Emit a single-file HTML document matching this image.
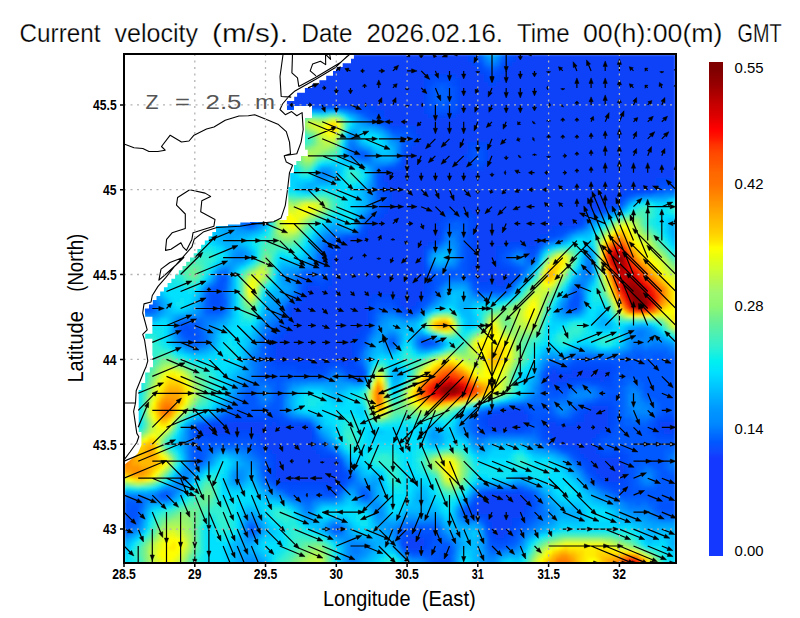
<!DOCTYPE html>
<html><head><meta charset="utf-8"><style>
html,body{margin:0;padding:0;background:#fff;width:800px;height:618px;overflow:hidden}
svg{display:block}
text{font-family:"Liberation Sans",sans-serif}
.ttl{font-size:25px;fill:#000;stroke:#fff;stroke-width:0.25px}
.ax{font-size:21.6px;fill:#000}
.tk{font-size:14px;font-weight:bold;fill:#000}
.cbl{font-size:14.2px;fill:#000}
.zl{font-size:20.5px;fill:#555}
</style></head><body><svg width="800" height="618" viewBox="0 0 800 618"><defs><clipPath id="pc"><rect x="124" y="54" width="552" height="509"/></clipPath><filter id="bl" x="0" y="0" width="1" height="1"><feGaussianBlur stdDeviation="1.6"/></filter></defs><g clip-path="url(#pc)"><g filter="url(#bl)"><path fill="#0842f8" d="M124 54h344v4h-344zM516 54h160v4h-160zM124 58h344v4h-344zM516 58h160v4h-160zM124 62h348v4h-348zM512 62h164v4h-164zM124 66h352v4h-352zM508 66h168v4h-168zM124 70h356v4h-356zM504 70h172v4h-172zM124 74h304v4h-304zM456 74h28v4h-28zM500 74h176v4h-176zM124 78h300v4h-300zM460 78h24v4h-24zM500 78h176v4h-176zM124 82h300v4h-300zM460 82h28v4h-28zM496 82h180v4h-180zM124 86h300v4h-300zM460 86h216v4h-216zM124 90h300v4h-300zM460 90h216v4h-216zM124 94h300v4h-300zM460 94h216v4h-216zM124 98h300v4h-300zM460 98h216v4h-216zM124 102h300v4h-300zM460 102h216v4h-216zM212 106h60v4h-60zM376 106h48v4h-48zM460 106h216v4h-216zM216 110h48v4h-48zM384 110h40v4h-40zM460 110h216v4h-216zM216 114h44v4h-44zM384 114h44v4h-44zM456 114h220v4h-220zM220 118h28v4h-28zM388 118h288v4h-288zM392 122h284v4h-284zM416 126h260v4h-260zM416 130h260v4h-260zM420 134h256v4h-256zM420 138h256v4h-256zM416 142h52v4h-52zM488 142h188v4h-188zM412 146h56v4h-56zM488 146h188v4h-188zM408 150h60v4h-60zM488 150h188v4h-188zM408 154h56v4h-56zM488 154h188v4h-188zM404 158h64v4h-64zM488 158h188v4h-188zM404 162h64v4h-64zM488 162h188v4h-188zM404 166h64v4h-64zM484 166h192v4h-192zM392 170h284v4h-284zM384 174h292v4h-292zM384 178h272v4h-272zM388 182h268v4h-268zM388 186h264v4h-264zM392 190h232v4h-232zM392 194h228v4h-228zM392 198h228v4h-228zM392 202h224v4h-224zM388 206h216v4h-216zM388 210h56v4h-56zM472 210h112v4h-112zM384 214h56v4h-56zM476 214h108v4h-108zM380 218h60v4h-60zM476 218h104v4h-104zM376 222h60v4h-60zM476 222h100v4h-100zM372 226h68v4h-68zM476 226h76v4h-76zM368 230h72v4h-72zM476 230h72v4h-72zM368 234h72v4h-72zM476 234h64v4h-64zM348 238h88v4h-88zM476 238h60v4h-60zM344 242h84v4h-84zM476 242h28v4h-28zM528 242h8v4h-8zM340 246h84v4h-84zM476 246h20v4h-20zM340 250h84v4h-84zM476 250h20v4h-20zM336 254h88v4h-88zM476 254h20v4h-20zM332 258h92v4h-92zM476 258h20v4h-20zM332 262h92v4h-92zM476 262h20v4h-20zM332 266h92v4h-92zM472 266h28v4h-28zM332 270h92v4h-92zM476 270h32v4h-32zM332 274h92v4h-92zM476 274h32v4h-32zM332 278h92v4h-92zM480 278h8v4h-8zM492 278h16v4h-16zM332 282h92v4h-92zM496 282h8v4h-8zM308 286h12v4h-12zM328 286h96v4h-96zM308 290h116v4h-116zM304 294h68v4h-68zM396 294h24v4h-24zM304 298h64v4h-64zM400 298h20v4h-20zM300 302h68v4h-68zM400 302h16v4h-16zM292 306h76v4h-76zM404 306h8v4h-8zM292 310h76v4h-76zM292 314h76v4h-76zM292 318h76v4h-76zM292 322h76v4h-76zM292 326h72v4h-72zM288 330h72v4h-72zM284 334h72v4h-72zM280 338h72v4h-72zM276 342h76v4h-76zM276 346h76v4h-76zM276 350h76v4h-76zM276 354h76v4h-76zM276 358h76v4h-76zM316 362h4v4h-4zM344 362h4v4h-4zM552 370h4v4h-4zM572 370h36v4h-36zM548 374h60v4h-60zM548 378h20v4h-20zM600 378h4v4h-4zM552 382h4v4h-4zM592 406h16v4h-16zM500 410h24v4h-24zM588 410h20v4h-20zM492 414h36v4h-36zM584 414h24v4h-24zM488 418h40v4h-40zM584 418h24v4h-24zM228 422h36v4h-36zM272 422h4v4h-4zM488 422h36v4h-36zM548 422h8v4h-8zM576 422h32v4h-32zM660 422h16v4h-16zM204 426h104v4h-104zM492 426h28v4h-28zM548 426h60v4h-60zM660 426h16v4h-16zM204 430h36v4h-36zM252 430h60v4h-60zM548 430h52v4h-52zM664 430h8v4h-8zM260 434h52v4h-52zM552 434h44v4h-44zM260 438h52v4h-52zM556 438h36v4h-36zM264 442h48v4h-48zM560 442h32v4h-32zM268 446h44v4h-44zM576 446h20v4h-20zM272 450h44v4h-44zM580 450h16v4h-16zM276 454h44v4h-44zM584 454h16v4h-16zM276 458h60v4h-60zM588 458h32v4h-32zM276 462h64v4h-64zM592 462h32v4h-32zM276 466h64v4h-64zM592 466h32v4h-32zM276 470h64v4h-64zM596 470h28v4h-28zM276 474h64v4h-64zM600 474h24v4h-24zM280 478h60v4h-60zM604 478h16v4h-16zM328 482h8v4h-8zM488 494h36v4h-36zM480 498h48v4h-48zM476 502h52v4h-52zM476 506h48v4h-48zM476 510h48v4h-48zM488 514h32v4h-32zM488 518h24v4h-24zM492 522h20v4h-20zM492 526h16v4h-16zM492 530h16v4h-16zM496 534h8v4h-8zM408 538h16v4h-16zM404 542h20v4h-20zM408 546h12v4h-12z"/><path fill="#0648fa" d="M468 54h4v4h-4zM512 54h4v4h-4zM468 58h4v4h-4zM512 58h4v4h-4zM472 62h4v4h-4zM508 62h4v4h-4zM476 66h4v4h-4zM504 66h4v4h-4zM480 70h4v4h-4zM500 70h4v4h-4zM428 74h28v4h-28zM484 74h4v4h-4zM496 74h4v4h-4zM424 78h8v4h-8zM456 78h4v4h-4zM484 78h16v4h-16zM424 82h4v4h-4zM456 82h4v4h-4zM488 82h8v4h-8zM424 86h4v4h-4zM424 90h4v4h-4zM424 94h4v4h-4zM424 98h4v4h-4zM424 102h4v4h-4zM124 106h88v4h-88zM272 106h20v4h-20zM360 106h16v4h-16zM424 106h4v4h-4zM456 106h4v4h-4zM212 110h4v4h-4zM264 110h12v4h-12zM372 110h12v4h-12zM424 110h4v4h-4zM456 110h4v4h-4zM260 114h8v4h-8zM380 114h4v4h-4zM428 114h28v4h-28zM216 118h4v4h-4zM248 118h12v4h-12zM384 118h4v4h-4zM388 122h4v4h-4zM408 126h8v4h-8zM412 130h4v4h-4zM416 134h4v4h-4zM416 138h4v4h-4zM412 142h4v4h-4zM468 142h20v4h-20zM408 146h4v4h-4zM468 146h4v4h-4zM484 146h4v4h-4zM404 150h4v4h-4zM404 154h4v4h-4zM464 154h4v4h-4zM468 162h4v4h-4zM484 162h4v4h-4zM400 166h4v4h-4zM468 166h16v4h-16zM388 170h4v4h-4zM656 178h20v4h-20zM384 182h4v4h-4zM656 182h4v4h-4zM384 186h4v4h-4zM652 186h4v4h-4zM384 190h8v4h-8zM624 190h20v4h-20zM388 194h4v4h-4zM620 194h4v4h-4zM388 198h4v4h-4zM388 202h4v4h-4zM384 206h4v4h-4zM604 206h4v4h-4zM384 210h4v4h-4zM444 210h28v4h-28zM584 210h4v4h-4zM380 214h4v4h-4zM440 214h4v4h-4zM468 214h8v4h-8zM376 218h4v4h-4zM440 218h4v4h-4zM472 218h4v4h-4zM580 218h4v4h-4zM372 222h4v4h-4zM436 222h4v4h-4zM472 222h4v4h-4zM576 222h4v4h-4zM368 226h4v4h-4zM472 226h4v4h-4zM552 226h16v4h-16zM364 230h4v4h-4zM472 230h4v4h-4zM548 230h8v4h-8zM360 234h8v4h-8zM472 234h4v4h-4zM540 234h8v4h-8zM344 238h4v4h-4zM436 238h4v4h-4zM472 238h4v4h-4zM536 238h4v4h-4zM340 242h4v4h-4zM428 242h4v4h-4zM472 242h4v4h-4zM504 242h24v4h-24zM336 246h4v4h-4zM424 246h4v4h-4zM472 246h4v4h-4zM496 246h8v4h-8zM528 246h8v4h-8zM332 250h8v4h-8zM472 250h4v4h-4zM496 250h4v4h-4zM328 254h8v4h-8zM472 254h4v4h-4zM496 254h4v4h-4zM328 258h4v4h-4zM472 258h4v4h-4zM496 258h4v4h-4zM328 262h4v4h-4zM472 262h4v4h-4zM496 262h4v4h-4zM500 266h8v4h-8zM472 270h4v4h-4zM508 270h4v4h-4zM424 274h4v4h-4zM472 274h4v4h-4zM508 274h4v4h-4zM328 278h4v4h-4zM424 278h4v4h-4zM476 278h4v4h-4zM488 278h4v4h-4zM508 278h4v4h-4zM308 282h8v4h-8zM324 282h8v4h-8zM424 282h8v4h-8zM476 282h20v4h-20zM504 282h4v4h-4zM304 286h4v4h-4zM320 286h8v4h-8zM424 286h4v4h-4zM500 286h4v4h-4zM304 290h4v4h-4zM424 290h4v4h-4zM372 294h24v4h-24zM420 294h4v4h-4zM300 298h4v4h-4zM368 298h8v4h-8zM392 298h8v4h-8zM420 298h4v4h-4zM296 302h4v4h-4zM368 302h4v4h-4zM396 302h4v4h-4zM416 302h4v4h-4zM368 306h4v4h-4zM400 306h4v4h-4zM412 306h4v4h-4zM288 310h4v4h-4zM288 314h4v4h-4zM288 318h4v4h-4zM288 322h4v4h-4zM288 326h4v4h-4zM364 326h4v4h-4zM284 330h4v4h-4zM360 330h4v4h-4zM280 334h4v4h-4zM356 334h8v4h-8zM276 338h4v4h-4zM352 338h8v4h-8zM272 342h4v4h-4zM352 342h4v4h-4zM272 346h4v4h-4zM352 346h4v4h-4zM272 350h4v4h-4zM352 350h4v4h-4zM272 354h4v4h-4zM352 354h4v4h-4zM272 358h4v4h-4zM352 358h4v4h-4zM276 362h40v4h-40zM320 362h12v4h-12zM340 362h4v4h-4zM348 362h8v4h-8zM296 366h28v4h-28zM348 366h8v4h-8zM572 366h40v4h-40zM356 370h4v4h-4zM548 370h4v4h-4zM556 370h16v4h-16zM608 370h4v4h-4zM608 374h4v4h-4zM568 378h32v4h-32zM604 378h8v4h-8zM548 382h4v4h-4zM556 382h12v4h-12zM512 406h8v4h-8zM588 406h4v4h-4zM608 406h4v4h-4zM496 410h4v4h-4zM524 410h4v4h-4zM584 410h4v4h-4zM608 410h4v4h-4zM488 414h4v4h-4zM580 414h4v4h-4zM608 414h4v4h-4zM232 418h48v4h-48zM484 418h4v4h-4zM548 418h4v4h-4zM576 418h8v4h-8zM608 418h4v4h-4zM660 418h16v4h-16zM212 422h16v4h-16zM264 422h8v4h-8zM276 422h16v4h-16zM300 422h4v4h-4zM484 422h4v4h-4zM524 422h4v4h-4zM544 422h4v4h-4zM556 422h20v4h-20zM608 422h4v4h-4zM656 422h4v4h-4zM200 426h4v4h-4zM308 426h4v4h-4zM488 426h4v4h-4zM520 426h4v4h-4zM544 426h4v4h-4zM608 426h4v4h-4zM656 426h4v4h-4zM200 430h4v4h-4zM240 430h12v4h-12zM544 430h4v4h-4zM600 430h8v4h-8zM656 430h8v4h-8zM672 430h4v4h-4zM200 434h40v4h-40zM252 434h8v4h-8zM548 434h4v4h-4zM596 434h4v4h-4zM256 438h4v4h-4zM552 438h4v4h-4zM592 438h4v4h-4zM260 442h4v4h-4zM312 442h4v4h-4zM556 442h4v4h-4zM592 442h4v4h-4zM264 446h4v4h-4zM312 446h4v4h-4zM564 446h12v4h-12zM268 450h4v4h-4zM316 450h4v4h-4zM576 450h4v4h-4zM596 450h4v4h-4zM272 454h4v4h-4zM320 454h12v4h-12zM580 454h4v4h-4zM600 454h24v4h-24zM272 458h4v4h-4zM336 458h4v4h-4zM584 458h4v4h-4zM620 458h4v4h-4zM272 462h4v4h-4zM588 462h4v4h-4zM272 466h4v4h-4zM588 466h4v4h-4zM624 466h4v4h-4zM272 470h4v4h-4zM340 470h4v4h-4zM592 470h4v4h-4zM624 470h4v4h-4zM272 474h4v4h-4zM340 474h4v4h-4zM596 474h4v4h-4zM276 478h4v4h-4zM340 478h4v4h-4zM600 478h4v4h-4zM620 478h4v4h-4zM284 482h44v4h-44zM336 482h4v4h-4zM608 482h16v4h-16zM324 486h12v4h-12zM516 490h4v4h-4zM484 494h4v4h-4zM524 494h4v4h-4zM528 498h4v4h-4zM528 502h4v4h-4zM472 506h4v4h-4zM524 506h4v4h-4zM468 510h8v4h-8zM524 510h4v4h-4zM480 514h8v4h-8zM520 514h4v4h-4zM512 518h8v4h-8zM488 522h4v4h-4zM512 522h4v4h-4zM488 526h4v4h-4zM508 526h4v4h-4zM508 530h4v4h-4zM408 534h12v4h-12zM492 534h4v4h-4zM504 534h4v4h-4zM404 538h4v4h-4zM424 538h4v4h-4zM496 538h8v4h-8zM424 542h4v4h-4zM404 546h4v4h-4zM420 546h8v4h-8z"/><path fill="#044dfc" d="M472 54h4v4h-4zM508 54h4v4h-4zM472 58h4v4h-4zM508 58h4v4h-4zM476 62h4v4h-4zM504 62h4v4h-4zM480 66h4v4h-4zM500 66h4v4h-4zM484 70h4v4h-4zM496 70h4v4h-4zM488 74h8v4h-8zM432 78h24v4h-24zM428 82h4v4h-4zM452 82h4v4h-4zM456 86h4v4h-4zM456 90h4v4h-4zM456 94h4v4h-4zM456 98h4v4h-4zM456 102h4v4h-4zM292 106h8v4h-8zM348 106h12v4h-12zM428 106h4v4h-4zM192 110h20v4h-20zM276 110h4v4h-4zM368 110h4v4h-4zM428 110h8v4h-8zM448 110h8v4h-8zM212 114h4v4h-4zM268 114h4v4h-4zM376 114h4v4h-4zM260 118h4v4h-4zM380 118h4v4h-4zM220 122h16v4h-16zM392 126h16v4h-16zM408 130h4v4h-4zM412 134h4v4h-4zM412 138h4v4h-4zM408 142h4v4h-4zM472 146h12v4h-12zM468 150h4v4h-4zM484 150h4v4h-4zM468 154h4v4h-4zM484 154h4v4h-4zM468 158h4v4h-4zM484 158h4v4h-4zM400 162h4v4h-4zM472 162h12v4h-12zM396 166h4v4h-4zM384 170h4v4h-4zM380 174h4v4h-4zM380 178h4v4h-4zM380 182h4v4h-4zM660 182h16v4h-16zM656 186h4v4h-4zM644 190h8v4h-8zM384 194h4v4h-4zM624 194h4v4h-4zM384 198h4v4h-4zM620 198h4v4h-4zM384 202h4v4h-4zM616 202h4v4h-4zM608 206h4v4h-4zM380 210h4v4h-4zM588 210h8v4h-8zM376 214h4v4h-4zM444 214h24v4h-24zM584 214h4v4h-4zM372 218h4v4h-4zM444 218h4v4h-4zM468 218h4v4h-4zM368 222h4v4h-4zM440 222h4v4h-4zM468 222h4v4h-4zM580 222h4v4h-4zM364 226h4v4h-4zM440 226h4v4h-4zM468 226h4v4h-4zM568 226h8v4h-8zM440 230h4v4h-4zM468 230h4v4h-4zM556 230h8v4h-8zM356 234h4v4h-4zM468 234h4v4h-4zM548 234h8v4h-8zM340 238h4v4h-4zM468 238h4v4h-4zM540 238h4v4h-4zM336 242h4v4h-4zM432 242h4v4h-4zM468 242h4v4h-4zM536 242h4v4h-4zM332 246h4v4h-4zM468 246h4v4h-4zM504 246h8v4h-8zM524 246h4v4h-4zM328 250h4v4h-4zM468 250h4v4h-4zM500 250h4v4h-4zM528 250h8v4h-8zM468 254h4v4h-4zM324 258h4v4h-4zM468 258h4v4h-4zM468 262h4v4h-4zM500 262h4v4h-4zM328 266h4v4h-4zM424 266h4v4h-4zM468 266h4v4h-4zM508 266h4v4h-4zM328 270h4v4h-4zM424 270h4v4h-4zM468 270h4v4h-4zM512 270h4v4h-4zM328 274h4v4h-4zM428 274h4v4h-4zM512 274h4v4h-4zM308 278h8v4h-8zM324 278h4v4h-4zM428 278h4v4h-4zM472 278h4v4h-4zM304 282h4v4h-4zM316 282h8v4h-8zM508 282h4v4h-4zM428 286h4v4h-4zM480 286h20v4h-20zM504 286h4v4h-4zM428 290h4v4h-4zM212 294h8v4h-8zM300 294h4v4h-4zM424 294h4v4h-4zM212 298h8v4h-8zM296 298h4v4h-4zM376 298h16v4h-16zM212 302h8v4h-8zM292 302h4v4h-4zM372 302h4v4h-4zM392 302h4v4h-4zM288 306h4v4h-4zM396 306h4v4h-4zM416 306h4v4h-4zM368 310h4v4h-4zM404 310h8v4h-8zM368 314h4v4h-4zM368 318h4v4h-4zM284 322h4v4h-4zM368 322h4v4h-4zM184 326h4v4h-4zM284 326h4v4h-4zM188 330h4v4h-4zM280 330h4v4h-4zM364 330h4v4h-4zM272 334h8v4h-8zM272 338h4v4h-4zM360 338h4v4h-4zM268 342h4v4h-4zM356 342h4v4h-4zM268 346h4v4h-4zM356 346h4v4h-4zM268 350h4v4h-4zM268 354h4v4h-4zM272 362h4v4h-4zM332 362h8v4h-8zM576 362h36v4h-36zM276 366h20v4h-20zM324 366h4v4h-4zM344 366h4v4h-4zM356 366h4v4h-4zM552 366h4v4h-4zM568 366h4v4h-4zM612 366h4v4h-4zM296 370h28v4h-28zM348 370h8v4h-8zM360 370h4v4h-4zM612 370h4v4h-4zM356 374h8v4h-8zM544 374h4v4h-4zM544 378h4v4h-4zM544 382h4v4h-4zM568 382h4v4h-4zM600 382h12v4h-12zM548 386h16v4h-16zM596 402h16v4h-16zM504 406h8v4h-8zM520 406h4v4h-4zM584 406h4v4h-4zM612 406h4v4h-4zM492 410h4v4h-4zM580 410h4v4h-4zM612 410h4v4h-4zM236 414h12v4h-12zM268 414h8v4h-8zM484 414h4v4h-4zM528 414h4v4h-4zM576 414h4v4h-4zM612 414h4v4h-4zM664 414h8v4h-8zM224 418h8v4h-8zM280 418h4v4h-4zM480 418h4v4h-4zM528 418h4v4h-4zM544 418h4v4h-4zM552 418h4v4h-4zM572 418h4v4h-4zM612 418h4v4h-4zM656 418h4v4h-4zM208 422h4v4h-4zM292 422h8v4h-8zM304 422h4v4h-4zM480 422h4v4h-4zM540 422h4v4h-4zM612 422h4v4h-4zM196 426h4v4h-4zM484 426h4v4h-4zM524 426h4v4h-4zM540 426h4v4h-4zM652 426h4v4h-4zM196 430h4v4h-4zM492 430h8v4h-8zM516 430h4v4h-4zM608 430h4v4h-4zM652 430h4v4h-4zM196 434h4v4h-4zM240 434h12v4h-12zM312 434h4v4h-4zM544 434h4v4h-4zM600 434h8v4h-8zM656 434h20v4h-20zM208 438h28v4h-28zM252 438h4v4h-4zM312 438h4v4h-4zM548 438h4v4h-4zM596 438h4v4h-4zM256 442h4v4h-4zM316 442h4v4h-4zM552 442h4v4h-4zM596 442h4v4h-4zM260 446h4v4h-4zM316 446h4v4h-4zM560 446h4v4h-4zM596 446h4v4h-4zM264 450h4v4h-4zM320 450h4v4h-4zM572 450h4v4h-4zM600 450h4v4h-4zM612 450h12v4h-12zM268 454h4v4h-4zM332 454h4v4h-4zM576 454h4v4h-4zM624 454h4v4h-4zM268 458h4v4h-4zM580 458h4v4h-4zM624 458h4v4h-4zM584 462h4v4h-4zM624 462h4v4h-4zM268 466h4v4h-4zM340 466h4v4h-4zM268 470h4v4h-4zM588 470h4v4h-4zM268 474h4v4h-4zM344 474h4v4h-4zM592 474h4v4h-4zM624 474h4v4h-4zM272 478h4v4h-4zM596 478h4v4h-4zM624 478h4v4h-4zM276 482h8v4h-8zM340 482h4v4h-4zM604 482h4v4h-4zM624 482h4v4h-4zM288 486h36v4h-36zM336 486h4v4h-4zM612 486h16v4h-16zM324 490h12v4h-12zM488 490h28v4h-28zM520 490h4v4h-4zM480 494h4v4h-4zM528 494h4v4h-4zM476 498h4v4h-4zM472 502h4v4h-4zM468 506h4v4h-4zM528 506h4v4h-4zM472 514h8v4h-8zM524 514h4v4h-4zM484 518h4v4h-4zM520 518h4v4h-4zM516 522h4v4h-4zM512 526h4v4h-4zM488 530h4v4h-4zM512 530h4v4h-4zM404 534h4v4h-4zM420 534h12v4h-12zM488 534h4v4h-4zM508 534h4v4h-4zM428 538h4v4h-4zM492 538h4v4h-4zM504 538h4v4h-4zM428 542h4v4h-4zM412 550h12v4h-12z"/><path fill="#0058ff" d="M476 54h4v4h-4zM504 54h4v4h-4zM484 66h4v4h-4zM496 66h4v4h-4zM436 82h12v4h-12zM432 86h8v4h-8zM444 86h8v4h-8zM432 90h4v4h-4zM448 90h4v4h-4zM432 94h4v4h-4zM448 94h4v4h-4zM432 98h4v4h-4zM448 98h4v4h-4zM432 102h8v4h-8zM444 102h8v4h-8zM304 106h40v4h-40zM436 106h12v4h-12zM288 110h4v4h-4zM356 110h4v4h-4zM192 114h12v4h-12zM364 114h4v4h-4zM208 118h4v4h-4zM272 118h4v4h-4zM372 118h4v4h-4zM252 122h8v4h-8zM380 122h4v4h-4zM392 130h8v4h-8zM404 134h4v4h-4zM404 138h4v4h-4zM404 142h4v4h-4zM476 150h4v4h-4zM360 154h8v4h-8zM400 154h4v4h-4zM476 154h4v4h-4zM396 162h4v4h-4zM384 166h4v4h-4zM376 174h4v4h-4zM376 178h4v4h-4zM376 182h4v4h-4zM240 186h12v4h-12zM376 186h4v4h-4zM664 186h4v4h-4zM240 190h4v4h-4zM376 190h4v4h-4zM240 194h4v4h-4zM628 194h4v4h-4zM240 198h4v4h-4zM240 202h12v4h-12zM620 202h4v4h-4zM244 206h8v4h-8zM376 206h4v4h-4zM616 206h4v4h-4zM244 210h4v4h-4zM252 210h4v4h-4zM604 210h4v4h-4zM244 214h4v4h-4zM252 214h4v4h-4zM588 214h4v4h-4zM244 218h4v4h-4zM252 218h4v4h-4zM456 218h4v4h-4zM248 222h4v4h-4zM448 222h4v4h-4zM460 222h8v4h-8zM360 226h4v4h-4zM444 226h4v4h-4zM464 226h4v4h-4zM576 226h4v4h-4zM464 230h4v4h-4zM344 234h8v4h-8zM560 234h4v4h-4zM336 238h4v4h-4zM440 238h4v4h-4zM548 238h4v4h-4zM328 242h4v4h-4zM540 242h4v4h-4zM324 246h4v4h-4zM516 246h4v4h-4zM508 250h4v4h-4zM524 250h4v4h-4zM320 254h4v4h-4zM504 254h4v4h-4zM320 258h4v4h-4zM424 258h4v4h-4zM504 258h4v4h-4zM320 262h4v4h-4zM460 262h4v4h-4zM508 262h4v4h-4zM320 266h4v4h-4zM460 266h4v4h-4zM516 266h4v4h-4zM320 270h4v4h-4zM448 270h16v4h-16zM220 274h4v4h-4zM304 274h4v4h-4zM312 274h12v4h-12zM436 274h20v4h-20zM464 274h4v4h-4zM224 278h4v4h-4zM300 278h4v4h-4zM436 278h8v4h-8zM468 278h4v4h-4zM216 282h4v4h-4zM300 282h4v4h-4zM436 282h4v4h-4zM212 286h4v4h-4zM472 286h4v4h-4zM508 286h4v4h-4zM220 290h4v4h-4zM432 290h4v4h-4zM476 290h24v4h-24zM504 290h4v4h-4zM576 290h4v4h-4zM296 294h4v4h-4zM572 294h4v4h-4zM124 298h12v4h-12zM292 298h4v4h-4zM428 298h4v4h-4zM132 302h20v4h-20zM424 302h4v4h-4zM568 302h4v4h-4zM124 306h20v4h-20zM208 306h4v4h-4zM284 306h4v4h-4zM376 306h20v4h-20zM420 306h4v4h-4zM568 306h4v4h-4zM576 306h4v4h-4zM208 310h12v4h-12zM284 310h4v4h-4zM396 310h4v4h-4zM372 314h4v4h-4zM280 318h4v4h-4zM372 318h4v4h-4zM180 322h4v4h-4zM188 322h8v4h-8zM280 322h4v4h-4zM196 326h4v4h-4zM276 326h4v4h-4zM196 330h4v4h-4zM272 330h4v4h-4zM368 330h4v4h-4zM268 334h4v4h-4zM188 338h4v4h-4zM196 338h4v4h-4zM264 338h4v4h-4zM364 338h4v4h-4zM420 338h12v4h-12zM264 342h4v4h-4zM420 342h4v4h-4zM432 342h4v4h-4zM264 346h4v4h-4zM360 346h4v4h-4zM264 350h4v4h-4zM264 354h4v4h-4zM356 354h4v4h-4zM636 354h8v4h-8zM652 354h12v4h-12zM264 358h4v4h-4zM356 358h4v4h-4zM572 358h8v4h-8zM584 358h92v4h-92zM264 362h4v4h-4zM568 362h4v4h-4zM628 362h44v4h-44zM264 366h4v4h-4zM332 366h8v4h-8zM624 366h4v4h-4zM632 366h44v4h-44zM264 370h4v4h-4zM620 370h56v4h-56zM264 374h60v4h-60zM348 374h4v4h-4zM616 374h60v4h-60zM268 378h16v4h-16zM356 378h4v4h-4zM616 378h8v4h-8zM640 378h36v4h-36zM276 382h4v4h-4zM576 382h16v4h-16zM616 382h8v4h-8zM644 382h32v4h-32zM276 386h4v4h-4zM568 386h4v4h-4zM600 386h4v4h-4zM616 386h4v4h-4zM644 386h32v4h-32zM248 390h4v4h-4zM276 390h4v4h-4zM544 390h8v4h-8zM560 390h8v4h-8zM604 390h16v4h-16zM644 390h32v4h-32zM244 394h12v4h-12zM276 394h4v4h-4zM548 394h12v4h-12zM600 394h8v4h-8zM616 394h4v4h-4zM648 394h28v4h-28zM244 398h12v4h-12zM276 398h4v4h-4zM596 398h4v4h-4zM616 398h4v4h-4zM656 398h20v4h-20zM244 402h12v4h-12zM272 402h8v4h-8zM544 402h4v4h-4zM584 402h4v4h-4zM616 402h4v4h-4zM660 402h16v4h-16zM236 406h24v4h-24zM268 406h12v4h-12zM528 406h24v4h-24zM576 406h4v4h-4zM616 406h4v4h-4zM660 406h16v4h-16zM232 410h4v4h-4zM244 410h24v4h-24zM484 410h4v4h-4zM532 410h20v4h-20zM616 410h4v4h-4zM660 410h4v4h-4zM668 410h8v4h-8zM224 414h4v4h-4zM476 414h4v4h-4zM536 414h4v4h-4zM552 414h4v4h-4zM616 414h4v4h-4zM656 414h4v4h-4zM216 418h4v4h-4zM288 418h4v4h-4zM476 418h4v4h-4zM616 418h8v4h-8zM652 418h4v4h-4zM476 422h4v4h-4zM532 422h4v4h-4zM616 422h8v4h-8zM648 422h4v4h-4zM192 426h4v4h-4zM312 426h4v4h-4zM476 426h4v4h-4zM532 426h8v4h-8zM616 426h32v4h-32zM476 430h8v4h-8zM524 430h8v4h-8zM536 430h4v4h-4zM616 430h32v4h-32zM612 434h40v4h-40zM192 438h4v4h-4zM316 438h4v4h-4zM540 438h4v4h-4zM604 438h52v4h-52zM192 442h4v4h-4zM204 442h48v4h-48zM320 442h4v4h-4zM604 442h72v4h-72zM192 446h4v4h-4zM200 446h8v4h-8zM252 446h4v4h-4zM324 446h4v4h-4zM604 446h12v4h-12zM624 446h44v4h-44zM192 450h4v4h-4zM200 450h4v4h-4zM256 450h4v4h-4zM328 450h4v4h-4zM564 450h4v4h-4zM628 450h36v4h-36zM192 454h4v4h-4zM200 454h4v4h-4zM260 454h4v4h-4zM336 454h4v4h-4zM632 454h32v4h-32zM192 458h4v4h-4zM200 458h4v4h-4zM264 458h4v4h-4zM632 458h32v4h-32zM264 462h4v4h-4zM632 462h8v4h-8zM648 462h16v4h-16zM264 466h4v4h-4zM632 466h4v4h-4zM656 466h8v4h-8zM584 470h4v4h-4zM632 470h4v4h-4zM660 470h8v4h-8zM348 474h4v4h-4zM588 474h4v4h-4zM632 474h4v4h-4zM660 474h16v4h-16zM264 478h4v4h-4zM348 478h4v4h-4zM592 478h4v4h-4zM632 478h4v4h-4zM660 478h16v4h-16zM344 482h4v4h-4zM596 482h4v4h-4zM632 482h4v4h-4zM660 482h16v4h-16zM276 486h4v4h-4zM340 486h4v4h-4zM516 486h4v4h-4zM604 486h4v4h-4zM632 486h8v4h-8zM656 486h20v4h-20zM284 490h4v4h-4zM480 490h4v4h-4zM528 490h4v4h-4zM612 490h4v4h-4zM632 490h44v4h-44zM160 494h8v4h-8zM292 494h44v4h-44zM364 494h4v4h-4zM476 494h4v4h-4zM532 494h4v4h-4zM620 494h56v4h-56zM472 498h4v4h-4zM648 498h28v4h-28zM124 502h16v4h-16zM536 502h4v4h-4zM656 502h4v4h-4zM124 506h8v4h-8zM136 506h4v4h-4zM464 506h4v4h-4zM656 506h4v4h-4zM124 510h4v4h-4zM136 510h4v4h-4zM532 510h4v4h-4zM660 510h16v4h-16zM124 514h4v4h-4zM136 514h4v4h-4zM464 514h4v4h-4zM532 514h4v4h-4zM132 518h4v4h-4zM480 518h4v4h-4zM528 518h4v4h-4zM128 522h8v4h-8zM524 522h4v4h-4zM124 526h4v4h-4zM248 526h8v4h-8zM336 526h4v4h-4zM408 526h28v4h-28zM520 526h4v4h-4zM400 530h4v4h-4zM516 530h4v4h-4zM400 534h4v4h-4zM436 534h4v4h-4zM436 538h4v4h-4zM512 538h4v4h-4zM432 542h16v4h-16zM488 542h4v4h-4zM508 542h4v4h-4zM432 546h12v4h-12zM448 546h4v4h-4zM492 546h12v4h-12zM404 550h4v4h-4zM432 550h8v4h-8zM448 550h4v4h-4zM424 554h16v4h-16zM448 554h4v4h-4zM432 558h8v4h-8zM448 558h4v4h-4zM432 562h8v4h-8zM448 562h4v4h-4z"/><path fill="#0070ff" d="M480 54h4v4h-4zM500 54h4v4h-4zM484 62h4v4h-4zM496 62h4v4h-4zM352 110h4v4h-4zM284 114h4v4h-4zM360 114h4v4h-4zM192 118h12v4h-12zM208 122h4v4h-4zM268 122h4v4h-4zM220 126h12v4h-12zM388 130h4v4h-4zM392 134h4v4h-4zM352 146h4v4h-4zM364 150h4v4h-4zM352 154h4v4h-4zM368 154h4v4h-4zM360 158h8v4h-8zM392 162h4v4h-4zM376 166h4v4h-4zM236 178h12v4h-12zM232 186h4v4h-4zM252 186h4v4h-4zM232 190h4v4h-4zM664 190h12v4h-12zM232 194h4v4h-4zM636 194h8v4h-8zM236 202h4v4h-4zM236 206h4v4h-4zM372 206h4v4h-4zM236 210h4v4h-4zM256 210h4v4h-4zM608 210h4v4h-4zM256 214h4v4h-4zM596 214h4v4h-4zM240 218h4v4h-4zM256 218h4v4h-4zM588 218h4v4h-4zM240 222h4v4h-4zM360 222h4v4h-4zM248 226h4v4h-4zM448 230h12v4h-12zM572 230h4v4h-4zM332 234h8v4h-8zM444 234h4v4h-4zM456 234h4v4h-4zM564 234h4v4h-4zM328 238h4v4h-4zM444 238h4v4h-4zM456 238h4v4h-4zM556 238h4v4h-4zM440 242h4v4h-4zM544 242h4v4h-4zM320 246h4v4h-4zM540 246h4v4h-4zM428 250h4v4h-4zM516 250h8v4h-8zM316 254h4v4h-4zM316 258h4v4h-4zM524 258h4v4h-4zM456 262h4v4h-4zM516 262h4v4h-4zM524 262h8v4h-8zM312 266h4v4h-4zM448 266h8v4h-8zM524 266h4v4h-4zM588 266h4v4h-4zM220 270h8v4h-8zM300 270h4v4h-4zM216 274h4v4h-4zM296 274h4v4h-4zM520 274h4v4h-4zM296 278h4v4h-4zM448 278h20v4h-20zM212 282h4v4h-4zM296 282h4v4h-4zM468 282h4v4h-4zM124 286h8v4h-8zM296 286h4v4h-4zM572 286h4v4h-4zM124 290h12v4h-12zM204 290h4v4h-4zM224 290h4v4h-4zM296 290h4v4h-4zM472 290h4v4h-4zM136 294h8v4h-8zM224 294h4v4h-4zM292 294h4v4h-4zM436 294h4v4h-4zM568 294h4v4h-4zM580 294h4v4h-4zM288 298h4v4h-4zM432 298h4v4h-4zM580 298h4v4h-4zM284 302h4v4h-4zM428 302h4v4h-4zM224 306h4v4h-4zM424 306h4v4h-4zM564 306h4v4h-4zM124 310h16v4h-16zM152 310h4v4h-4zM280 310h4v4h-4zM384 310h12v4h-12zM568 310h8v4h-8zM204 314h16v4h-16zM376 314h4v4h-4zM400 314h4v4h-4zM412 314h4v4h-4zM184 318h20v4h-20zM276 318h4v4h-4zM376 318h4v4h-4zM176 322h4v4h-4zM200 322h4v4h-4zM272 322h4v4h-4zM200 326h4v4h-4zM268 326h4v4h-4zM372 326h4v4h-4zM176 330h4v4h-4zM264 330h4v4h-4zM204 334h4v4h-4zM368 334h4v4h-4zM180 338h4v4h-4zM204 338h4v4h-4zM260 338h4v4h-4zM432 338h4v4h-4zM200 342h4v4h-4zM260 342h4v4h-4zM436 342h4v4h-4zM364 346h4v4h-4zM424 346h4v4h-4zM632 346h12v4h-12zM648 346h20v4h-20zM628 350h4v4h-4zM668 350h8v4h-8zM256 354h4v4h-4zM360 354h4v4h-4zM576 354h24v4h-24zM612 354h12v4h-12zM256 358h4v4h-4zM360 358h4v4h-4zM568 358h4v4h-4zM256 362h4v4h-4zM256 366h4v4h-4zM256 370h4v4h-4zM332 370h8v4h-8zM540 370h4v4h-4zM256 374h4v4h-4zM328 374h4v4h-4zM364 374h4v4h-4zM256 378h4v4h-4zM292 378h32v4h-32zM348 378h4v4h-4zM248 382h20v4h-20zM284 382h4v4h-4zM628 382h8v4h-8zM244 386h4v4h-4zM256 386h4v4h-4zM268 386h4v4h-4zM284 386h4v4h-4zM576 386h8v4h-8zM588 386h8v4h-8zM624 386h4v4h-4zM636 386h4v4h-4zM240 390h4v4h-4zM256 390h4v4h-4zM568 390h4v4h-4zM596 390h4v4h-4zM624 390h4v4h-4zM640 390h4v4h-4zM240 394h4v4h-4zM256 394h4v4h-4zM536 394h4v4h-4zM596 394h4v4h-4zM624 394h4v4h-4zM640 394h4v4h-4zM236 398h4v4h-4zM268 398h4v4h-4zM532 398h8v4h-8zM560 398h8v4h-8zM584 398h8v4h-8zM624 398h4v4h-4zM644 398h4v4h-4zM232 402h4v4h-4zM260 402h8v4h-8zM512 402h8v4h-8zM552 402h4v4h-4zM572 402h8v4h-8zM624 402h4v4h-4zM652 402h4v4h-4zM228 406h4v4h-4zM492 406h4v4h-4zM552 406h4v4h-4zM624 406h4v4h-4zM652 406h4v4h-4zM224 410h4v4h-4zM476 410h4v4h-4zM568 410h4v4h-4zM624 410h4v4h-4zM652 410h4v4h-4zM472 414h4v4h-4zM560 414h8v4h-8zM624 414h8v4h-8zM208 418h4v4h-4zM300 418h8v4h-8zM468 418h4v4h-4zM632 418h16v4h-16zM468 422h4v4h-4zM468 426h4v4h-4zM188 430h4v4h-4zM188 434h4v4h-4zM488 434h48v4h-48zM188 438h4v4h-4zM320 438h4v4h-4zM536 438h4v4h-4zM188 442h4v4h-4zM324 442h4v4h-4zM540 442h4v4h-4zM188 446h4v4h-4zM216 446h28v4h-28zM328 446h4v4h-4zM548 446h4v4h-4zM188 450h4v4h-4zM208 450h4v4h-4zM248 450h4v4h-4zM672 450h4v4h-4zM188 454h4v4h-4zM252 454h4v4h-4zM668 454h4v4h-4zM204 458h4v4h-4zM256 458h4v4h-4zM668 458h4v4h-4zM200 462h4v4h-4zM668 462h4v4h-4zM644 466h8v4h-8zM668 466h8v4h-8zM640 470h4v4h-4zM652 470h4v4h-4zM260 474h4v4h-4zM352 474h4v4h-4zM584 474h4v4h-4zM636 474h4v4h-4zM652 474h4v4h-4zM352 478h4v4h-4zM652 478h4v4h-4zM264 482h4v4h-4zM348 482h4v4h-4zM640 482h4v4h-4zM652 482h4v4h-4zM272 486h4v4h-4zM344 486h4v4h-4zM360 486h8v4h-8zM492 486h20v4h-20zM524 486h4v4h-4zM596 486h4v4h-4zM160 490h4v4h-4zM168 490h4v4h-4zM280 490h4v4h-4zM340 490h4v4h-4zM368 490h4v4h-4zM476 490h4v4h-4zM604 490h4v4h-4zM156 494h4v4h-4zM368 494h4v4h-4zM472 494h4v4h-4zM536 494h4v4h-4zM612 494h4v4h-4zM140 498h4v4h-4zM160 498h8v4h-8zM296 498h4v4h-4zM312 498h4v4h-4zM364 498h4v4h-4zM616 498h8v4h-8zM304 502h8v4h-8zM540 502h4v4h-4zM628 502h8v4h-8zM640 502h8v4h-8zM140 506h4v4h-4zM540 506h4v4h-4zM648 506h4v4h-4zM540 510h4v4h-4zM652 510h4v4h-4zM460 514h4v4h-4zM540 514h4v4h-4zM656 514h4v4h-4zM464 518h12v4h-12zM536 518h4v4h-4zM136 522h4v4h-4zM248 522h8v4h-8zM404 522h32v4h-32zM480 522h4v4h-4zM532 522h4v4h-4zM132 526h4v4h-4zM340 526h4v4h-4zM528 526h4v4h-4zM128 530h4v4h-4zM340 530h4v4h-4zM396 530h4v4h-4zM396 534h4v4h-4zM440 534h4v4h-4zM484 534h4v4h-4zM520 534h4v4h-4zM396 538h4v4h-4zM444 538h4v4h-4zM516 542h4v4h-4zM452 546h4v4h-4zM508 546h8v4h-8zM452 550h4v4h-4zM488 550h4v4h-4zM496 550h4v4h-4zM408 554h4v4h-4zM424 558h4v4h-4z"/><path fill="#0092ff" d="M484 54h4v4h-4zM496 54h4v4h-4zM488 58h8v4h-8zM300 110h4v4h-4zM344 110h4v4h-4zM292 114h4v4h-4zM140 122h52v4h-52zM280 122h4v4h-4zM364 122h4v4h-4zM208 126h4v4h-4zM256 126h12v4h-12zM376 126h4v4h-4zM348 134h8v4h-8zM356 142h4v4h-4zM372 154h4v4h-4zM236 158h4v4h-4zM352 158h4v4h-4zM372 158h4v4h-4zM392 158h4v4h-4zM232 162h12v4h-12zM364 162h4v4h-4zM232 166h4v4h-4zM240 166h4v4h-4zM228 170h4v4h-4zM244 170h4v4h-4zM328 170h4v4h-4zM228 174h4v4h-4zM328 174h4v4h-4zM228 178h4v4h-4zM228 182h4v4h-4zM256 186h4v4h-4zM368 186h4v4h-4zM368 190h4v4h-4zM368 194h4v4h-4zM664 194h8v4h-8zM228 198h4v4h-4zM368 198h4v4h-4zM632 198h4v4h-4zM228 202h4v4h-4zM260 202h4v4h-4zM368 202h4v4h-4zM228 206h4v4h-4zM260 206h4v4h-4zM368 206h4v4h-4zM228 210h4v4h-4zM260 210h4v4h-4zM364 210h4v4h-4zM228 214h4v4h-4zM360 214h4v4h-4zM596 218h4v4h-4zM232 222h4v4h-4zM260 222h4v4h-4zM236 226h4v4h-4zM256 226h4v4h-4zM328 230h4v4h-4zM580 230h4v4h-4zM564 238h4v4h-4zM316 242h4v4h-4zM448 242h4v4h-4zM552 242h4v4h-4zM452 246h4v4h-4zM236 250h8v4h-8zM232 254h4v4h-4zM244 254h4v4h-4zM312 254h4v4h-4zM232 258h12v4h-12zM452 258h4v4h-4zM536 258h4v4h-4zM432 262h4v4h-4zM448 262h4v4h-4zM124 266h4v4h-4zM220 266h4v4h-4zM228 266h4v4h-4zM124 270h8v4h-8zM228 270h4v4h-4zM288 270h8v4h-8zM580 270h4v4h-4zM128 274h8v4h-8zM284 274h8v4h-8zM524 274h4v4h-4zM132 278h8v4h-8zM284 278h8v4h-8zM576 278h4v4h-4zM136 282h8v4h-8zM288 282h4v4h-4zM452 282h12v4h-12zM572 282h4v4h-4zM584 282h4v4h-4zM144 286h4v4h-4zM228 286h4v4h-4zM444 286h4v4h-4zM148 290h4v4h-4zM228 290h4v4h-4zM288 290h4v4h-4zM468 290h4v4h-4zM152 294h4v4h-4zM200 294h4v4h-4zM228 294h4v4h-4zM284 294h4v4h-4zM440 294h4v4h-4zM504 294h4v4h-4zM156 298h4v4h-4zM228 298h4v4h-4zM280 298h4v4h-4zM228 302h4v4h-4zM560 302h4v4h-4zM160 306h4v4h-4zM228 306h4v4h-4zM276 306h4v4h-4zM428 306h4v4h-4zM196 310h4v4h-4zM272 310h4v4h-4zM560 310h4v4h-4zM124 314h20v4h-20zM152 314h4v4h-4zM188 314h4v4h-4zM224 314h4v4h-4zM268 314h4v4h-4zM220 318h4v4h-4zM264 318h4v4h-4zM384 318h4v4h-4zM400 318h4v4h-4zM408 318h4v4h-4zM212 322h4v4h-4zM380 322h4v4h-4zM172 326h4v4h-4zM208 326h4v4h-4zM260 326h4v4h-4zM636 326h12v4h-12zM172 330h4v4h-4zM376 330h4v4h-4zM388 330h8v4h-8zM648 330h4v4h-4zM396 334h4v4h-4zM416 334h4v4h-4zM424 334h4v4h-4zM652 334h4v4h-4zM256 338h4v4h-4zM656 338h8v4h-8zM208 342h4v4h-4zM440 342h4v4h-4zM628 342h4v4h-4zM668 342h4v4h-4zM184 346h4v4h-4zM204 346h4v4h-4zM252 346h4v4h-4zM368 346h4v4h-4zM416 346h4v4h-4zM576 350h16v4h-16zM616 350h4v4h-4zM248 354h4v4h-4zM248 358h4v4h-4zM364 358h4v4h-4zM544 358h4v4h-4zM540 362h4v4h-4zM248 366h4v4h-4zM248 370h4v4h-4zM536 374h4v4h-4zM244 378h4v4h-4zM332 378h8v4h-8zM536 378h4v4h-4zM240 382h4v4h-4zM300 382h8v4h-8zM352 382h12v4h-12zM236 386h4v4h-4zM532 386h4v4h-4zM532 390h4v4h-4zM232 394h4v4h-4zM528 394h4v4h-4zM500 402h4v4h-4zM632 402h4v4h-4zM636 406h4v4h-4zM288 410h4v4h-4zM212 414h4v4h-4zM296 414h4v4h-4zM196 418h4v4h-4zM460 422h4v4h-4zM460 426h4v4h-4zM184 430h4v4h-4zM184 434h4v4h-4zM184 438h4v4h-4zM488 438h36v4h-36zM184 442h4v4h-4zM472 442h4v4h-4zM528 442h4v4h-4zM184 446h4v4h-4zM536 446h4v4h-4zM184 450h4v4h-4zM228 450h8v4h-8zM548 450h4v4h-4zM212 454h4v4h-4zM240 454h4v4h-4zM560 454h4v4h-4zM244 458h4v4h-4zM344 458h4v4h-4zM248 462h4v4h-4zM568 462h4v4h-4zM184 466h4v4h-4zM200 466h4v4h-4zM252 466h4v4h-4zM572 466h4v4h-4zM192 470h4v4h-4zM236 470h8v4h-8zM576 470h4v4h-4zM188 474h4v4h-4zM232 474h4v4h-4zM240 474h4v4h-4zM356 474h4v4h-4zM176 478h4v4h-4zM184 478h4v4h-4zM232 478h4v4h-4zM240 478h4v4h-4zM256 478h4v4h-4zM364 482h4v4h-4zM512 482h4v4h-4zM524 482h4v4h-4zM584 482h4v4h-4zM164 486h4v4h-4zM476 486h4v4h-4zM532 486h4v4h-4zM588 486h4v4h-4zM176 490h4v4h-4zM268 490h4v4h-4zM344 490h4v4h-4zM372 490h4v4h-4zM472 490h4v4h-4zM596 490h4v4h-4zM276 494h4v4h-4zM372 494h4v4h-4zM600 494h4v4h-4zM372 498h4v4h-4zM544 498h4v4h-4zM608 498h4v4h-4zM296 502h4v4h-4zM316 502h4v4h-4zM368 502h12v4h-12zM616 502h4v4h-4zM144 506h4v4h-4zM300 506h4v4h-4zM312 506h4v4h-4zM372 506h4v4h-4zM548 506h4v4h-4zM620 506h4v4h-4zM380 510h4v4h-4zM456 510h4v4h-4zM628 510h4v4h-4zM376 514h8v4h-8zM456 514h4v4h-4zM548 514h4v4h-4zM636 514h12v4h-12zM420 518h4v4h-4zM436 518h4v4h-4zM548 518h4v4h-4zM648 518h8v4h-8zM140 522h4v4h-4zM328 522h4v4h-4zM340 522h4v4h-4zM396 522h4v4h-4zM464 522h8v4h-8zM476 522h4v4h-4zM544 522h4v4h-4zM344 526h4v4h-4zM388 526h4v4h-4zM480 526h4v4h-4zM344 530h4v4h-4zM388 530h4v4h-4zM444 530h4v4h-4zM532 530h4v4h-4zM128 534h4v4h-4zM244 534h4v4h-4zM256 534h4v4h-4zM332 534h4v4h-4zM344 534h4v4h-4zM448 534h4v4h-4zM248 538h4v4h-4zM344 538h12v4h-12zM392 538h4v4h-4zM364 542h4v4h-4zM456 542h4v4h-4zM368 546h4v4h-4zM396 546h4v4h-4zM456 546h4v4h-4zM364 550h4v4h-4zM508 550h8v4h-8zM360 554h4v4h-4zM244 558h12v4h-12zM356 558h4v4h-4zM408 558h4v4h-4zM484 558h4v4h-4zM244 562h4v4h-4zM256 562h4v4h-4zM344 562h4v4h-4zM356 562h4v4h-4zM416 562h4v4h-4zM484 562h4v4h-4zM492 562h4v4h-4z"/><path fill="#00a6ff" d="M488 54h8v4h-8zM304 110h4v4h-4zM316 110h8v4h-8zM340 110h4v4h-4zM284 122h4v4h-4zM160 126h36v4h-36zM272 126h8v4h-8zM364 126h8v4h-8zM216 130h4v4h-4zM224 130h4v4h-4zM352 130h4v4h-4zM380 130h4v4h-4zM384 134h4v4h-4zM356 138h4v4h-4zM388 142h4v4h-4zM344 146h4v4h-4zM368 146h4v4h-4zM392 146h4v4h-4zM344 150h4v4h-4zM372 150h4v4h-4zM224 154h20v4h-20zM392 154h4v4h-4zM224 158h4v4h-4zM244 158h4v4h-4zM348 158h4v4h-4zM380 158h12v4h-12zM224 162h4v4h-4zM356 162h4v4h-4zM224 166h4v4h-4zM248 166h4v4h-4zM320 166h12v4h-12zM224 170h4v4h-4zM252 170h4v4h-4zM316 170h4v4h-4zM332 170h4v4h-4zM224 174h4v4h-4zM332 174h4v4h-4zM224 178h4v4h-4zM256 178h4v4h-4zM316 178h4v4h-4zM328 178h4v4h-4zM368 178h4v4h-4zM224 182h4v4h-4zM224 186h4v4h-4zM224 190h4v4h-4zM260 190h4v4h-4zM364 190h4v4h-4zM224 194h4v4h-4zM260 194h4v4h-4zM364 194h4v4h-4zM224 198h4v4h-4zM636 198h4v4h-4zM224 202h4v4h-4zM628 202h4v4h-4zM224 206h4v4h-4zM364 206h4v4h-4zM624 206h4v4h-4zM224 210h4v4h-4zM360 210h4v4h-4zM224 214h4v4h-4zM608 214h4v4h-4zM224 218h4v4h-4zM356 218h4v4h-4zM600 218h4v4h-4zM224 222h4v4h-4zM224 226h4v4h-4zM260 226h4v4h-4zM328 226h4v4h-4zM340 226h4v4h-4zM352 226h4v4h-4zM224 230h12v4h-12zM252 230h4v4h-4zM584 230h4v4h-4zM224 234h16v4h-16zM572 234h4v4h-4zM228 238h4v4h-4zM232 242h4v4h-4zM312 242h4v4h-4zM556 242h4v4h-4zM232 246h4v4h-4zM240 246h4v4h-4zM312 246h4v4h-4zM440 250h4v4h-4zM448 250h4v4h-4zM584 250h4v4h-4zM124 254h4v4h-4zM248 254h4v4h-4zM432 254h4v4h-4zM124 258h8v4h-8zM228 258h4v4h-4zM244 258h4v4h-4zM432 258h4v4h-4zM448 258h4v4h-4zM128 262h4v4h-4zM224 262h4v4h-4zM236 262h4v4h-4zM300 262h4v4h-4zM436 262h8v4h-8zM592 262h4v4h-4zM132 266h4v4h-4zM216 266h4v4h-4zM232 266h4v4h-4zM284 266h8v4h-8zM532 266h4v4h-4zM592 266h4v4h-4zM136 270h4v4h-4zM280 270h4v4h-4zM592 270h4v4h-4zM140 274h4v4h-4zM280 274h4v4h-4zM576 274h4v4h-4zM144 278h4v4h-4zM280 278h4v4h-4zM572 278h4v4h-4zM148 282h4v4h-4zM204 282h4v4h-4zM280 282h4v4h-4zM520 282h4v4h-4zM280 286h8v4h-8zM452 286h12v4h-12zM516 286h4v4h-4zM280 290h4v4h-4zM444 290h4v4h-4zM464 290h4v4h-4zM584 290h4v4h-4zM156 294h4v4h-4zM280 294h4v4h-4zM444 294h4v4h-4zM508 294h4v4h-4zM584 294h4v4h-4zM160 298h4v4h-4zM272 298h8v4h-8zM468 298h8v4h-8zM484 298h8v4h-8zM560 298h4v4h-4zM584 298h4v4h-4zM196 302h4v4h-4zM268 302h4v4h-4zM584 302h4v4h-4zM432 306h4v4h-4zM192 310h4v4h-4zM264 310h4v4h-4zM556 310h4v4h-4zM176 314h4v4h-4zM228 314h4v4h-4zM420 314h4v4h-4zM560 314h4v4h-4zM572 314h8v4h-8zM172 318h4v4h-4zM224 318h4v4h-4zM260 318h4v4h-4zM416 318h4v4h-4zM220 322h4v4h-4zM388 322h4v4h-4zM400 322h8v4h-8zM216 326h4v4h-4zM388 326h4v4h-4zM628 326h4v4h-4zM256 330h4v4h-4zM396 330h4v4h-4zM416 330h4v4h-4zM412 334h4v4h-4zM428 334h4v4h-4zM172 338h4v4h-4zM212 338h4v4h-4zM252 338h4v4h-4zM376 338h4v4h-4zM412 338h4v4h-4zM440 338h4v4h-4zM664 338h4v4h-4zM212 342h4v4h-4zM372 342h4v4h-4zM380 342h4v4h-4zM412 342h4v4h-4zM624 342h4v4h-4zM180 346h4v4h-4zM208 346h4v4h-4zM248 346h4v4h-4zM372 346h4v4h-4zM620 346h4v4h-4zM188 350h4v4h-4zM200 350h4v4h-4zM388 350h8v4h-8zM568 350h4v4h-4zM600 350h12v4h-12zM368 354h4v4h-4zM544 354h4v4h-4zM244 358h4v4h-4zM540 358h4v4h-4zM244 362h4v4h-4zM536 366h4v4h-4zM240 374h4v4h-4zM396 374h4v4h-4zM236 378h4v4h-4zM532 378h4v4h-4zM232 386h4v4h-4zM296 386h4v4h-4zM332 386h12v4h-12zM528 390h4v4h-4zM228 394h4v4h-4zM524 394h4v4h-4zM288 398h4v4h-4zM516 398h4v4h-4zM288 402h4v4h-4zM496 402h4v4h-4zM476 406h4v4h-4zM292 410h4v4h-4zM304 414h4v4h-4zM192 418h4v4h-4zM456 426h4v4h-4zM436 430h4v4h-4zM428 434h4v4h-4zM180 438h4v4h-4zM432 438h8v4h-8zM180 442h4v4h-4zM332 442h4v4h-4zM488 442h4v4h-4zM524 442h4v4h-4zM336 446h4v4h-4zM472 446h4v4h-4zM528 446h4v4h-4zM340 450h4v4h-4zM536 450h8v4h-8zM216 454h4v4h-4zM232 454h4v4h-4zM344 454h4v4h-4zM212 458h4v4h-4zM240 462h4v4h-4zM204 466h4v4h-4zM236 466h4v4h-4zM568 466h4v4h-4zM248 470h4v4h-4zM572 470h4v4h-4zM192 474h4v4h-4zM252 474h4v4h-4zM576 474h4v4h-4zM244 478h4v4h-4zM364 478h4v4h-4zM372 478h8v4h-8zM516 478h8v4h-8zM232 482h4v4h-4zM240 482h4v4h-4zM256 482h4v4h-4zM376 482h4v4h-4zM480 482h28v4h-28zM528 482h4v4h-4zM160 486h4v4h-4zM584 486h4v4h-4zM124 490h4v4h-4zM148 490h4v4h-4zM180 490h4v4h-4zM264 490h4v4h-4zM348 490h4v4h-4zM588 490h4v4h-4zM176 494h4v4h-4zM268 494h4v4h-4zM344 494h4v4h-4zM352 494h4v4h-4zM172 498h4v4h-4zM280 498h4v4h-4zM376 498h4v4h-4zM464 498h4v4h-4zM548 498h4v4h-4zM600 498h4v4h-4zM152 502h16v4h-16zM320 502h16v4h-16zM360 502h4v4h-4zM380 502h4v4h-4zM552 502h4v4h-4zM608 502h4v4h-4zM296 506h4v4h-4zM368 506h4v4h-4zM556 506h4v4h-4zM616 506h4v4h-4zM144 510h4v4h-4zM312 510h4v4h-4zM556 510h4v4h-4zM620 510h4v4h-4zM144 514h4v4h-4zM372 514h4v4h-4zM384 514h4v4h-4zM404 514h4v4h-4zM416 514h8v4h-8zM436 514h4v4h-4zM556 514h4v4h-4zM624 514h4v4h-4zM308 518h4v4h-4zM332 518h8v4h-8zM384 518h4v4h-4zM396 518h4v4h-4zM440 518h4v4h-4zM632 518h12v4h-12zM260 522h4v4h-4zM324 522h4v4h-4zM344 522h4v4h-4zM376 522h4v4h-4zM456 522h4v4h-4zM552 522h4v4h-4zM644 522h8v4h-8zM380 526h4v4h-4zM444 526h4v4h-4zM476 526h4v4h-4zM544 526h4v4h-4zM652 526h4v4h-4zM324 530h4v4h-4zM348 530h4v4h-4zM380 530h4v4h-4zM448 530h4v4h-4zM536 530h4v4h-4zM132 534h4v4h-4zM328 534h4v4h-4zM352 534h4v4h-4zM384 534h4v4h-4zM456 534h4v4h-4zM336 538h4v4h-4zM368 538h4v4h-4zM388 538h4v4h-4zM244 542h8v4h-8zM372 542h4v4h-4zM392 542h4v4h-4zM460 542h4v4h-4zM240 546h4v4h-4zM372 546h4v4h-4zM240 550h12v4h-12zM396 550h4v4h-4zM240 554h4v4h-4zM256 554h4v4h-4zM400 554h4v4h-4zM504 554h4v4h-4zM240 558h4v4h-4zM260 558h4v4h-4zM360 558h4v4h-4zM404 558h4v4h-4zM456 558h4v4h-4zM360 562h4v4h-4zM408 562h4v4h-4zM496 562h4v4h-4z"/><path fill="#0252fd" d="M476 58h4v4h-4zM504 58h4v4h-4zM480 62h4v4h-4zM500 62h4v4h-4zM488 70h8v4h-8zM432 82h4v4h-4zM448 82h4v4h-4zM428 86h4v4h-4zM452 86h4v4h-4zM428 90h4v4h-4zM452 90h4v4h-4zM428 94h4v4h-4zM452 94h4v4h-4zM428 98h4v4h-4zM452 98h4v4h-4zM428 102h4v4h-4zM452 102h4v4h-4zM300 106h4v4h-4zM344 106h4v4h-4zM432 106h4v4h-4zM448 106h8v4h-8zM124 110h68v4h-68zM280 110h8v4h-8zM360 110h8v4h-8zM436 110h12v4h-12zM204 114h8v4h-8zM272 114h8v4h-8zM368 114h8v4h-8zM212 118h4v4h-4zM264 118h8v4h-8zM376 118h4v4h-4zM216 122h4v4h-4zM236 122h16v4h-16zM384 122h4v4h-4zM388 126h4v4h-4zM400 130h8v4h-8zM408 134h4v4h-4zM408 138h4v4h-4zM404 146h4v4h-4zM472 150h4v4h-4zM480 150h4v4h-4zM472 154h4v4h-4zM480 154h4v4h-4zM400 158h4v4h-4zM472 158h12v4h-12zM388 166h8v4h-8zM380 170h4v4h-4zM380 186h4v4h-4zM660 186h4v4h-4zM668 186h8v4h-8zM244 190h8v4h-8zM380 190h4v4h-4zM652 190h4v4h-4zM244 194h8v4h-8zM380 194h4v4h-4zM244 198h8v4h-8zM380 198h4v4h-4zM380 202h4v4h-4zM380 206h4v4h-4zM612 206h4v4h-4zM248 210h4v4h-4zM376 210h4v4h-4zM596 210h8v4h-8zM248 214h4v4h-4zM372 214h4v4h-4zM248 218h4v4h-4zM368 218h4v4h-4zM448 218h8v4h-8zM460 218h8v4h-8zM584 218h4v4h-4zM364 222h4v4h-4zM444 222h4v4h-4zM360 230h4v4h-4zM564 230h4v4h-4zM352 234h4v4h-4zM440 234h4v4h-4zM464 234h4v4h-4zM556 234h4v4h-4zM464 238h4v4h-4zM544 238h4v4h-4zM332 242h4v4h-4zM436 242h4v4h-4zM464 242h4v4h-4zM328 246h4v4h-4zM428 246h4v4h-4zM464 246h4v4h-4zM512 246h4v4h-4zM520 246h4v4h-4zM536 246h4v4h-4zM324 250h4v4h-4zM424 250h4v4h-4zM464 250h4v4h-4zM504 250h4v4h-4zM324 254h4v4h-4zM424 254h4v4h-4zM464 254h4v4h-4zM500 254h4v4h-4zM528 254h8v4h-8zM464 258h4v4h-4zM500 258h4v4h-4zM324 262h4v4h-4zM424 262h4v4h-4zM464 262h4v4h-4zM504 262h4v4h-4zM324 266h4v4h-4zM464 266h4v4h-4zM512 266h4v4h-4zM324 270h4v4h-4zM428 270h4v4h-4zM464 270h4v4h-4zM516 270h4v4h-4zM308 274h4v4h-4zM324 274h4v4h-4zM432 274h4v4h-4zM468 274h4v4h-4zM516 274h4v4h-4zM220 278h4v4h-4zM304 278h4v4h-4zM316 278h8v4h-8zM432 278h4v4h-4zM512 278h4v4h-4zM220 282h4v4h-4zM432 282h4v4h-4zM472 282h4v4h-4zM216 286h8v4h-8zM300 286h4v4h-4zM432 286h4v4h-4zM476 286h4v4h-4zM208 290h12v4h-12zM300 290h4v4h-4zM500 290h4v4h-4zM208 294h4v4h-4zM220 294h4v4h-4zM428 294h4v4h-4zM576 294h4v4h-4zM208 298h4v4h-4zM220 298h4v4h-4zM424 298h4v4h-4zM572 298h8v4h-8zM124 302h8v4h-8zM208 302h4v4h-4zM220 302h4v4h-4zM288 302h4v4h-4zM376 302h16v4h-16zM420 302h4v4h-4zM572 302h8v4h-8zM144 306h8v4h-8zM212 306h12v4h-12zM372 306h4v4h-4zM572 306h4v4h-4zM372 310h4v4h-4zM400 310h4v4h-4zM412 310h4v4h-4zM284 314h4v4h-4zM284 318h4v4h-4zM184 322h4v4h-4zM180 326h4v4h-4zM188 326h8v4h-8zM280 326h4v4h-4zM368 326h4v4h-4zM180 330h8v4h-8zM192 330h4v4h-4zM276 330h4v4h-4zM184 334h16v4h-16zM364 334h4v4h-4zM192 338h4v4h-4zM268 338h4v4h-4zM360 342h4v4h-4zM424 342h8v4h-8zM356 350h4v4h-4zM268 358h4v4h-4zM580 358h4v4h-4zM268 362h4v4h-4zM356 362h4v4h-4zM572 362h4v4h-4zM612 362h16v4h-16zM672 362h4v4h-4zM268 366h8v4h-8zM328 366h4v4h-4zM340 366h4v4h-4zM360 366h4v4h-4zM548 366h4v4h-4zM556 366h12v4h-12zM616 366h8v4h-8zM628 366h4v4h-4zM268 370h28v4h-28zM324 370h4v4h-4zM344 370h4v4h-4zM544 370h4v4h-4zM616 370h4v4h-4zM352 374h4v4h-4zM612 374h4v4h-4zM612 378h4v4h-4zM572 382h4v4h-4zM592 382h8v4h-8zM612 382h4v4h-4zM544 386h4v4h-4zM564 386h4v4h-4zM604 386h12v4h-12zM552 390h8v4h-8zM608 394h8v4h-8zM600 398h16v4h-16zM588 402h8v4h-8zM612 402h4v4h-4zM500 406h4v4h-4zM524 406h4v4h-4zM580 406h4v4h-4zM236 410h8v4h-8zM268 410h12v4h-12zM488 410h4v4h-4zM528 410h4v4h-4zM576 410h4v4h-4zM664 410h4v4h-4zM228 414h8v4h-8zM248 414h20v4h-20zM276 414h8v4h-8zM480 414h4v4h-4zM532 414h4v4h-4zM540 414h12v4h-12zM572 414h4v4h-4zM660 414h4v4h-4zM672 414h4v4h-4zM220 418h4v4h-4zM284 418h4v4h-4zM532 418h12v4h-12zM556 418h16v4h-16zM200 422h8v4h-8zM308 422h4v4h-4zM528 422h4v4h-4zM536 422h4v4h-4zM652 422h4v4h-4zM480 426h4v4h-4zM528 426h4v4h-4zM612 426h4v4h-4zM648 426h4v4h-4zM192 430h4v4h-4zM312 430h4v4h-4zM484 430h8v4h-8zM500 430h16v4h-16zM520 430h4v4h-4zM540 430h4v4h-4zM612 430h4v4h-4zM648 430h4v4h-4zM192 434h4v4h-4zM540 434h4v4h-4zM608 434h4v4h-4zM652 434h4v4h-4zM196 438h12v4h-12zM236 438h16v4h-16zM544 438h4v4h-4zM600 438h4v4h-4zM656 438h20v4h-20zM196 442h8v4h-8zM252 442h4v4h-4zM548 442h4v4h-4zM600 442h4v4h-4zM196 446h4v4h-4zM256 446h4v4h-4zM320 446h4v4h-4zM556 446h4v4h-4zM600 446h4v4h-4zM616 446h8v4h-8zM196 450h4v4h-4zM260 450h4v4h-4zM324 450h4v4h-4zM568 450h4v4h-4zM604 450h8v4h-8zM624 450h4v4h-4zM196 454h4v4h-4zM264 454h4v4h-4zM572 454h4v4h-4zM628 454h4v4h-4zM196 458h4v4h-4zM576 458h4v4h-4zM628 458h4v4h-4zM268 462h4v4h-4zM340 462h4v4h-4zM580 462h4v4h-4zM628 462h4v4h-4zM584 466h4v4h-4zM628 466h4v4h-4zM264 470h4v4h-4zM344 470h4v4h-4zM628 470h4v4h-4zM264 474h4v4h-4zM628 474h4v4h-4zM268 478h4v4h-4zM344 478h4v4h-4zM628 478h4v4h-4zM272 482h4v4h-4zM600 482h4v4h-4zM628 482h4v4h-4zM280 486h8v4h-8zM608 486h4v4h-4zM628 486h4v4h-4zM288 490h36v4h-36zM336 490h4v4h-4zM484 490h4v4h-4zM524 490h4v4h-4zM616 490h16v4h-16zM532 498h4v4h-4zM532 502h4v4h-4zM660 502h16v4h-16zM132 506h4v4h-4zM532 506h4v4h-4zM660 506h16v4h-16zM128 510h8v4h-8zM464 510h4v4h-4zM528 510h4v4h-4zM128 514h8v4h-8zM468 514h4v4h-4zM528 514h4v4h-4zM124 518h8v4h-8zM524 518h4v4h-4zM124 522h4v4h-4zM484 522h4v4h-4zM520 522h4v4h-4zM516 526h4v4h-4zM404 530h32v4h-32zM432 534h4v4h-4zM512 534h4v4h-4zM400 538h4v4h-4zM432 538h4v4h-4zM488 538h4v4h-4zM508 538h4v4h-4zM400 542h4v4h-4zM492 542h16v4h-16zM428 546h4v4h-4zM444 546h4v4h-4zM408 550h4v4h-4zM424 550h8v4h-8zM440 550h8v4h-8zM440 554h8v4h-8zM440 558h8v4h-8zM440 562h8v4h-8z"/><path fill="#0064ff" d="M480 58h4v4h-4zM500 58h4v4h-4zM488 66h8v4h-8zM440 86h4v4h-4zM436 90h12v4h-12zM436 94h12v4h-12zM436 98h12v4h-12zM440 102h4v4h-4zM292 110h4v4h-4zM124 114h68v4h-68zM280 114h4v4h-4zM204 118h4v4h-4zM276 118h4v4h-4zM368 118h4v4h-4zM212 122h4v4h-4zM260 122h8v4h-8zM376 122h4v4h-4zM384 126h4v4h-4zM396 134h8v4h-8zM400 138h4v4h-4zM400 142h4v4h-4zM400 146h4v4h-4zM352 150h12v4h-12zM400 150h4v4h-4zM356 154h4v4h-4zM380 166h4v4h-4zM376 170h4v4h-4zM236 182h16v4h-16zM236 186h4v4h-4zM236 190h4v4h-4zM252 190h4v4h-4zM656 190h8v4h-8zM236 194h4v4h-4zM252 194h4v4h-4zM376 194h4v4h-4zM632 194h4v4h-4zM236 198h4v4h-4zM252 198h4v4h-4zM376 198h4v4h-4zM624 198h4v4h-4zM252 202h4v4h-4zM376 202h4v4h-4zM240 206h4v4h-4zM252 206h4v4h-4zM240 210h4v4h-4zM372 210h4v4h-4zM240 214h4v4h-4zM368 214h4v4h-4zM592 214h4v4h-4zM364 218h4v4h-4zM244 222h4v4h-4zM252 222h4v4h-4zM452 222h8v4h-8zM584 222h4v4h-4zM448 226h16v4h-16zM580 226h4v4h-4zM356 230h4v4h-4zM444 230h4v4h-4zM460 230h4v4h-4zM568 230h4v4h-4zM340 234h4v4h-4zM460 234h4v4h-4zM332 238h4v4h-4zM460 238h4v4h-4zM552 238h4v4h-4zM324 242h4v4h-4zM460 242h4v4h-4zM432 246h4v4h-4zM460 246h4v4h-4zM320 250h4v4h-4zM460 250h4v4h-4zM512 250h4v4h-4zM536 250h4v4h-4zM460 254h4v4h-4zM508 254h4v4h-4zM524 254h4v4h-4zM460 258h4v4h-4zM508 258h4v4h-4zM528 258h8v4h-8zM316 262h4v4h-4zM512 262h4v4h-4zM316 266h4v4h-4zM428 266h4v4h-4zM456 266h4v4h-4zM520 266h4v4h-4zM304 270h16v4h-16zM432 270h16v4h-16zM520 270h4v4h-4zM224 274h4v4h-4zM300 274h4v4h-4zM456 274h8v4h-8zM216 278h4v4h-4zM444 278h4v4h-4zM516 278h4v4h-4zM224 282h4v4h-4zM440 282h4v4h-4zM512 282h4v4h-4zM208 286h4v4h-4zM224 286h4v4h-4zM436 286h4v4h-4zM576 286h4v4h-4zM436 290h4v4h-4zM572 290h4v4h-4zM124 294h12v4h-12zM204 294h4v4h-4zM432 294h4v4h-4zM136 298h16v4h-16zM204 298h4v4h-4zM224 298h4v4h-4zM568 298h4v4h-4zM152 302h4v4h-4zM204 302h4v4h-4zM224 302h4v4h-4zM152 306h4v4h-4zM204 306h4v4h-4zM140 310h12v4h-12zM204 310h4v4h-4zM220 310h4v4h-4zM376 310h8v4h-8zM416 310h4v4h-4zM280 314h4v4h-4zM404 314h8v4h-8zM196 322h4v4h-4zM276 322h4v4h-4zM372 322h4v4h-4zM176 326h4v4h-4zM272 326h4v4h-4zM200 330h4v4h-4zM268 330h4v4h-4zM180 334h4v4h-4zM200 334h4v4h-4zM264 334h4v4h-4zM184 338h4v4h-4zM200 338h4v4h-4zM388 338h8v4h-8zM188 342h12v4h-12zM364 342h4v4h-4zM388 342h8v4h-8zM260 346h4v4h-4zM260 350h4v4h-4zM360 350h4v4h-4zM632 350h36v4h-36zM260 354h4v4h-4zM624 354h12v4h-12zM644 354h8v4h-8zM664 354h12v4h-12zM260 358h4v4h-4zM260 362h4v4h-4zM360 362h4v4h-4zM548 362h20v4h-20zM260 366h4v4h-4zM544 366h4v4h-4zM260 370h4v4h-4zM328 370h4v4h-4zM340 370h4v4h-4zM364 370h4v4h-4zM260 374h4v4h-4zM324 374h4v4h-4zM344 374h4v4h-4zM540 374h4v4h-4zM260 378h8v4h-8zM284 378h8v4h-8zM352 378h4v4h-4zM360 378h4v4h-4zM540 378h4v4h-4zM624 378h16v4h-16zM268 382h8v4h-8zM280 382h4v4h-4zM540 382h4v4h-4zM624 382h4v4h-4zM636 382h8v4h-8zM248 386h8v4h-8zM272 386h4v4h-4zM280 386h4v4h-4zM540 386h4v4h-4zM572 386h4v4h-4zM596 386h4v4h-4zM620 386h4v4h-4zM640 386h4v4h-4zM244 390h4v4h-4zM252 390h4v4h-4zM272 390h4v4h-4zM280 390h4v4h-4zM540 390h4v4h-4zM600 390h4v4h-4zM620 390h4v4h-4zM272 394h4v4h-4zM280 394h4v4h-4zM540 394h8v4h-8zM560 394h8v4h-8zM620 394h4v4h-4zM644 394h4v4h-4zM240 398h4v4h-4zM256 398h4v4h-4zM272 398h4v4h-4zM280 398h4v4h-4zM540 398h20v4h-20zM592 398h4v4h-4zM620 398h4v4h-4zM648 398h8v4h-8zM236 402h8v4h-8zM256 402h4v4h-4zM268 402h4v4h-4zM280 402h4v4h-4zM520 402h24v4h-24zM548 402h4v4h-4zM580 402h4v4h-4zM620 402h4v4h-4zM656 402h4v4h-4zM232 406h4v4h-4zM260 406h8v4h-8zM280 406h4v4h-4zM496 406h4v4h-4zM572 406h4v4h-4zM620 406h4v4h-4zM656 406h4v4h-4zM228 410h4v4h-4zM280 410h4v4h-4zM480 410h4v4h-4zM552 410h4v4h-4zM572 410h4v4h-4zM620 410h4v4h-4zM656 410h4v4h-4zM220 414h4v4h-4zM284 414h4v4h-4zM556 414h4v4h-4zM568 414h4v4h-4zM620 414h4v4h-4zM652 414h4v4h-4zM212 418h4v4h-4zM292 418h8v4h-8zM472 418h4v4h-4zM624 418h8v4h-8zM648 418h4v4h-4zM196 422h4v4h-4zM472 422h4v4h-4zM624 422h24v4h-24zM472 426h4v4h-4zM472 430h4v4h-4zM532 430h4v4h-4zM316 434h4v4h-4zM476 434h12v4h-12zM536 434h4v4h-4zM544 442h4v4h-4zM208 446h8v4h-8zM244 446h8v4h-8zM552 446h4v4h-4zM668 446h8v4h-8zM204 450h4v4h-4zM252 450h4v4h-4zM332 450h4v4h-4zM560 450h4v4h-4zM664 450h8v4h-8zM204 454h4v4h-4zM256 454h4v4h-4zM568 454h4v4h-4zM664 454h4v4h-4zM260 458h4v4h-4zM340 458h4v4h-4zM572 458h4v4h-4zM664 458h4v4h-4zM192 462h8v4h-8zM260 462h4v4h-4zM576 462h4v4h-4zM640 462h8v4h-8zM664 462h4v4h-4zM260 466h4v4h-4zM344 466h4v4h-4zM580 466h4v4h-4zM636 466h8v4h-8zM652 466h4v4h-4zM664 466h4v4h-4zM260 470h4v4h-4zM348 470h4v4h-4zM636 470h4v4h-4zM656 470h4v4h-4zM668 470h8v4h-8zM656 474h4v4h-4zM588 478h4v4h-4zM636 478h4v4h-4zM656 478h4v4h-4zM268 482h4v4h-4zM592 482h4v4h-4zM636 482h4v4h-4zM656 482h4v4h-4zM512 486h4v4h-4zM520 486h4v4h-4zM600 486h4v4h-4zM640 486h16v4h-16zM164 490h4v4h-4zM360 490h8v4h-8zM532 490h4v4h-4zM608 490h4v4h-4zM168 494h4v4h-4zM288 494h4v4h-4zM336 494h4v4h-4zM360 494h4v4h-4zM616 494h4v4h-4zM124 498h16v4h-16zM300 498h12v4h-12zM536 498h4v4h-4zM624 498h24v4h-24zM140 502h4v4h-4zM468 502h4v4h-4zM636 502h4v4h-4zM648 502h8v4h-8zM536 506h4v4h-4zM652 506h4v4h-4zM460 510h4v4h-4zM536 510h4v4h-4zM656 510h4v4h-4zM536 514h4v4h-4zM660 514h16v4h-16zM136 518h4v4h-4zM476 518h4v4h-4zM532 518h4v4h-4zM528 522h4v4h-4zM128 526h4v4h-4zM332 526h4v4h-4zM400 526h8v4h-8zM436 526h4v4h-4zM484 526h4v4h-4zM524 526h4v4h-4zM124 530h4v4h-4zM248 530h8v4h-8zM332 530h8v4h-8zM436 530h4v4h-4zM484 530h4v4h-4zM520 530h4v4h-4zM516 534h4v4h-4zM440 538h4v4h-4zM516 538h4v4h-4zM448 542h4v4h-4zM512 542h4v4h-4zM400 546h4v4h-4zM488 546h4v4h-4zM504 546h4v4h-4zM492 550h4v4h-4zM412 554h12v4h-12zM428 558h4v4h-4zM428 562h4v4h-4z"/><path fill="#007cff" d="M484 58h4v4h-4zM496 58h4v4h-4zM488 62h8v4h-8zM296 110h4v4h-4zM348 110h4v4h-4zM288 114h4v4h-4zM124 118h68v4h-68zM280 118h4v4h-4zM364 118h4v4h-4zM204 122h4v4h-4zM272 122h4v4h-4zM368 122h8v4h-8zM216 126h4v4h-4zM232 126h4v4h-4zM380 126h4v4h-4zM396 138h4v4h-4zM348 142h8v4h-8zM348 146h4v4h-4zM356 146h4v4h-4zM348 150h4v4h-4zM356 158h4v4h-4zM368 158h4v4h-4zM396 158h4v4h-4zM388 162h4v4h-4zM236 174h12v4h-12zM372 174h4v4h-4zM232 178h4v4h-4zM248 178h4v4h-4zM372 178h4v4h-4zM232 182h4v4h-4zM252 182h4v4h-4zM372 182h4v4h-4zM372 186h4v4h-4zM372 190h4v4h-4zM256 194h4v4h-4zM372 194h4v4h-4zM644 194h8v4h-8zM232 198h4v4h-4zM256 198h4v4h-4zM372 198h4v4h-4zM628 198h4v4h-4zM232 202h4v4h-4zM256 202h4v4h-4zM372 202h4v4h-4zM624 202h4v4h-4zM232 206h4v4h-4zM256 206h4v4h-4zM620 206h4v4h-4zM368 210h4v4h-4zM612 210h4v4h-4zM236 214h4v4h-4zM364 214h4v4h-4zM600 214h4v4h-4zM236 218h4v4h-4zM592 218h4v4h-4zM256 222h4v4h-4zM244 226h4v4h-4zM252 226h4v4h-4zM584 226h4v4h-4zM352 230h4v4h-4zM328 234h4v4h-4zM448 234h8v4h-8zM324 238h4v4h-4zM560 238h4v4h-4zM320 242h4v4h-4zM456 242h4v4h-4zM436 246h4v4h-4zM456 246h4v4h-4zM316 250h4v4h-4zM456 250h4v4h-4zM428 254h4v4h-4zM456 254h4v4h-4zM512 254h4v4h-4zM520 254h4v4h-4zM536 254h4v4h-4zM456 258h4v4h-4zM512 258h4v4h-4zM588 258h4v4h-4zM312 262h4v4h-4zM428 262h4v4h-4zM520 262h4v4h-4zM588 262h4v4h-4zM304 266h8v4h-8zM432 266h4v4h-4zM444 266h4v4h-4zM584 266h4v4h-4zM524 270h4v4h-4zM584 270h8v4h-8zM584 274h4v4h-4zM124 278h4v4h-4zM124 282h8v4h-8zM444 282h4v4h-4zM576 282h8v4h-8zM132 286h4v4h-4zM440 286h4v4h-4zM468 286h4v4h-4zM512 286h4v4h-4zM580 286h4v4h-4zM136 290h4v4h-4zM508 290h4v4h-4zM580 290h4v4h-4zM144 294h8v4h-8zM476 294h16v4h-16zM496 294h4v4h-4zM152 298h4v4h-4zM156 302h4v4h-4zM564 302h4v4h-4zM580 302h4v4h-4zM156 306h4v4h-4zM280 306h4v4h-4zM580 306h4v4h-4zM200 310h4v4h-4zM224 310h4v4h-4zM420 310h4v4h-4zM564 310h4v4h-4zM576 310h4v4h-4zM200 314h4v4h-4zM220 314h4v4h-4zM276 314h4v4h-4zM380 314h4v4h-4zM396 314h4v4h-4zM180 318h4v4h-4zM204 318h12v4h-12zM272 318h4v4h-4zM204 322h4v4h-4zM268 322h4v4h-4zM376 322h4v4h-4zM204 326h4v4h-4zM264 326h4v4h-4zM204 330h4v4h-4zM372 330h4v4h-4zM636 330h8v4h-8zM176 334h4v4h-4zM260 334h4v4h-4zM388 334h8v4h-8zM636 334h8v4h-8zM368 338h4v4h-4zM416 338h4v4h-4zM184 342h4v4h-4zM204 342h4v4h-4zM416 342h4v4h-4zM632 342h12v4h-12zM652 342h12v4h-12zM192 346h8v4h-8zM256 346h4v4h-4zM388 346h8v4h-8zM420 346h4v4h-4zM428 346h4v4h-4zM644 346h4v4h-4zM668 346h4v4h-4zM256 350h4v4h-4zM624 350h4v4h-4zM252 354h4v4h-4zM572 354h4v4h-4zM600 354h12v4h-12zM252 358h4v4h-4zM548 358h8v4h-8zM564 358h4v4h-4zM252 362h4v4h-4zM544 362h4v4h-4zM252 366h4v4h-4zM364 366h4v4h-4zM252 370h4v4h-4zM252 374h4v4h-4zM340 374h4v4h-4zM252 378h4v4h-4zM324 378h4v4h-4zM344 378h4v4h-4zM244 382h4v4h-4zM288 382h4v4h-4zM240 386h4v4h-4zM260 386h8v4h-8zM536 386h4v4h-4zM584 386h4v4h-4zM628 386h8v4h-8zM260 390h4v4h-4zM268 390h4v4h-4zM284 390h4v4h-4zM536 390h4v4h-4zM572 390h4v4h-4zM592 390h4v4h-4zM628 390h4v4h-4zM636 390h4v4h-4zM236 394h4v4h-4zM260 394h4v4h-4zM268 394h4v4h-4zM284 394h4v4h-4zM532 394h4v4h-4zM568 394h4v4h-4zM592 394h4v4h-4zM260 398h8v4h-8zM528 398h4v4h-4zM568 398h16v4h-16zM640 398h4v4h-4zM508 402h4v4h-4zM556 402h16v4h-16zM644 402h8v4h-8zM488 406h4v4h-4zM556 406h4v4h-4zM568 406h4v4h-4zM628 406h4v4h-4zM648 406h4v4h-4zM284 410h4v4h-4zM556 410h4v4h-4zM564 410h4v4h-4zM628 410h4v4h-4zM648 410h4v4h-4zM216 414h4v4h-4zM288 414h4v4h-4zM632 414h20v4h-20zM204 418h4v4h-4zM308 418h4v4h-4zM192 422h4v4h-4zM312 422h4v4h-4zM464 422h4v4h-4zM188 426h4v4h-4zM464 426h4v4h-4zM316 430h4v4h-4zM468 430h4v4h-4zM472 434h4v4h-4zM476 438h8v4h-8zM532 438h4v4h-4zM536 442h4v4h-4zM544 446h4v4h-4zM212 450h4v4h-4zM240 450h8v4h-8zM336 450h4v4h-4zM556 450h4v4h-4zM208 454h4v4h-4zM248 454h4v4h-4zM564 454h4v4h-4zM672 454h4v4h-4zM188 458h4v4h-4zM252 458h4v4h-4zM568 458h4v4h-4zM188 462h4v4h-4zM256 462h4v4h-4zM344 462h4v4h-4zM572 462h4v4h-4zM672 462h4v4h-4zM192 466h8v4h-8zM256 466h4v4h-4zM576 466h4v4h-4zM580 470h4v4h-4zM644 470h8v4h-8zM640 474h4v4h-4zM260 478h4v4h-4zM584 478h4v4h-4zM640 478h4v4h-4zM352 482h8v4h-8zM588 482h4v4h-4zM644 482h8v4h-8zM268 486h4v4h-4zM356 486h4v4h-4zM484 486h8v4h-8zM528 486h4v4h-4zM172 490h4v4h-4zM276 490h4v4h-4zM356 490h4v4h-4zM536 490h4v4h-4zM600 490h4v4h-4zM124 494h20v4h-20zM152 494h4v4h-4zM284 494h4v4h-4zM608 494h4v4h-4zM144 498h4v4h-4zM156 498h4v4h-4zM292 498h4v4h-4zM316 498h20v4h-20zM360 498h4v4h-4zM368 498h4v4h-4zM468 498h4v4h-4zM540 498h4v4h-4zM300 502h4v4h-4zM464 502h4v4h-4zM624 502h4v4h-4zM304 506h8v4h-8zM460 506h4v4h-4zM628 506h20v4h-20zM140 510h4v4h-4zM544 510h4v4h-4zM140 514h4v4h-4zM544 514h4v4h-4zM652 514h4v4h-4zM540 518h4v4h-4zM660 518h12v4h-12zM332 522h8v4h-8zM400 522h4v4h-4zM436 522h4v4h-4zM536 522h4v4h-4zM136 526h4v4h-4zM256 526h4v4h-4zM328 526h4v4h-4zM396 526h4v4h-4zM532 526h4v4h-4zM256 530h4v4h-4zM440 530h4v4h-4zM524 530h4v4h-4zM124 534h4v4h-4zM248 534h8v4h-8zM444 534h4v4h-4zM448 538h4v4h-4zM484 538h4v4h-4zM520 538h4v4h-4zM396 542h4v4h-4zM452 542h4v4h-4zM484 542h4v4h-4zM352 546h8v4h-8zM484 546h4v4h-4zM352 550h8v4h-8zM400 550h4v4h-4zM500 550h4v4h-4zM452 554h4v4h-4zM488 554h8v4h-8zM420 558h4v4h-4zM452 558h4v4h-4zM424 562h4v4h-4zM452 562h4v4h-4z"/><path fill="#00b0ff" d="M308 110h8v4h-8zM324 110h4v4h-4zM296 114h4v4h-4zM348 114h4v4h-4zM356 122h4v4h-4zM124 126h36v4h-36zM280 126h4v4h-4zM356 126h8v4h-8zM208 130h8v4h-8zM228 130h4v4h-4zM348 130h4v4h-4zM356 130h4v4h-4zM376 130h4v4h-4zM356 134h4v4h-4zM344 142h4v4h-4zM360 142h4v4h-4zM392 150h4v4h-4zM220 154h4v4h-4zM244 154h4v4h-4zM344 154h4v4h-4zM376 154h4v4h-4zM220 158h4v4h-4zM248 158h4v4h-4zM220 162h4v4h-4zM248 162h4v4h-4zM220 166h4v4h-4zM252 166h4v4h-4zM220 170h4v4h-4zM368 170h4v4h-4zM220 174h4v4h-4zM256 174h4v4h-4zM368 174h4v4h-4zM220 178h4v4h-4zM332 178h4v4h-4zM220 182h4v4h-4zM308 182h20v4h-20zM220 186h4v4h-4zM260 186h4v4h-4zM304 186h8v4h-8zM364 186h4v4h-4zM220 190h4v4h-4zM220 194h4v4h-4zM220 198h4v4h-4zM364 198h4v4h-4zM640 198h8v4h-8zM652 198h16v4h-16zM220 202h4v4h-4zM364 202h4v4h-4zM220 206h4v4h-4zM264 206h4v4h-4zM220 210h4v4h-4zM264 210h4v4h-4zM620 210h4v4h-4zM220 214h4v4h-4zM264 214h4v4h-4zM220 218h4v4h-4zM264 218h4v4h-4zM220 222h4v4h-4zM264 222h4v4h-4zM332 222h8v4h-8zM596 222h4v4h-4zM672 222h4v4h-4zM220 226h4v4h-4zM324 226h4v4h-4zM344 226h4v4h-4zM592 226h4v4h-4zM672 226h4v4h-4zM220 230h4v4h-4zM256 230h4v4h-4zM320 230h4v4h-4zM588 230h4v4h-4zM672 230h4v4h-4zM220 234h4v4h-4zM240 234h8v4h-8zM316 234h4v4h-4zM576 234h4v4h-4zM672 234h4v4h-4zM220 238h8v4h-8zM232 238h8v4h-8zM568 238h4v4h-4zM224 242h8v4h-8zM236 242h4v4h-4zM560 242h4v4h-4zM124 246h4v4h-4zM228 246h4v4h-4zM244 246h4v4h-4zM124 250h4v4h-4zM228 250h4v4h-4zM248 250h4v4h-4zM308 250h4v4h-4zM444 250h4v4h-4zM128 254h4v4h-4zM228 254h4v4h-4zM308 254h4v4h-4zM436 254h4v4h-4zM448 254h4v4h-4zM132 258h4v4h-4zM304 258h4v4h-4zM444 258h4v4h-4zM592 258h4v4h-4zM132 262h8v4h-8zM220 262h4v4h-4zM240 262h4v4h-4zM296 262h4v4h-4zM536 262h4v4h-4zM580 262h4v4h-4zM136 266h4v4h-4zM280 266h4v4h-4zM140 270h4v4h-4zM212 270h4v4h-4zM232 270h4v4h-4zM576 270h4v4h-4zM144 274h4v4h-4zM528 274h4v4h-4zM592 274h4v4h-4zM148 278h4v4h-4zM208 278h4v4h-4zM524 278h4v4h-4zM588 282h4v4h-4zM152 286h4v4h-4zM200 286h4v4h-4zM156 290h4v4h-4zM276 290h4v4h-4zM448 290h4v4h-4zM268 294h12v4h-12zM464 294h4v4h-4zM196 298h4v4h-4zM268 298h4v4h-4zM444 298h4v4h-4zM460 298h8v4h-8zM492 298h8v4h-8zM164 302h4v4h-4zM440 302h4v4h-4zM460 302h12v4h-12zM164 306h4v4h-4zM192 306h4v4h-4zM264 306h4v4h-4zM460 306h8v4h-8zM556 306h4v4h-4zM584 306h4v4h-4zM164 310h4v4h-4zM188 310h4v4h-4zM160 314h4v4h-4zM172 314h4v4h-4zM556 314h4v4h-4zM124 318h32v4h-32zM600 318h8v4h-8zM224 322h4v4h-4zM392 322h8v4h-8zM408 322h8v4h-8zM600 322h8v4h-8zM256 326h4v4h-4zM392 326h12v4h-12zM216 330h4v4h-4zM420 330h4v4h-4zM624 330h4v4h-4zM656 330h4v4h-4zM252 334h4v4h-4zM400 334h4v4h-4zM624 334h4v4h-4zM660 334h4v4h-4zM400 338h4v4h-4zM624 338h4v4h-4zM668 338h4v4h-4zM172 342h4v4h-4zM248 342h4v4h-4zM376 342h4v4h-4zM176 346h4v4h-4zM212 346h4v4h-4zM380 346h4v4h-4zM576 346h12v4h-12zM184 350h4v4h-4zM204 350h4v4h-4zM244 350h4v4h-4zM372 350h4v4h-4zM384 350h4v4h-4zM420 350h8v4h-8zM544 350h12v4h-12zM244 354h4v4h-4zM540 354h4v4h-4zM368 358h4v4h-4zM368 362h4v4h-4zM536 362h4v4h-4zM240 366h4v4h-4zM368 366h4v4h-4zM240 370h4v4h-4zM392 370h8v4h-8zM236 374h4v4h-4zM392 374h4v4h-4zM532 374h4v4h-4zM232 378h4v4h-4zM392 378h8v4h-8zM232 382h4v4h-4zM528 382h4v4h-4zM300 386h4v4h-4zM324 386h8v4h-8zM344 386h4v4h-4zM528 386h4v4h-4zM228 390h4v4h-4zM292 390h4v4h-4zM332 390h8v4h-8zM224 398h4v4h-4zM512 398h4v4h-4zM220 402h4v4h-4zM216 406h4v4h-4zM212 410h4v4h-4zM200 414h8v4h-8zM308 414h4v4h-4zM460 414h4v4h-4zM316 418h4v4h-4zM456 422h4v4h-4zM320 426h4v4h-4zM432 426h8v4h-8zM324 430h4v4h-4zM428 430h4v4h-4zM456 430h4v4h-4zM180 434h4v4h-4zM328 434h4v4h-4zM440 434h4v4h-4zM460 434h4v4h-4zM332 438h4v4h-4zM428 438h4v4h-4zM440 438h4v4h-4zM432 442h8v4h-8zM468 442h4v4h-4zM492 442h32v4h-32zM180 446h4v4h-4zM484 446h4v4h-4zM476 450h8v4h-8zM532 450h4v4h-4zM228 454h4v4h-4zM552 454h4v4h-4zM236 458h4v4h-4zM348 458h4v4h-4zM560 458h4v4h-4zM212 462h4v4h-4zM236 462h4v4h-4zM352 462h4v4h-4zM564 462h4v4h-4zM180 466h4v4h-4zM232 466h4v4h-4zM356 466h4v4h-4zM200 470h4v4h-4zM568 470h4v4h-4zM228 474h4v4h-4zM248 474h4v4h-4zM360 474h4v4h-4zM372 474h4v4h-4zM572 474h4v4h-4zM172 478h4v4h-4zM228 478h4v4h-4zM252 478h4v4h-4zM368 478h4v4h-4zM512 478h4v4h-4zM524 478h4v4h-4zM576 478h4v4h-4zM168 482h4v4h-4zM188 482h4v4h-4zM228 482h4v4h-4zM476 482h4v4h-4zM532 482h4v4h-4zM580 482h4v4h-4zM184 486h4v4h-4zM256 486h4v4h-4zM376 486h4v4h-4zM472 486h4v4h-4zM540 486h4v4h-4zM128 490h20v4h-20zM260 490h4v4h-4zM376 490h4v4h-4zM544 490h4v4h-4zM264 494h4v4h-4zM348 494h4v4h-4zM376 494h4v4h-4zM416 494h8v4h-8zM548 494h4v4h-4zM592 494h4v4h-4zM276 498h4v4h-4zM380 498h4v4h-4zM416 498h12v4h-12zM596 498h4v4h-4zM168 502h4v4h-4zM288 502h4v4h-4zM336 502h4v4h-4zM356 502h4v4h-4zM420 502h4v4h-4zM148 506h4v4h-4zM316 506h4v4h-4zM384 506h4v4h-4zM420 506h4v4h-4zM560 506h4v4h-4zM572 506h4v4h-4zM612 506h4v4h-4zM248 510h8v4h-8zM384 510h4v4h-4zM404 510h32v4h-32zM560 510h20v4h-20zM616 510h4v4h-4zM244 514h4v4h-4zM256 514h4v4h-4zM300 514h4v4h-4zM312 514h4v4h-4zM400 514h4v4h-4zM560 514h20v4h-20zM620 514h4v4h-4zM144 518h4v4h-4zM260 518h4v4h-4zM304 518h4v4h-4zM312 518h4v4h-4zM328 518h4v4h-4zM340 518h4v4h-4zM372 518h4v4h-4zM388 518h8v4h-8zM556 518h4v4h-4zM628 518h4v4h-4zM240 522h4v4h-4zM444 522h4v4h-4zM640 522h4v4h-4zM240 526h4v4h-4zM264 526h4v4h-4zM320 526h4v4h-4zM348 526h4v4h-4zM376 526h4v4h-4zM448 526h4v4h-4zM456 526h20v4h-20zM548 526h4v4h-4zM644 526h8v4h-8zM656 526h20v4h-20zM140 530h4v4h-4zM240 530h4v4h-4zM264 530h4v4h-4zM376 530h4v4h-4zM452 530h12v4h-12zM540 530h4v4h-4zM648 530h8v4h-8zM672 530h4v4h-4zM240 534h4v4h-4zM260 534h4v4h-4zM356 534h8v4h-8zM376 534h8v4h-8zM460 534h4v4h-4zM532 534h4v4h-4zM128 538h4v4h-4zM240 538h4v4h-4zM256 538h4v4h-4zM372 538h16v4h-16zM460 538h4v4h-4zM476 538h4v4h-4zM672 538h4v4h-4zM124 542h4v4h-4zM236 542h8v4h-8zM252 542h4v4h-4zM340 542h4v4h-4zM376 542h16v4h-16zM464 542h4v4h-4zM476 542h4v4h-4zM524 542h4v4h-4zM672 542h4v4h-4zM236 546h4v4h-4zM244 546h8v4h-8zM376 546h4v4h-4zM392 546h4v4h-4zM460 546h4v4h-4zM476 546h4v4h-4zM232 550h8v4h-8zM252 550h4v4h-4zM372 550h4v4h-4zM476 550h4v4h-4zM520 550h4v4h-4zM236 554h4v4h-4zM340 554h4v4h-4zM368 554h4v4h-4zM476 554h4v4h-4zM508 554h12v4h-12zM236 558h4v4h-4zM340 558h4v4h-4zM364 558h4v4h-4zM476 558h4v4h-4zM236 562h4v4h-4zM264 562h4v4h-4zM340 562h4v4h-4zM364 562h4v4h-4zM456 562h4v4h-4zM476 562h4v4h-4z"/><path fill="#00bcff" d="M328 110h12v4h-12zM292 118h4v4h-4zM352 118h4v4h-4zM288 122h4v4h-4zM352 126h4v4h-4zM172 130h36v4h-36zM232 130h4v4h-4zM372 130h4v4h-4zM380 134h4v4h-4zM344 138h4v4h-4zM384 138h4v4h-4zM364 142h4v4h-4zM388 146h4v4h-4zM220 150h20v4h-20zM376 150h4v4h-4zM388 150h4v4h-4zM216 154h4v4h-4zM248 154h4v4h-4zM380 154h12v4h-12zM216 158h4v4h-4zM252 158h4v4h-4zM344 158h4v4h-4zM216 162h4v4h-4zM252 162h4v4h-4zM352 162h4v4h-4zM332 166h4v4h-4zM364 166h4v4h-4zM256 170h4v4h-4zM336 170h4v4h-4zM336 174h4v4h-4zM312 178h4v4h-4zM260 182h4v4h-4zM304 182h4v4h-4zM328 182h4v4h-4zM364 182h4v4h-4zM300 186h4v4h-4zM312 186h4v4h-4zM360 186h4v4h-4zM360 190h4v4h-4zM264 194h4v4h-4zM360 194h4v4h-4zM264 198h4v4h-4zM360 198h4v4h-4zM648 198h4v4h-4zM264 202h4v4h-4zM360 202h4v4h-4zM360 206h4v4h-4zM356 210h4v4h-4zM356 214h4v4h-4zM612 214h4v4h-4zM604 218h4v4h-4zM328 222h4v4h-4zM668 222h4v4h-4zM216 226h4v4h-4zM348 226h4v4h-4zM668 226h4v4h-4zM216 230h4v4h-4zM668 230h4v4h-4zM216 234h4v4h-4zM248 234h4v4h-4zM580 234h8v4h-8zM124 238h4v4h-4zM216 238h4v4h-4zM240 238h4v4h-4zM312 238h4v4h-4zM672 238h4v4h-4zM124 242h4v4h-4zM220 242h4v4h-4zM240 242h4v4h-4zM128 246h4v4h-4zM224 246h4v4h-4zM308 246h4v4h-4zM548 246h4v4h-4zM584 246h8v4h-8zM128 250h8v4h-8zM132 254h4v4h-4zM304 254h4v4h-4zM440 254h8v4h-8zM540 254h4v4h-4zM592 254h4v4h-4zM136 258h4v4h-4zM248 258h4v4h-4zM300 258h4v4h-4zM436 258h8v4h-8zM580 258h4v4h-4zM140 262h4v4h-4zM280 262h16v4h-16zM140 266h4v4h-4zM236 266h4v4h-4zM144 270h4v4h-4zM148 274h4v4h-4zM232 274h4v4h-4zM276 274h4v4h-4zM152 278h4v4h-4zM232 278h4v4h-4zM276 278h4v4h-4zM592 278h4v4h-4zM152 282h4v4h-4zM232 282h4v4h-4zM276 282h4v4h-4zM568 282h4v4h-4zM156 286h4v4h-4zM232 286h4v4h-4zM276 286h4v4h-4zM232 290h4v4h-4zM272 290h4v4h-4zM452 290h12v4h-12zM564 290h4v4h-4zM160 294h4v4h-4zM196 294h4v4h-4zM232 294h4v4h-4zM448 294h4v4h-4zM456 294h8v4h-8zM164 298h4v4h-4zM232 298h4v4h-4zM264 298h4v4h-4zM448 298h4v4h-4zM456 298h4v4h-4zM500 298h4v4h-4zM232 302h4v4h-4zM264 302h4v4h-4zM444 302h4v4h-4zM456 302h4v4h-4zM472 302h4v4h-4zM556 302h4v4h-4zM232 306h4v4h-4zM436 306h4v4h-4zM456 306h4v4h-4zM468 306h4v4h-4zM168 310h4v4h-4zM184 310h4v4h-4zM428 310h4v4h-4zM460 310h12v4h-12zM584 310h4v4h-4zM164 314h8v4h-8zM260 314h4v4h-4zM464 314h8v4h-8zM580 314h4v4h-4zM600 314h4v4h-4zM156 318h4v4h-4zM168 318h4v4h-4zM228 318h4v4h-4zM468 318h4v4h-4zM560 318h8v4h-8zM256 322h4v4h-4zM468 322h4v4h-4zM596 322h4v4h-4zM608 322h4v4h-4zM640 322h4v4h-4zM220 326h4v4h-4zM404 326h12v4h-12zM600 326h12v4h-12zM624 326h4v4h-4zM652 326h4v4h-4zM168 330h4v4h-4zM252 330h4v4h-4zM400 330h4v4h-4zM412 330h4v4h-4zM168 334h4v4h-4zM216 334h4v4h-4zM216 338h4v4h-4zM248 338h4v4h-4zM400 342h4v4h-4zM444 342h4v4h-4zM244 346h4v4h-4zM376 346h4v4h-4zM412 346h4v4h-4zM440 346h4v4h-4zM572 346h4v4h-4zM588 346h8v4h-8zM616 346h4v4h-4zM208 350h4v4h-4zM376 350h8v4h-8zM416 350h4v4h-4zM428 350h4v4h-4zM556 350h4v4h-4zM564 350h4v4h-4zM372 354h4v4h-4zM240 362h4v4h-4zM236 370h4v4h-4zM368 370h4v4h-4zM400 370h4v4h-4zM532 370h4v4h-4zM232 374h4v4h-4zM400 374h4v4h-4zM528 378h4v4h-4zM228 382h4v4h-4zM364 382h4v4h-4zM392 382h8v4h-8zM228 386h4v4h-4zM304 386h20v4h-20zM348 386h12v4h-12zM296 390h4v4h-4zM328 390h4v4h-4zM340 390h4v4h-4zM524 390h4v4h-4zM292 394h4v4h-4zM332 394h8v4h-8zM520 394h4v4h-4zM292 398h4v4h-4zM508 398h4v4h-4zM292 402h4v4h-4zM492 402h4v4h-4zM292 406h4v4h-4zM472 406h4v4h-4zM296 410h4v4h-4zM464 410h4v4h-4zM196 414h4v4h-4zM312 414h4v4h-4zM456 418h4v4h-4zM184 422h4v4h-4zM320 422h4v4h-4zM324 426h4v4h-4zM428 426h4v4h-4zM180 430h4v4h-4zM328 430h4v4h-4zM424 430h4v4h-4zM440 430h4v4h-4zM424 434h4v4h-4zM456 434h4v4h-4zM464 438h4v4h-4zM176 442h4v4h-4zM336 442h4v4h-4zM428 442h4v4h-4zM440 442h4v4h-4zM488 446h4v4h-4zM524 446h4v4h-4zM180 450h4v4h-4zM472 450h4v4h-4zM484 450h4v4h-4zM528 450h4v4h-4zM220 454h8v4h-8zM540 454h12v4h-12zM216 458h4v4h-4zM232 458h4v4h-4zM556 458h4v4h-4zM232 462h4v4h-4zM560 462h4v4h-4zM208 466h4v4h-4zM564 466h4v4h-4zM176 470h4v4h-4zM228 470h4v4h-4zM360 470h4v4h-4zM196 474h4v4h-4zM364 474h8v4h-8zM376 474h4v4h-4zM520 474h4v4h-4zM192 478h4v4h-4zM248 478h4v4h-4zM380 478h4v4h-4zM244 482h4v4h-4zM252 482h4v4h-4zM380 482h4v4h-4zM536 482h4v4h-4zM232 486h12v4h-12zM380 486h4v4h-4zM420 486h4v4h-4zM544 486h4v4h-4zM580 486h4v4h-4zM380 490h4v4h-4zM416 490h12v4h-12zM468 490h4v4h-4zM548 490h4v4h-4zM584 490h4v4h-4zM180 494h4v4h-4zM260 494h4v4h-4zM380 494h4v4h-4zM424 494h4v4h-4zM588 494h4v4h-4zM176 498h4v4h-4zM268 498h8v4h-8zM344 498h4v4h-4zM352 498h4v4h-4zM412 498h4v4h-4zM460 498h4v4h-4zM552 498h4v4h-4zM592 498h4v4h-4zM284 502h4v4h-4zM340 502h4v4h-4zM384 502h4v4h-4zM412 502h8v4h-8zM424 502h8v4h-8zM456 502h4v4h-4zM556 502h8v4h-8zM600 502h8v4h-8zM248 506h4v4h-4zM292 506h4v4h-4zM364 506h4v4h-4zM408 506h12v4h-12zM424 506h12v4h-12zM564 506h8v4h-8zM576 506h4v4h-4zM608 506h4v4h-4zM244 510h4v4h-4zM256 510h4v4h-4zM296 510h4v4h-4zM368 510h4v4h-4zM436 510h4v4h-4zM452 510h4v4h-4zM580 510h4v4h-4zM440 514h4v4h-4zM452 514h4v4h-4zM580 514h4v4h-4zM616 514h4v4h-4zM240 518h4v4h-4zM344 518h4v4h-4zM452 518h4v4h-4zM560 518h20v4h-20zM620 518h8v4h-8zM144 522h4v4h-4zM264 522h4v4h-4zM308 522h16v4h-16zM348 522h4v4h-4zM372 522h4v4h-4zM452 522h4v4h-4zM556 522h4v4h-4zM632 522h8v4h-8zM316 526h4v4h-4zM452 526h4v4h-4zM552 526h4v4h-4zM640 526h4v4h-4zM320 530h4v4h-4zM352 530h4v4h-4zM372 530h4v4h-4zM464 530h8v4h-8zM476 530h4v4h-4zM544 530h4v4h-4zM644 530h4v4h-4zM656 530h16v4h-16zM136 534h4v4h-4zM364 534h12v4h-12zM464 534h8v4h-8zM476 534h4v4h-4zM644 534h12v4h-12zM668 534h8v4h-8zM236 538h4v4h-4zM332 538h4v4h-4zM464 538h12v4h-12zM528 538h4v4h-4zM648 538h4v4h-4zM668 538h4v4h-4zM232 542h4v4h-4zM256 542h4v4h-4zM468 542h8v4h-8zM668 542h4v4h-4zM124 546h4v4h-4zM232 546h4v4h-4zM252 546h4v4h-4zM340 546h4v4h-4zM380 546h4v4h-4zM464 546h12v4h-12zM524 546h4v4h-4zM672 546h4v4h-4zM256 550h4v4h-4zM340 550h4v4h-4zM376 550h4v4h-4zM460 550h4v4h-4zM472 550h4v4h-4zM232 554h4v4h-4zM260 554h4v4h-4zM372 554h4v4h-4zM472 554h4v4h-4zM232 558h4v4h-4zM264 558h4v4h-4zM368 558h4v4h-4zM472 558h4v4h-4zM500 558h4v4h-4zM232 562h4v4h-4zM404 562h4v4h-4z"/><path fill="#00e0ff" d="M300 114h4v4h-4zM348 118h4v4h-4zM280 130h8v4h-8zM124 134h40v4h-40zM228 134h4v4h-4zM364 134h12v4h-12zM172 138h52v4h-52zM364 138h4v4h-4zM376 138h4v4h-4zM212 142h16v4h-16zM372 142h8v4h-8zM212 146h4v4h-4zM232 146h8v4h-8zM176 150h36v4h-36zM252 150h4v4h-4zM340 150h4v4h-4zM168 154h44v4h-44zM256 154h4v4h-4zM172 158h40v4h-40zM260 158h4v4h-4zM172 162h40v4h-40zM260 162h4v4h-4zM320 162h4v4h-4zM176 166h36v4h-36zM356 166h4v4h-4zM176 170h36v4h-36zM264 170h4v4h-4zM272 170h24v4h-24zM312 170h4v4h-4zM180 174h32v4h-32zM264 174h20v4h-20zM296 174h4v4h-4zM340 174h4v4h-4zM184 178h28v4h-28zM268 178h8v4h-8zM340 178h4v4h-4zM184 182h28v4h-28zM340 182h4v4h-4zM356 182h4v4h-4zM188 186h24v4h-24zM280 186h12v4h-12zM336 186h20v4h-20zM188 190h24v4h-24zM272 190h4v4h-4zM296 190h4v4h-4zM340 190h12v4h-12zM192 194h20v4h-20zM268 194h4v4h-4zM344 194h8v4h-8zM192 198h20v4h-20zM268 198h4v4h-4zM348 198h4v4h-4zM124 202h4v4h-4zM192 202h20v4h-20zM348 202h4v4h-4zM636 202h4v4h-4zM652 202h4v4h-4zM124 206h4v4h-4zM196 206h16v4h-16zM348 206h4v4h-4zM660 206h4v4h-4zM124 210h8v4h-8zM204 210h8v4h-8zM124 214h8v4h-8zM204 214h8v4h-8zM336 214h4v4h-4zM616 214h4v4h-4zM660 214h16v4h-16zM128 218h4v4h-4zM204 218h8v4h-8zM608 218h4v4h-4zM660 218h4v4h-4zM128 222h8v4h-8zM204 222h8v4h-8zM320 222h4v4h-4zM348 222h4v4h-4zM660 222h4v4h-4zM132 226h4v4h-4zM204 226h8v4h-8zM316 226h4v4h-4zM132 230h8v4h-8zM204 230h8v4h-8zM264 230h4v4h-4zM312 230h4v4h-4zM136 234h4v4h-4zM204 234h4v4h-4zM664 234h4v4h-4zM136 238h8v4h-8zM204 238h8v4h-8zM576 238h8v4h-8zM140 242h4v4h-4zM208 242h4v4h-4zM304 242h4v4h-4zM568 242h4v4h-4zM668 242h4v4h-4zM140 246h8v4h-8zM216 246h4v4h-4zM252 246h4v4h-4zM580 246h4v4h-4zM592 246h4v4h-4zM672 246h4v4h-4zM144 250h4v4h-4zM220 250h4v4h-4zM300 250h4v4h-4zM148 254h4v4h-4zM280 254h8v4h-8zM296 254h4v4h-4zM148 258h4v4h-4zM276 258h4v4h-4zM540 258h4v4h-4zM152 262h4v4h-4zM248 262h4v4h-4zM152 266h4v4h-4zM240 266h4v4h-4zM536 266h4v4h-4zM156 270h4v4h-4zM208 270h4v4h-4zM236 270h4v4h-4zM572 270h4v4h-4zM160 278h4v4h-4zM528 278h4v4h-4zM568 278h4v4h-4zM160 282h4v4h-4zM164 286h4v4h-4zM196 286h4v4h-4zM268 286h4v4h-4zM164 290h24v4h-24zM192 290h4v4h-4zM560 290h4v4h-4zM168 294h24v4h-24zM588 294h4v4h-4zM172 298h8v4h-8zM184 298h8v4h-8zM508 298h4v4h-4zM588 298h4v4h-4zM172 302h4v4h-4zM184 302h4v4h-4zM260 302h4v4h-4zM492 302h4v4h-4zM588 302h4v4h-4zM176 306h8v4h-8zM448 306h4v4h-4zM476 306h4v4h-4zM596 306h4v4h-4zM236 310h4v4h-4zM432 310h4v4h-4zM588 310h8v4h-8zM236 314h4v4h-4zM256 314h4v4h-4zM476 314h4v4h-4zM588 314h8v4h-8zM608 314h4v4h-4zM236 318h4v4h-4zM460 318h4v4h-4zM548 318h4v4h-4zM576 318h16v4h-16zM156 322h12v4h-12zM236 322h4v4h-4zM252 322h4v4h-4zM476 322h4v4h-4zM548 322h4v4h-4zM564 322h4v4h-4zM588 322h4v4h-4zM624 322h4v4h-4zM164 326h4v4h-4zM232 326h20v4h-20zM420 326h4v4h-4zM472 326h4v4h-4zM556 326h4v4h-4zM588 326h4v4h-4zM164 330h4v4h-4zM232 330h12v4h-12zM424 330h4v4h-4zM548 330h8v4h-8zM592 330h8v4h-8zM608 330h12v4h-12zM164 334h4v4h-4zM224 334h20v4h-20zM436 334h4v4h-4zM548 334h4v4h-4zM164 338h4v4h-4zM224 338h4v4h-4zM232 338h8v4h-8zM548 338h4v4h-4zM584 338h4v4h-4zM220 342h4v4h-4zM232 342h8v4h-8zM404 342h4v4h-4zM448 342h4v4h-4zM544 342h8v4h-8zM572 342h4v4h-4zM592 342h4v4h-4zM616 342h4v4h-4zM220 346h4v4h-4zM236 346h4v4h-4zM444 346h4v4h-4zM556 346h4v4h-4zM564 346h4v4h-4zM600 346h8v4h-8zM124 350h4v4h-4zM220 350h4v4h-4zM236 350h4v4h-4zM412 350h4v4h-4zM536 350h4v4h-4zM124 354h16v4h-16zM184 354h4v4h-4zM216 354h12v4h-12zM236 354h4v4h-4zM396 354h4v4h-4zM124 358h16v4h-16zM192 358h48v4h-48zM376 358h4v4h-4zM388 358h8v4h-8zM532 358h4v4h-4zM124 362h16v4h-16zM216 362h20v4h-20zM372 362h4v4h-4zM388 362h12v4h-12zM124 366h8v4h-8zM136 366h4v4h-4zM220 366h8v4h-8zM388 366h4v4h-4zM528 366h4v4h-4zM124 370h8v4h-8zM136 370h4v4h-4zM220 370h4v4h-4zM524 370h4v4h-4zM124 374h8v4h-8zM136 374h4v4h-4zM220 374h4v4h-4zM124 378h8v4h-8zM136 378h4v4h-4zM220 378h4v4h-4zM388 378h4v4h-4zM124 382h4v4h-4zM136 382h4v4h-4zM400 382h4v4h-4zM124 386h4v4h-4zM136 386h4v4h-4zM520 386h4v4h-4zM124 390h4v4h-4zM136 390h4v4h-4zM308 390h12v4h-12zM352 390h8v4h-8zM124 394h4v4h-4zM136 394h4v4h-4zM220 394h4v4h-4zM300 394h4v4h-4zM324 394h4v4h-4zM348 394h4v4h-4zM124 398h4v4h-4zM136 398h4v4h-4zM216 398h4v4h-4zM300 398h4v4h-4zM324 398h4v4h-4zM344 398h4v4h-4zM124 402h4v4h-4zM136 402h4v4h-4zM212 402h4v4h-4zM300 402h4v4h-4zM324 402h8v4h-8zM344 402h16v4h-16zM484 402h4v4h-4zM124 406h4v4h-4zM136 406h4v4h-4zM300 406h4v4h-4zM320 406h36v4h-36zM468 406h4v4h-4zM124 410h4v4h-4zM136 410h4v4h-4zM200 410h8v4h-8zM312 410h44v4h-44zM324 414h12v4h-12zM356 414h4v4h-4zM328 418h8v4h-8zM360 418h8v4h-8zM452 418h4v4h-4zM332 422h4v4h-4zM360 422h8v4h-8zM424 422h4v4h-4zM440 422h4v4h-4zM124 426h16v4h-16zM336 426h4v4h-4zM364 426h60v4h-60zM448 426h4v4h-4zM176 430h4v4h-4zM336 430h4v4h-4zM364 430h4v4h-4zM412 430h4v4h-4zM336 434h4v4h-4zM364 434h4v4h-4zM404 434h12v4h-12zM172 438h4v4h-4zM364 438h4v4h-4zM392 438h28v4h-28zM340 442h4v4h-4zM364 442h60v4h-60zM448 442h8v4h-8zM460 442h4v4h-4zM172 446h4v4h-4zM364 446h8v4h-8zM396 446h20v4h-20zM424 446h4v4h-4zM176 450h4v4h-4zM360 450h8v4h-8zM400 450h12v4h-12zM468 450h4v4h-4zM512 450h4v4h-4zM352 454h12v4h-12zM404 454h8v4h-8zM472 454h4v4h-4zM508 454h4v4h-4zM528 454h4v4h-4zM224 458h4v4h-4zM360 458h4v4h-4zM404 458h8v4h-8zM476 458h4v4h-4zM488 458h20v4h-20zM532 458h4v4h-4zM540 458h8v4h-8zM224 462h4v4h-4zM364 462h4v4h-4zM404 462h8v4h-8zM480 462h28v4h-28zM536 462h4v4h-4zM552 462h4v4h-4zM176 466h4v4h-4zM216 466h4v4h-4zM224 466h4v4h-4zM368 466h4v4h-4zM404 466h8v4h-8zM552 466h8v4h-8zM208 470h4v4h-4zM380 470h4v4h-4zM404 470h12v4h-12zM512 470h16v4h-16zM552 470h8v4h-8zM220 474h4v4h-4zM404 474h16v4h-16zM480 474h8v4h-8zM508 474h4v4h-4zM528 474h4v4h-4zM544 474h20v4h-20zM220 478h4v4h-4zM384 478h4v4h-4zM404 478h8v4h-8zM420 478h8v4h-8zM536 478h32v4h-32zM220 482h4v4h-4zM384 482h4v4h-4zM404 482h8v4h-8zM428 482h4v4h-4zM552 482h20v4h-20zM152 486h4v4h-4zM220 486h4v4h-4zM404 486h8v4h-8zM556 486h8v4h-8zM568 486h8v4h-8zM188 490h4v4h-4zM220 490h4v4h-4zM244 490h8v4h-8zM388 490h4v4h-4zM404 490h8v4h-8zM432 490h4v4h-4zM464 490h4v4h-4zM556 490h8v4h-8zM572 490h8v4h-8zM184 494h4v4h-4zM220 494h36v4h-36zM392 494h16v4h-16zM460 494h4v4h-4zM560 494h20v4h-20zM180 498h4v4h-4zM228 498h4v4h-4zM240 498h12v4h-12zM392 498h12v4h-12zM436 498h4v4h-4zM236 502h8v4h-8zM392 502h8v4h-8zM440 502h4v4h-4zM452 502h4v4h-4zM164 506h4v4h-4zM236 506h4v4h-4zM264 506h4v4h-4zM344 506h8v4h-8zM396 506h4v4h-4zM440 506h4v4h-4zM592 506h4v4h-4zM236 510h4v4h-4zM264 510h4v4h-4zM292 510h4v4h-4zM320 510h4v4h-4zM328 510h28v4h-28zM360 510h4v4h-4zM392 510h4v4h-4zM444 510h8v4h-8zM588 510h20v4h-20zM236 514h4v4h-4zM264 514h4v4h-4zM320 514h8v4h-8zM348 514h8v4h-8zM364 514h4v4h-4zM588 514h8v4h-8zM600 514h8v4h-8zM148 518h4v4h-4zM236 518h4v4h-4zM268 518h4v4h-4zM352 518h4v4h-4zM592 518h16v4h-16zM236 522h4v4h-4zM272 522h4v4h-4zM300 522h4v4h-4zM356 522h4v4h-4zM208 526h4v4h-4zM236 526h4v4h-4zM276 526h4v4h-4zM304 526h4v4h-4zM360 526h8v4h-8zM564 526h8v4h-8zM584 526h48v4h-48zM144 530h4v4h-4zM208 530h4v4h-4zM280 530h4v4h-4zM312 530h4v4h-4zM552 530h4v4h-4zM636 530h4v4h-4zM140 534h4v4h-4zM208 534h8v4h-8zM232 534h4v4h-4zM280 534h4v4h-4zM320 534h4v4h-4zM540 534h4v4h-4zM136 538h4v4h-4zM208 538h8v4h-8zM228 538h4v4h-4zM280 538h4v4h-4zM640 538h4v4h-4zM132 542h4v4h-4zM208 542h20v4h-20zM264 542h20v4h-20zM332 542h4v4h-4zM660 542h4v4h-4zM208 546h16v4h-16zM264 546h16v4h-16zM660 546h4v4h-4zM128 550h4v4h-4zM208 550h16v4h-16zM268 550h8v4h-8zM336 550h4v4h-4zM664 550h4v4h-4zM208 554h16v4h-16zM668 554h4v4h-4zM124 558h4v4h-4zM208 558h16v4h-16zM464 558h4v4h-4zM520 558h4v4h-4zM668 558h8v4h-8zM124 562h4v4h-4zM204 562h20v4h-20zM376 562h4v4h-4zM464 562h4v4h-4zM504 562h4v4h-4zM512 562h8v4h-8zM672 562h4v4h-4z"/><path fill="#24ecdc" d="M304 114h4v4h-4zM320 114h4v4h-4zM340 114h4v4h-4zM296 122h4v4h-4zM240 134h4v4h-4zM276 134h20v4h-20zM232 138h4v4h-4zM236 142h8v4h-8zM256 146h8v4h-8zM268 150h12v4h-12zM276 154h8v4h-8zM336 154h4v4h-4zM280 158h8v4h-8zM324 158h8v4h-8zM292 162h4v4h-4zM296 166h4v4h-4zM308 170h4v4h-4zM356 170h4v4h-4zM356 174h4v4h-4zM348 178h8v4h-8zM296 194h16v4h-16zM332 194h4v4h-4zM336 198h4v4h-4zM336 202h4v4h-4zM336 206h4v4h-4zM636 206h4v4h-4zM652 206h4v4h-4zM332 210h4v4h-4zM652 210h4v4h-4zM672 210h4v4h-4zM328 214h4v4h-4zM652 214h4v4h-4zM320 218h4v4h-4zM612 218h4v4h-4zM648 218h4v4h-4zM164 222h4v4h-4zM648 222h4v4h-4zM160 226h16v4h-16zM652 226h4v4h-4zM160 230h20v4h-20zM268 230h4v4h-4zM308 230h4v4h-4zM656 230h4v4h-4zM160 234h24v4h-24zM304 234h4v4h-4zM160 238h28v4h-28zM260 238h4v4h-4zM160 242h32v4h-32zM300 242h4v4h-4zM664 242h4v4h-4zM160 246h16v4h-16zM180 246h20v4h-20zM296 246h4v4h-4zM560 246h8v4h-8zM576 246h4v4h-4zM160 250h12v4h-12zM188 250h24v4h-24zM276 250h4v4h-4zM284 250h12v4h-12zM548 250h4v4h-4zM576 250h4v4h-4zM164 254h8v4h-8zM212 254h4v4h-4zM544 254h4v4h-4zM576 254h4v4h-4zM164 258h8v4h-8zM212 258h4v4h-4zM256 258h4v4h-4zM272 258h4v4h-4zM164 262h8v4h-8zM208 262h4v4h-4zM252 262h4v4h-4zM272 262h4v4h-4zM168 266h8v4h-8zM272 266h4v4h-4zM572 266h4v4h-4zM168 270h8v4h-8zM204 270h4v4h-4zM240 270h4v4h-4zM272 270h4v4h-4zM536 270h4v4h-4zM596 270h4v4h-4zM172 274h8v4h-8zM568 274h4v4h-4zM176 278h8v4h-8zM596 278h4v4h-4zM184 282h4v4h-4zM528 282h4v4h-4zM596 282h4v4h-4zM524 286h4v4h-4zM560 286h4v4h-4zM596 286h4v4h-4zM596 290h4v4h-4zM596 294h4v4h-4zM512 298h4v4h-4zM552 298h4v4h-4zM256 306h4v4h-4zM488 306h4v4h-4zM548 306h4v4h-4zM240 310h4v4h-4zM440 310h4v4h-4zM252 314h4v4h-4zM480 314h4v4h-4zM248 318h4v4h-4zM480 318h4v4h-4zM544 318h4v4h-4zM572 322h12v4h-12zM656 322h4v4h-4zM568 326h4v4h-4zM564 330h4v4h-4zM580 330h4v4h-4zM144 334h12v4h-12zM440 334h4v4h-4zM464 334h4v4h-4zM540 334h4v4h-4zM556 334h4v4h-4zM572 334h8v4h-8zM672 334h4v4h-4zM140 338h8v4h-8zM156 338h4v4h-4zM460 338h4v4h-4zM556 338h4v4h-4zM568 338h4v4h-4zM140 342h4v4h-4zM156 342h4v4h-4zM456 342h4v4h-4zM560 342h8v4h-8zM600 342h12v4h-12zM144 346h4v4h-4zM160 346h4v4h-4zM448 346h4v4h-4zM532 346h4v4h-4zM144 350h4v4h-4zM168 350h4v4h-4zM404 350h4v4h-4zM440 350h4v4h-4zM148 354h4v4h-4zM408 354h4v4h-4zM528 354h4v4h-4zM148 358h4v4h-4zM184 358h4v4h-4zM400 358h4v4h-4zM192 362h4v4h-4zM376 362h4v4h-4zM404 362h4v4h-4zM524 362h4v4h-4zM144 366h4v4h-4zM200 366h8v4h-8zM372 366h4v4h-4zM408 366h4v4h-4zM520 366h4v4h-4zM144 370h4v4h-4zM208 370h4v4h-4zM516 370h4v4h-4zM212 374h4v4h-4zM408 374h4v4h-4zM212 378h4v4h-4zM212 382h4v4h-4zM212 386h4v4h-4zM400 386h4v4h-4zM212 390h4v4h-4zM388 390h4v4h-4zM140 394h4v4h-4zM208 394h4v4h-4zM360 394h4v4h-4zM396 394h4v4h-4zM508 394h4v4h-4zM140 398h4v4h-4zM208 398h4v4h-4zM392 398h4v4h-4zM496 398h4v4h-4zM140 402h4v4h-4zM476 402h4v4h-4zM140 406h4v4h-4zM200 406h4v4h-4zM140 410h4v4h-4zM192 410h4v4h-4zM140 414h4v4h-4zM448 414h4v4h-4zM368 418h4v4h-4zM396 418h16v4h-16zM428 418h4v4h-4zM344 422h12v4h-12zM376 422h8v4h-8zM140 426h4v4h-4zM176 426h4v4h-4zM344 426h4v4h-4zM132 430h4v4h-4zM356 434h4v4h-4zM168 438h4v4h-4zM344 438h4v4h-4zM356 438h4v4h-4zM168 446h4v4h-4zM348 446h8v4h-8zM448 446h12v4h-12zM172 450h4v4h-4zM424 450h12v4h-12zM464 450h4v4h-4zM372 454h8v4h-8zM388 454h8v4h-8zM420 454h4v4h-4zM516 454h8v4h-8zM176 458h4v4h-4zM372 458h4v4h-4zM416 458h4v4h-4zM524 458h4v4h-4zM376 462h4v4h-4zM396 462h4v4h-4zM516 462h4v4h-4zM524 462h4v4h-4zM384 466h4v4h-4zM396 466h4v4h-4zM420 466h4v4h-4zM472 466h4v4h-4zM396 470h4v4h-4zM424 470h4v4h-4zM472 470h4v4h-4zM208 474h8v4h-8zM388 474h4v4h-4zM396 474h4v4h-4zM428 474h4v4h-4zM164 478h4v4h-4zM388 478h4v4h-4zM396 478h4v4h-4zM432 478h4v4h-4zM468 478h4v4h-4zM216 482h4v4h-4zM392 482h8v4h-8zM132 486h4v4h-4zM140 486h8v4h-8zM196 486h4v4h-4zM216 486h4v4h-4zM436 486h4v4h-4zM464 486h4v4h-4zM216 490h4v4h-4zM460 490h4v4h-4zM216 494h4v4h-4zM444 494h4v4h-4zM452 494h4v4h-4zM216 498h4v4h-4zM180 502h4v4h-4zM172 506h4v4h-4zM220 506h8v4h-8zM160 510h4v4h-4zM224 510h4v4h-4zM272 510h4v4h-4zM284 510h4v4h-4zM208 514h8v4h-8zM228 514h4v4h-4zM272 514h4v4h-4zM288 514h4v4h-4zM152 518h4v4h-4zM204 518h4v4h-4zM228 518h4v4h-4zM276 518h8v4h-8zM288 518h8v4h-8zM216 522h4v4h-4zM228 522h4v4h-4zM284 522h12v4h-12zM200 526h4v4h-4zM216 526h4v4h-4zM228 526h4v4h-4zM288 526h4v4h-4zM296 526h4v4h-4zM200 530h4v4h-4zM220 530h8v4h-8zM288 530h4v4h-4zM300 530h4v4h-4zM144 534h4v4h-4zM200 534h4v4h-4zM288 534h4v4h-4zM308 534h8v4h-8zM548 534h4v4h-4zM628 534h4v4h-4zM140 538h4v4h-4zM200 538h4v4h-4zM288 538h4v4h-4zM136 542h4v4h-4zM200 542h4v4h-4zM288 542h4v4h-4zM328 542h4v4h-4zM200 546h4v4h-4zM288 546h4v4h-4zM132 550h4v4h-4zM200 550h4v4h-4zM284 550h4v4h-4zM528 550h4v4h-4zM656 550h4v4h-4zM132 554h4v4h-4zM280 554h4v4h-4zM660 554h4v4h-4zM196 558h4v4h-4zM276 558h4v4h-4zM388 558h8v4h-8zM524 558h4v4h-4zM660 558h4v4h-4zM196 562h4v4h-4zM276 562h4v4h-4zM384 562h4v4h-4z"/><path fill="#30f0d0" d="M308 114h12v4h-12zM324 114h4v4h-4zM344 118h4v4h-4zM296 126h4v4h-4zM344 126h4v4h-4zM296 130h4v4h-4zM296 134h12v4h-12zM236 138h4v4h-4zM244 138h64v4h-64zM340 138h4v4h-4zM244 142h20v4h-20zM264 146h16v4h-16zM280 150h4v4h-4zM284 154h4v4h-4zM288 158h4v4h-4zM320 158h4v4h-4zM300 170h4v4h-4zM348 170h8v4h-8zM348 174h8v4h-8zM276 194h8v4h-8zM288 194h8v4h-8zM312 194h4v4h-4zM328 194h4v4h-4zM272 198h4v4h-4zM332 198h4v4h-4zM640 206h4v4h-4zM648 206h4v4h-4zM672 206h4v4h-4zM632 210h4v4h-4zM648 214h4v4h-4zM312 222h4v4h-4zM268 234h4v4h-4zM264 238h4v4h-4zM300 238h4v4h-4zM660 238h4v4h-4zM260 242h4v4h-4zM176 246h4v4h-4zM292 246h4v4h-4zM568 246h8v4h-8zM172 250h16v4h-16zM668 250h4v4h-4zM172 254h40v4h-40zM272 254h4v4h-4zM672 254h4v4h-4zM172 258h16v4h-16zM204 258h8v4h-8zM172 262h12v4h-12zM204 262h4v4h-4zM540 262h4v4h-4zM176 266h4v4h-4zM204 266h4v4h-4zM596 266h4v4h-4zM176 270h4v4h-4zM180 274h4v4h-4zM200 274h4v4h-4zM532 278h4v4h-4zM188 282h8v4h-8zM260 290h4v4h-4zM556 290h4v4h-4zM600 294h4v4h-4zM604 298h4v4h-4zM504 302h4v4h-4zM240 306h4v4h-4zM492 306h4v4h-4zM608 306h4v4h-4zM444 310h8v4h-8zM484 310h4v4h-4zM244 314h8v4h-8zM428 314h4v4h-4zM544 314h4v4h-4zM612 314h4v4h-4zM424 318h4v4h-4zM616 318h4v4h-4zM480 322h4v4h-4zM572 326h12v4h-12zM428 330h4v4h-4zM472 330h4v4h-4zM540 330h4v4h-4zM568 330h12v4h-12zM456 334h4v4h-4zM560 334h12v4h-12zM148 338h8v4h-8zM536 338h4v4h-4zM560 338h8v4h-8zM600 338h12v4h-12zM144 342h12v4h-12zM460 342h4v4h-4zM532 342h4v4h-4zM148 346h12v4h-12zM452 346h4v4h-4zM528 346h4v4h-4zM148 350h12v4h-12zM164 350h4v4h-4zM528 350h4v4h-4zM152 354h4v4h-4zM172 354h4v4h-4zM404 354h4v4h-4zM428 354h4v4h-4zM180 358h4v4h-4zM404 358h16v4h-16zM148 362h4v4h-4zM188 362h4v4h-4zM380 362h4v4h-4zM408 362h4v4h-4zM196 366h4v4h-4zM384 366h4v4h-4zM204 370h4v4h-4zM144 374h4v4h-4zM208 374h4v4h-4zM144 378h4v4h-4zM208 378h4v4h-4zM208 382h4v4h-4zM404 382h4v4h-4zM208 386h4v4h-4zM208 390h4v4h-4zM512 390h4v4h-4zM388 394h4v4h-4zM396 398h4v4h-4zM204 402h4v4h-4zM364 402h4v4h-4zM196 406h4v4h-4zM460 406h4v4h-4zM452 410h4v4h-4zM392 418h4v4h-4zM412 418h16v4h-16zM348 426h8v4h-8zM124 430h8v4h-8zM136 430h4v4h-4zM344 430h12v4h-12zM344 434h4v4h-4zM352 434h4v4h-4zM352 438h4v4h-4zM164 442h4v4h-4zM348 442h8v4h-8zM436 450h4v4h-4zM380 454h8v4h-8zM376 458h20v4h-20zM420 458h4v4h-4zM468 458h4v4h-4zM516 458h8v4h-8zM380 462h16v4h-16zM420 462h4v4h-4zM520 462h4v4h-4zM172 466h4v4h-4zM388 466h8v4h-8zM388 470h8v4h-8zM392 474h4v4h-4zM432 474h4v4h-4zM468 474h4v4h-4zM204 478h4v4h-4zM212 478h4v4h-4zM392 478h4v4h-4zM156 482h4v4h-4zM200 482h4v4h-4zM436 482h4v4h-4zM136 486h4v4h-4zM196 490h4v4h-4zM440 490h4v4h-4zM456 490h4v4h-4zM192 494h4v4h-4zM448 494h4v4h-4zM188 498h4v4h-4zM184 502h4v4h-4zM216 502h4v4h-4zM212 506h8v4h-8zM164 510h4v4h-4zM208 510h16v4h-16zM276 510h8v4h-8zM156 514h4v4h-4zM204 514h4v4h-4zM216 514h12v4h-12zM276 514h12v4h-12zM216 518h12v4h-12zM284 518h4v4h-4zM152 522h4v4h-4zM200 522h4v4h-4zM220 522h8v4h-8zM220 526h8v4h-8zM292 526h4v4h-4zM148 530h4v4h-4zM292 530h8v4h-8zM292 534h16v4h-16zM552 534h4v4h-4zM620 534h8v4h-8zM292 538h4v4h-4zM320 538h4v4h-4zM540 538h4v4h-4zM632 538h4v4h-4zM292 542h4v4h-4zM636 542h4v4h-4zM136 546h4v4h-4zM292 546h4v4h-4zM288 550h4v4h-4zM652 550h4v4h-4zM196 554h4v4h-4zM284 554h4v4h-4zM136 558h4v4h-4zM280 558h4v4h-4zM136 562h4v4h-4zM192 562h4v4h-4zM388 562h8v4h-8zM524 562h4v4h-4zM660 562h4v4h-4z"/><path fill="#50f0b0" d="M328 114h4v4h-4zM336 114h4v4h-4zM308 134h4v4h-4zM308 142h4v4h-4zM292 146h4v4h-4zM336 146h4v4h-4zM292 150h4v4h-4zM292 154h4v4h-4zM328 154h4v4h-4zM316 158h4v4h-4zM312 162h4v4h-4zM308 166h4v4h-4zM328 198h4v4h-4zM272 202h4v4h-4zM640 210h4v4h-4zM272 214h4v4h-4zM628 214h4v4h-4zM640 214h4v4h-4zM272 218h4v4h-4zM272 222h4v4h-4zM272 226h4v4h-4zM644 226h4v4h-4zM600 230h4v4h-4zM300 234h4v4h-4zM656 238h4v4h-4zM268 242h8v4h-8zM292 242h4v4h-4zM264 246h12v4h-12zM268 250h4v4h-4zM552 250h4v4h-4zM572 250h4v4h-4zM260 254h4v4h-4zM596 254h4v4h-4zM668 254h4v4h-4zM596 258h4v4h-4zM672 258h4v4h-4zM188 262h12v4h-12zM256 262h4v4h-4zM184 266h4v4h-4zM200 266h4v4h-4zM184 270h4v4h-4zM244 270h4v4h-4zM184 274h4v4h-4zM536 274h4v4h-4zM188 278h8v4h-8zM240 278h4v4h-4zM240 282h4v4h-4zM560 282h4v4h-4zM240 286h4v4h-4zM260 286h4v4h-4zM240 290h4v4h-4zM524 290h4v4h-4zM240 294h4v4h-4zM552 294h4v4h-4zM500 306h4v4h-4zM248 310h4v4h-4zM488 310h4v4h-4zM484 314h4v4h-4zM624 318h24v4h-24zM424 322h4v4h-4zM540 322h4v4h-4zM480 326h4v4h-4zM664 326h4v4h-4zM456 330h4v4h-4zM476 330h4v4h-4zM444 334h4v4h-4zM452 334h4v4h-4zM528 338h4v4h-4zM464 342h4v4h-4zM524 342h4v4h-4zM460 346h4v4h-4zM444 350h4v4h-4zM160 354h12v4h-12zM432 354h4v4h-4zM156 358h4v4h-4zM184 362h4v4h-4zM416 362h4v4h-4zM188 366h4v4h-4zM412 366h4v4h-4zM148 370h4v4h-4zM372 370h4v4h-4zM384 370h4v4h-4zM412 370h4v4h-4zM200 374h4v4h-4zM204 382h4v4h-4zM144 386h4v4h-4zM204 386h4v4h-4zM144 390h4v4h-4zM204 390h4v4h-4zM400 390h4v4h-4zM364 394h4v4h-4zM200 398h4v4h-4zM196 402h4v4h-4zM392 402h8v4h-8zM472 402h4v4h-4zM192 406h4v4h-4zM188 410h4v4h-4zM448 410h4v4h-4zM184 414h4v4h-4zM392 414h4v4h-4zM408 414h8v4h-8zM432 414h4v4h-4zM372 418h4v4h-4zM384 418h4v4h-4zM144 422h4v4h-4zM140 430h4v4h-4zM168 434h4v4h-4zM164 438h4v4h-4zM164 446h4v4h-4zM168 450h4v4h-4zM440 450h4v4h-4zM456 450h4v4h-4zM172 454h4v4h-4zM428 454h4v4h-4zM424 458h4v4h-4zM464 458h4v4h-4zM424 462h4v4h-4zM168 470h4v4h-4zM164 474h4v4h-4zM160 478h4v4h-4zM464 478h4v4h-4zM204 482h8v4h-8zM440 486h4v4h-4zM200 490h4v4h-4zM212 490h4v4h-4zM448 490h8v4h-8zM196 494h4v4h-4zM212 494h4v4h-4zM196 498h4v4h-4zM188 502h8v4h-8zM208 502h4v4h-4zM180 506h4v4h-4zM200 506h8v4h-8zM172 510h4v4h-4zM200 510h4v4h-4zM164 514h4v4h-4zM156 522h4v4h-4zM196 526h4v4h-4zM152 530h4v4h-4zM196 530h4v4h-4zM148 534h4v4h-4zM196 534h4v4h-4zM560 534h52v4h-52zM144 538h4v4h-4zM196 538h4v4h-4zM624 538h4v4h-4zM196 542h4v4h-4zM300 542h4v4h-4zM632 542h4v4h-4zM196 546h4v4h-4zM296 546h4v4h-4zM328 550h4v4h-4zM648 550h4v4h-4zM192 554h4v4h-4zM292 554h4v4h-4zM328 554h4v4h-4zM528 554h4v4h-4zM140 558h4v4h-4zM288 558h4v4h-4zM328 558h4v4h-4zM140 562h4v4h-4zM188 562h4v4h-4zM284 562h4v4h-4zM328 562h4v4h-4z"/><path fill="#60f0a0" d="M332 114h4v4h-4zM300 122h4v4h-4zM300 126h4v4h-4zM304 130h4v4h-4zM312 138h4v4h-4zM296 146h8v4h-8zM332 150h4v4h-4zM324 154h4v4h-4zM296 158h4v4h-4zM304 166h4v4h-4zM276 198h4v4h-4zM292 198h4v4h-4zM328 202h4v4h-4zM272 206h4v4h-4zM328 206h4v4h-4zM272 210h4v4h-4zM320 214h4v4h-4zM632 214h8v4h-8zM312 218h4v4h-4zM616 218h4v4h-4zM640 218h4v4h-4zM308 222h4v4h-4zM640 222h4v4h-4zM304 226h4v4h-4zM272 230h4v4h-4zM648 230h4v4h-4zM272 234h4v4h-4zM652 234h4v4h-4zM272 238h4v4h-4zM296 238h4v4h-4zM596 238h4v4h-4zM276 242h16v4h-16zM660 246h4v4h-4zM264 250h4v4h-4zM596 250h4v4h-4zM664 250h4v4h-4zM268 254h4v4h-4zM572 254h4v4h-4zM260 258h4v4h-4zM268 258h4v4h-4zM544 258h4v4h-4zM572 258h4v4h-4zM188 266h12v4h-12zM252 266h4v4h-4zM540 266h4v4h-4zM188 270h4v4h-4zM196 270h4v4h-4zM188 274h4v4h-4zM196 274h4v4h-4zM268 274h4v4h-4zM532 282h4v4h-4zM528 286h4v4h-4zM556 286h4v4h-4zM600 286h4v4h-4zM604 294h4v4h-4zM256 298h4v4h-4zM548 298h4v4h-4zM512 302h4v4h-4zM608 302h4v4h-4zM244 306h4v4h-4zM252 306h4v4h-4zM544 306h4v4h-4zM492 310h4v4h-4zM612 310h4v4h-4zM452 314h4v4h-4zM616 314h4v4h-4zM540 318h4v4h-4zM648 318h8v4h-8zM456 322h4v4h-4zM456 326h4v4h-4zM536 330h4v4h-4zM448 334h4v4h-4zM532 334h4v4h-4zM524 338h4v4h-4zM520 342h4v4h-4zM520 346h4v4h-4zM520 350h4v4h-4zM172 358h4v4h-4zM424 358h4v4h-4zM520 358h4v4h-4zM156 362h4v4h-4zM180 362h4v4h-4zM152 366h4v4h-4zM380 366h4v4h-4zM192 370h4v4h-4zM512 370h4v4h-4zM148 374h4v4h-4zM196 374h4v4h-4zM384 374h4v4h-4zM412 374h4v4h-4zM148 378h4v4h-4zM200 378h4v4h-4zM200 382h4v4h-4zM508 390h4v4h-4zM144 394h4v4h-4zM200 394h4v4h-4zM400 394h4v4h-4zM500 394h4v4h-4zM144 398h4v4h-4zM388 398h4v4h-4zM488 398h4v4h-4zM392 406h8v4h-8zM456 406h4v4h-4zM368 410h4v4h-4zM392 410h16v4h-16zM416 414h4v4h-4zM424 414h8v4h-8zM144 418h4v4h-4zM144 426h4v4h-4zM444 450h12v4h-12zM460 454h4v4h-4zM172 462h4v4h-4zM464 462h4v4h-4zM428 466h4v4h-4zM432 470h4v4h-4zM436 474h4v4h-4zM464 474h4v4h-4zM152 482h4v4h-4zM460 482h4v4h-4zM204 486h8v4h-8zM456 486h4v4h-4zM200 494h4v4h-4zM200 498h4v4h-4zM208 498h4v4h-4zM196 502h12v4h-12zM184 506h16v4h-16zM176 510h4v4h-4zM196 510h4v4h-4zM168 514h4v4h-4zM196 514h4v4h-4zM160 518h4v4h-4zM196 518h4v4h-4zM196 522h4v4h-4zM548 538h4v4h-4zM620 538h4v4h-4zM304 542h8v4h-8zM320 542h4v4h-4zM540 542h4v4h-4zM140 546h4v4h-4zM300 546h4v4h-4zM324 546h4v4h-4zM140 550h4v4h-4zM192 550h4v4h-4zM296 550h4v4h-4zM532 550h4v4h-4zM140 554h4v4h-4zM188 558h4v4h-4zM528 558h4v4h-4zM656 558h4v4h-4zM288 562h4v4h-4z"/><path fill="#00d4ff" d="M344 114h4v4h-4zM292 122h4v4h-4zM288 126h4v4h-4zM348 126h4v4h-4zM272 130h8v4h-8zM164 134h48v4h-48zM224 134h4v4h-4zM360 134h4v4h-4zM376 134h4v4h-4zM380 138h4v4h-4zM368 142h4v4h-4zM380 142h4v4h-4zM216 146h16v4h-16zM376 146h8v4h-8zM212 150h4v4h-4zM248 150h4v4h-4zM212 154h4v4h-4zM340 154h4v4h-4zM212 158h4v4h-4zM256 158h4v4h-4zM340 158h4v4h-4zM212 162h4v4h-4zM324 162h24v4h-24zM212 166h4v4h-4zM260 166h4v4h-4zM340 166h4v4h-4zM212 170h4v4h-4zM260 170h4v4h-4zM340 170h4v4h-4zM364 170h4v4h-4zM212 174h4v4h-4zM284 174h12v4h-12zM364 174h4v4h-4zM212 178h4v4h-4zM264 178h4v4h-4zM276 178h36v4h-36zM212 182h4v4h-4zM264 182h32v4h-32zM336 182h4v4h-4zM360 182h4v4h-4zM212 186h4v4h-4zM268 186h12v4h-12zM292 186h4v4h-4zM320 186h16v4h-16zM356 186h4v4h-4zM212 190h4v4h-4zM268 190h4v4h-4zM300 190h4v4h-4zM312 190h4v4h-4zM352 190h4v4h-4zM212 194h4v4h-4zM352 194h4v4h-4zM212 198h4v4h-4zM352 198h4v4h-4zM672 198h4v4h-4zM212 202h4v4h-4zM352 202h4v4h-4zM656 202h12v4h-12zM212 206h4v4h-4zM352 206h4v4h-4zM628 206h4v4h-4zM212 210h4v4h-4zM352 210h4v4h-4zM624 210h4v4h-4zM212 214h4v4h-4zM352 214h4v4h-4zM124 218h4v4h-4zM212 218h4v4h-4zM328 218h4v4h-4zM340 218h4v4h-4zM352 218h4v4h-4zM664 218h4v4h-4zM124 222h4v4h-4zM212 222h4v4h-4zM344 222h4v4h-4zM664 222h4v4h-4zM124 226h8v4h-8zM212 226h4v4h-4zM596 226h4v4h-4zM664 226h4v4h-4zM128 230h4v4h-4zM592 230h4v4h-4zM664 230h4v4h-4zM128 234h8v4h-8zM208 234h4v4h-4zM256 234h4v4h-4zM132 238h4v4h-4zM248 238h4v4h-4zM308 238h4v4h-4zM584 238h8v4h-8zM668 238h4v4h-4zM136 242h4v4h-4zM212 242h4v4h-4zM248 242h4v4h-4zM584 242h8v4h-8zM136 246h4v4h-4zM220 246h4v4h-4zM304 246h4v4h-4zM552 246h4v4h-4zM140 250h4v4h-4zM544 250h4v4h-4zM580 250h4v4h-4zM140 254h8v4h-8zM224 254h4v4h-4zM300 254h4v4h-4zM144 258h4v4h-4zM220 258h4v4h-4zM252 258h4v4h-4zM280 258h16v4h-16zM148 262h4v4h-4zM216 262h4v4h-4zM276 262h4v4h-4zM148 266h4v4h-4zM212 266h4v4h-4zM576 266h4v4h-4zM152 270h4v4h-4zM156 274h4v4h-4zM156 278h4v4h-4zM204 278h4v4h-4zM200 282h4v4h-4zM272 282h4v4h-4zM524 282h4v4h-4zM592 282h4v4h-4zM160 286h4v4h-4zM520 286h4v4h-4zM564 286h4v4h-4zM264 290h4v4h-4zM588 290h4v4h-4zM164 294h4v4h-4zM192 294h4v4h-4zM168 298h4v4h-4zM556 298h4v4h-4zM188 302h4v4h-4zM484 302h8v4h-8zM172 306h4v4h-4zM184 306h4v4h-4zM260 306h4v4h-4zM444 306h4v4h-4zM452 306h4v4h-4zM472 306h4v4h-4zM552 306h4v4h-4zM588 306h4v4h-4zM600 306h4v4h-4zM456 310h4v4h-4zM472 310h4v4h-4zM596 310h4v4h-4zM604 310h4v4h-4zM424 314h4v4h-4zM584 314h4v4h-4zM160 318h8v4h-8zM232 318h4v4h-4zM256 318h4v4h-4zM476 318h4v4h-4zM572 318h4v4h-4zM592 318h4v4h-4zM124 322h32v4h-32zM232 322h4v4h-4zM552 322h12v4h-12zM592 322h4v4h-4zM612 322h4v4h-4zM628 322h4v4h-4zM648 322h4v4h-4zM228 326h4v4h-4zM464 326h8v4h-8zM548 326h8v4h-8zM592 326h4v4h-4zM612 326h12v4h-12zM656 326h4v4h-4zM224 330h8v4h-8zM244 330h8v4h-8zM600 330h8v4h-8zM660 330h4v4h-4zM220 334h4v4h-4zM244 334h4v4h-4zM404 334h4v4h-4zM620 334h4v4h-4zM220 338h4v4h-4zM240 338h4v4h-4zM404 338h4v4h-4zM444 338h4v4h-4zM620 338h4v4h-4zM168 342h4v4h-4zM240 342h4v4h-4zM408 342h4v4h-4zM576 342h16v4h-16zM172 346h4v4h-4zM240 346h4v4h-4zM400 346h4v4h-4zM540 346h4v4h-4zM552 346h4v4h-4zM568 346h4v4h-4zM596 346h4v4h-4zM608 346h4v4h-4zM176 350h4v4h-4zM216 350h4v4h-4zM432 350h4v4h-4zM188 354h4v4h-4zM208 354h8v4h-8zM380 354h4v4h-4zM392 354h4v4h-4zM536 354h4v4h-4zM236 362h4v4h-4zM532 362h4v4h-4zM132 366h4v4h-4zM228 366h8v4h-8zM400 366h4v4h-4zM132 370h4v4h-4zM224 370h8v4h-8zM388 370h4v4h-4zM404 370h4v4h-4zM528 370h4v4h-4zM132 374h4v4h-4zM224 374h4v4h-4zM368 374h4v4h-4zM388 374h4v4h-4zM404 374h4v4h-4zM520 374h4v4h-4zM132 378h4v4h-4zM224 378h4v4h-4zM520 378h4v4h-4zM128 382h8v4h-8zM224 382h4v4h-4zM520 382h4v4h-4zM128 386h8v4h-8zM224 386h4v4h-4zM396 386h4v4h-4zM128 390h8v4h-8zM224 390h4v4h-4zM304 390h4v4h-4zM320 390h4v4h-4zM348 390h4v4h-4zM392 390h4v4h-4zM520 390h4v4h-4zM128 394h8v4h-8zM344 394h4v4h-4zM516 394h4v4h-4zM128 398h8v4h-8zM296 398h4v4h-4zM328 398h4v4h-4zM504 398h4v4h-4zM128 402h8v4h-8zM296 402h4v4h-4zM332 402h12v4h-12zM488 402h4v4h-4zM128 406h8v4h-8zM356 406h8v4h-8zM128 410h8v4h-8zM304 410h8v4h-8zM356 410h8v4h-8zM460 410h4v4h-4zM124 414h8v4h-8zM136 414h4v4h-4zM192 414h4v4h-4zM320 414h4v4h-4zM360 414h4v4h-4zM456 414h4v4h-4zM124 418h4v4h-4zM136 418h4v4h-4zM324 418h4v4h-4zM124 422h4v4h-4zM136 422h4v4h-4zM324 422h8v4h-8zM428 422h4v4h-4zM452 422h4v4h-4zM332 426h4v4h-4zM444 426h4v4h-4zM332 430h4v4h-4zM368 430h8v4h-8zM384 430h28v4h-28zM416 430h8v4h-8zM448 430h4v4h-4zM176 434h4v4h-4zM368 434h36v4h-36zM416 434h8v4h-8zM336 438h4v4h-4zM368 438h24v4h-24zM420 438h4v4h-4zM448 438h12v4h-12zM172 442h4v4h-4zM424 442h4v4h-4zM444 442h4v4h-4zM464 442h4v4h-4zM428 446h12v4h-12zM516 446h4v4h-4zM492 450h20v4h-20zM524 450h4v4h-4zM488 454h20v4h-20zM180 458h4v4h-4zM220 458h4v4h-4zM356 458h4v4h-4zM480 458h8v4h-8zM536 458h4v4h-4zM548 458h4v4h-4zM216 462h4v4h-4zM228 462h4v4h-4zM360 462h4v4h-4zM556 462h4v4h-4zM212 466h4v4h-4zM364 466h4v4h-4zM560 466h4v4h-4zM204 470h4v4h-4zM224 470h4v4h-4zM368 470h4v4h-4zM376 470h4v4h-4zM560 470h4v4h-4zM200 474h4v4h-4zM224 474h4v4h-4zM512 474h4v4h-4zM564 474h4v4h-4zM168 478h4v4h-4zM196 478h4v4h-4zM412 478h8v4h-8zM476 478h4v4h-4zM484 478h24v4h-24zM532 478h4v4h-4zM568 478h4v4h-4zM192 482h4v4h-4zM412 482h4v4h-4zM420 482h8v4h-8zM472 482h4v4h-4zM544 482h8v4h-8zM572 482h4v4h-4zM224 486h4v4h-4zM248 486h4v4h-4zM384 486h4v4h-4zM412 486h4v4h-4zM428 486h4v4h-4zM468 486h4v4h-4zM552 486h4v4h-4zM576 486h4v4h-4zM224 490h20v4h-20zM252 490h4v4h-4zM384 490h4v4h-4zM428 490h4v4h-4zM552 490h4v4h-4zM256 494h4v4h-4zM388 494h4v4h-4zM408 494h4v4h-4zM432 494h4v4h-4zM556 494h4v4h-4zM580 494h4v4h-4zM252 498h8v4h-8zM388 498h4v4h-4zM404 498h8v4h-8zM432 498h4v4h-4zM456 498h4v4h-4zM560 498h24v4h-24zM172 502h4v4h-4zM244 502h40v4h-40zM348 502h4v4h-4zM388 502h4v4h-4zM400 502h8v4h-8zM436 502h4v4h-4zM584 502h8v4h-8zM156 506h8v4h-8zM240 506h4v4h-4zM260 506h4v4h-4zM288 506h4v4h-4zM324 506h20v4h-20zM352 506h8v4h-8zM388 506h4v4h-4zM400 506h4v4h-4zM584 506h8v4h-8zM596 506h8v4h-8zM260 510h4v4h-4zM364 510h4v4h-4zM388 510h4v4h-4zM396 510h4v4h-4zM440 510h4v4h-4zM584 510h4v4h-4zM608 510h4v4h-4zM148 514h4v4h-4zM296 514h4v4h-4zM328 514h8v4h-8zM340 514h8v4h-8zM444 514h8v4h-8zM584 514h4v4h-4zM608 514h4v4h-4zM348 518h4v4h-4zM368 518h4v4h-4zM588 518h4v4h-4zM608 518h8v4h-8zM268 522h4v4h-4zM352 522h4v4h-4zM368 522h4v4h-4zM584 522h32v4h-32zM272 526h4v4h-4zM308 526h4v4h-4zM356 526h4v4h-4zM368 526h4v4h-4zM560 526h4v4h-4zM572 526h12v4h-12zM632 526h4v4h-4zM236 530h4v4h-4zM276 530h4v4h-4zM316 530h4v4h-4zM360 530h8v4h-8zM548 530h4v4h-4zM272 534h8v4h-8zM640 534h4v4h-4zM264 538h16v4h-16zM328 538h4v4h-4zM532 538h4v4h-4zM660 538h4v4h-4zM260 542h4v4h-4zM528 542h4v4h-4zM644 542h4v4h-4zM652 542h8v4h-8zM664 542h4v4h-4zM128 546h4v4h-4zM224 546h4v4h-4zM260 546h4v4h-4zM336 546h4v4h-4zM664 546h4v4h-4zM224 550h4v4h-4zM264 550h4v4h-4zM384 550h8v4h-8zM524 550h4v4h-4zM668 550h4v4h-4zM124 554h4v4h-4zM224 554h4v4h-4zM268 554h4v4h-4zM336 554h4v4h-4zM380 554h4v4h-4zM464 554h4v4h-4zM672 554h4v4h-4zM224 558h4v4h-4zM268 558h4v4h-4zM336 558h4v4h-4zM376 558h4v4h-4zM460 558h4v4h-4zM468 558h4v4h-4zM508 558h4v4h-4zM224 562h4v4h-4zM336 562h4v4h-4zM372 562h4v4h-4zM400 562h4v4h-4zM460 562h4v4h-4zM468 562h4v4h-4z"/><path fill="#009cff" d="M352 114h4v4h-4zM288 118h4v4h-4zM356 118h4v4h-4zM124 122h16v4h-16zM360 122h4v4h-4zM196 126h12v4h-12zM268 126h4v4h-4zM372 126h4v4h-4zM220 130h4v4h-4zM388 138h4v4h-4zM392 142h4v4h-4zM364 146h4v4h-4zM228 158h8v4h-8zM240 158h4v4h-4zM376 158h4v4h-4zM228 162h4v4h-4zM244 162h4v4h-4zM360 162h4v4h-4zM228 166h4v4h-4zM244 166h4v4h-4zM368 166h4v4h-4zM248 170h4v4h-4zM252 174h4v4h-4zM316 174h4v4h-4zM320 178h8v4h-8zM256 182h4v4h-4zM368 182h4v4h-4zM672 194h4v4h-4zM260 198h4v4h-4zM616 210h4v4h-4zM228 218h4v4h-4zM228 222h4v4h-4zM356 222h4v4h-4zM592 222h4v4h-4zM228 226h8v4h-8zM332 226h8v4h-8zM588 226h4v4h-4zM236 230h16v4h-16zM324 230h4v4h-4zM320 234h4v4h-4zM316 238h4v4h-4zM236 246h4v4h-4zM444 246h8v4h-8zM544 246h4v4h-4zM232 250h4v4h-4zM244 250h4v4h-4zM312 250h4v4h-4zM436 250h4v4h-4zM452 250h4v4h-4zM540 250h4v4h-4zM588 250h4v4h-4zM452 254h4v4h-4zM584 254h4v4h-4zM308 258h4v4h-4zM124 262h4v4h-4zM228 262h8v4h-8zM304 262h4v4h-4zM444 262h4v4h-4zM128 266h4v4h-4zM292 266h8v4h-8zM580 266h4v4h-4zM132 270h4v4h-4zM284 270h4v4h-4zM528 270h4v4h-4zM136 274h4v4h-4zM212 274h4v4h-4zM140 278h4v4h-4zM588 278h4v4h-4zM144 282h4v4h-4zM284 282h4v4h-4zM148 286h4v4h-4zM288 286h4v4h-4zM448 286h4v4h-4zM464 286h4v4h-4zM568 286h4v4h-4zM584 286h4v4h-4zM152 290h4v4h-4zM200 290h4v4h-4zM284 290h4v4h-4zM512 290h4v4h-4zM468 294h4v4h-4zM564 294h4v4h-4zM440 298h4v4h-4zM476 298h8v4h-8zM160 302h4v4h-4zM272 302h8v4h-8zM436 302h4v4h-4zM196 306h4v4h-4zM268 306h8v4h-8zM160 310h4v4h-4zM228 310h4v4h-4zM268 310h4v4h-4zM424 310h4v4h-4zM580 310h4v4h-4zM156 314h4v4h-4zM180 314h8v4h-8zM264 314h4v4h-4zM564 314h8v4h-8zM388 318h12v4h-12zM412 318h4v4h-4zM172 322h4v4h-4zM216 322h4v4h-4zM260 322h4v4h-4zM384 322h4v4h-4zM212 326h4v4h-4zM380 326h8v4h-8zM632 326h4v4h-4zM648 326h4v4h-4zM212 330h4v4h-4zM380 330h8v4h-8zM628 330h4v4h-4zM652 330h4v4h-4zM172 334h4v4h-4zM212 334h4v4h-4zM256 334h4v4h-4zM376 334h8v4h-8zM628 334h4v4h-4zM656 334h4v4h-4zM372 338h4v4h-4zM380 338h4v4h-4zM628 338h4v4h-4zM176 342h4v4h-4zM252 342h4v4h-4zM672 342h4v4h-4zM384 346h4v4h-4zM396 346h4v4h-4zM436 346h4v4h-4zM624 346h4v4h-4zM192 350h8v4h-8zM248 350h4v4h-4zM368 350h4v4h-4zM572 350h4v4h-4zM592 350h8v4h-8zM612 350h4v4h-4zM548 354h20v4h-20zM244 366h4v4h-4zM244 370h4v4h-4zM536 370h4v4h-4zM244 374h4v4h-4zM240 378h4v4h-4zM236 382h4v4h-4zM308 382h44v4h-44zM532 382h4v4h-4zM292 386h4v4h-4zM232 390h4v4h-4zM288 390h4v4h-4zM288 394h4v4h-4zM228 398h4v4h-4zM520 398h4v4h-4zM224 402h4v4h-4zM220 406h4v4h-4zM288 406h4v4h-4zM480 406h4v4h-4zM216 410h4v4h-4zM468 410h4v4h-4zM208 414h4v4h-4zM300 414h4v4h-4zM464 414h4v4h-4zM312 418h4v4h-4zM460 418h4v4h-4zM188 422h4v4h-4zM316 422h4v4h-4zM184 426h4v4h-4zM320 430h4v4h-4zM432 430h4v4h-4zM460 430h4v4h-4zM324 434h4v4h-4zM432 434h8v4h-8zM464 434h4v4h-4zM328 438h4v4h-4zM468 438h4v4h-4zM484 442h4v4h-4zM476 446h8v4h-8zM532 446h4v4h-4zM220 450h8v4h-8zM544 450h4v4h-4zM184 454h4v4h-4zM236 454h4v4h-4zM556 454h4v4h-4zM184 458h4v4h-4zM240 458h4v4h-4zM564 458h4v4h-4zM184 462h4v4h-4zM208 462h4v4h-4zM244 462h4v4h-4zM348 462h4v4h-4zM240 466h12v4h-12zM352 466h4v4h-4zM180 470h4v4h-4zM196 470h4v4h-4zM232 470h4v4h-4zM244 470h4v4h-4zM252 470h4v4h-4zM356 470h4v4h-4zM176 474h4v4h-4zM244 474h4v4h-4zM188 478h4v4h-4zM360 478h4v4h-4zM580 478h4v4h-4zM172 482h4v4h-4zM184 482h4v4h-4zM236 482h4v4h-4zM368 482h8v4h-8zM508 482h4v4h-4zM180 486h4v4h-4zM260 486h4v4h-4zM372 486h4v4h-4zM536 486h4v4h-4zM152 490h4v4h-4zM352 490h4v4h-4zM540 490h4v4h-4zM592 490h4v4h-4zM272 494h4v4h-4zM468 494h4v4h-4zM544 494h4v4h-4zM596 494h4v4h-4zM284 498h4v4h-4zM340 498h4v4h-4zM356 498h4v4h-4zM604 498h4v4h-4zM148 502h4v4h-4zM292 502h4v4h-4zM364 502h4v4h-4zM460 502h4v4h-4zM548 502h4v4h-4zM612 502h4v4h-4zM380 506h4v4h-4zM456 506h4v4h-4zM552 506h4v4h-4zM300 510h4v4h-4zM372 510h4v4h-4zM552 510h4v4h-4zM624 510h4v4h-4zM248 514h8v4h-8zM304 514h8v4h-8zM408 514h8v4h-8zM424 514h12v4h-12zM552 514h4v4h-4zM628 514h8v4h-8zM244 518h4v4h-4zM256 518h4v4h-4zM376 518h8v4h-8zM400 518h4v4h-4zM456 518h4v4h-4zM552 518h4v4h-4zM644 518h4v4h-4zM380 522h16v4h-16zM440 522h4v4h-4zM460 522h4v4h-4zM472 522h4v4h-4zM548 522h4v4h-4zM652 522h24v4h-24zM140 526h4v4h-4zM260 526h4v4h-4zM324 526h4v4h-4zM384 526h4v4h-4zM540 526h4v4h-4zM136 530h4v4h-4zM260 530h4v4h-4zM384 530h4v4h-4zM480 530h4v4h-4zM348 534h4v4h-4zM388 534h4v4h-4zM452 534h4v4h-4zM480 534h4v4h-4zM528 534h4v4h-4zM124 538h4v4h-4zM244 538h4v4h-4zM252 538h4v4h-4zM340 538h4v4h-4zM356 538h12v4h-12zM456 538h4v4h-4zM480 538h4v4h-4zM524 538h4v4h-4zM344 542h4v4h-4zM368 542h4v4h-4zM480 542h4v4h-4zM344 546h4v4h-4zM480 546h4v4h-4zM520 546h4v4h-4zM344 550h4v4h-4zM368 550h4v4h-4zM456 550h4v4h-4zM480 550h4v4h-4zM516 550h4v4h-4zM244 554h12v4h-12zM344 554h4v4h-4zM364 554h4v4h-4zM456 554h4v4h-4zM480 554h4v4h-4zM500 554h4v4h-4zM256 558h4v4h-4zM344 558h4v4h-4zM480 558h4v4h-4zM496 558h4v4h-4zM240 562h4v4h-4zM260 562h4v4h-4zM412 562h4v4h-4zM480 562h4v4h-4z"/><path fill="#0088ff" d="M356 114h4v4h-4zM284 118h4v4h-4zM360 118h4v4h-4zM192 122h12v4h-12zM276 122h4v4h-4zM212 126h4v4h-4zM236 126h20v4h-20zM384 130h4v4h-4zM388 134h4v4h-4zM348 138h8v4h-8zM392 138h4v4h-4zM396 142h4v4h-4zM360 146h4v4h-4zM396 146h4v4h-4zM368 150h4v4h-4zM396 150h4v4h-4zM348 154h4v4h-4zM396 154h4v4h-4zM368 162h20v4h-20zM236 166h4v4h-4zM372 166h4v4h-4zM232 170h12v4h-12zM320 170h8v4h-8zM372 170h4v4h-4zM232 174h4v4h-4zM248 174h4v4h-4zM320 174h8v4h-8zM252 178h4v4h-4zM228 186h4v4h-4zM228 190h4v4h-4zM256 190h4v4h-4zM228 194h4v4h-4zM652 194h12v4h-12zM232 210h4v4h-4zM232 214h4v4h-4zM260 214h4v4h-4zM604 214h4v4h-4zM232 218h4v4h-4zM260 218h4v4h-4zM360 218h4v4h-4zM236 222h4v4h-4zM588 222h4v4h-4zM240 226h4v4h-4zM356 226h4v4h-4zM332 230h20v4h-20zM576 230h4v4h-4zM324 234h4v4h-4zM568 234h4v4h-4zM320 238h4v4h-4zM448 238h8v4h-8zM444 242h4v4h-4zM452 242h4v4h-4zM548 242h4v4h-4zM316 246h4v4h-4zM440 246h4v4h-4zM432 250h4v4h-4zM236 254h8v4h-8zM516 254h4v4h-4zM588 254h4v4h-4zM312 258h4v4h-4zM428 258h4v4h-4zM516 258h8v4h-8zM584 258h4v4h-4zM308 262h4v4h-4zM452 262h4v4h-4zM532 262h4v4h-4zM584 262h4v4h-4zM224 266h4v4h-4zM300 266h4v4h-4zM436 266h8v4h-8zM528 266h4v4h-4zM216 270h4v4h-4zM296 270h4v4h-4zM124 274h4v4h-4zM228 274h4v4h-4zM292 274h4v4h-4zM580 274h4v4h-4zM588 274h4v4h-4zM128 278h4v4h-4zM212 278h4v4h-4zM228 278h4v4h-4zM292 278h4v4h-4zM520 278h4v4h-4zM580 278h8v4h-8zM132 282h4v4h-4zM208 282h4v4h-4zM228 282h4v4h-4zM292 282h4v4h-4zM448 282h4v4h-4zM464 282h4v4h-4zM516 282h4v4h-4zM136 286h8v4h-8zM204 286h4v4h-4zM292 286h4v4h-4zM140 290h8v4h-8zM292 290h4v4h-4zM440 290h4v4h-4zM568 290h4v4h-4zM288 294h4v4h-4zM472 294h4v4h-4zM492 294h4v4h-4zM500 294h4v4h-4zM200 298h4v4h-4zM284 298h4v4h-4zM436 298h4v4h-4zM564 298h4v4h-4zM200 302h4v4h-4zM280 302h4v4h-4zM432 302h4v4h-4zM200 306h4v4h-4zM560 306h4v4h-4zM156 310h4v4h-4zM276 310h4v4h-4zM144 314h8v4h-8zM192 314h8v4h-8zM272 314h4v4h-4zM384 314h12v4h-12zM416 314h4v4h-4zM176 318h4v4h-4zM216 318h4v4h-4zM268 318h4v4h-4zM380 318h4v4h-4zM404 318h4v4h-4zM208 322h4v4h-4zM264 322h4v4h-4zM376 326h4v4h-4zM208 330h4v4h-4zM260 330h4v4h-4zM632 330h4v4h-4zM644 330h4v4h-4zM208 334h4v4h-4zM372 334h4v4h-4zM384 334h4v4h-4zM420 334h4v4h-4zM632 334h4v4h-4zM644 334h8v4h-8zM176 338h4v4h-4zM208 338h4v4h-4zM384 338h4v4h-4zM396 338h4v4h-4zM436 338h4v4h-4zM632 338h24v4h-24zM180 342h4v4h-4zM256 342h4v4h-4zM368 342h4v4h-4zM384 342h4v4h-4zM396 342h4v4h-4zM644 342h8v4h-8zM664 342h4v4h-4zM188 346h4v4h-4zM200 346h4v4h-4zM432 346h4v4h-4zM628 346h4v4h-4zM672 346h4v4h-4zM252 350h4v4h-4zM364 350h4v4h-4zM620 350h4v4h-4zM364 354h4v4h-4zM568 354h4v4h-4zM556 358h8v4h-8zM248 362h4v4h-4zM364 362h4v4h-4zM540 366h4v4h-4zM248 374h4v4h-4zM332 374h8v4h-8zM248 378h4v4h-4zM328 378h4v4h-4zM340 378h4v4h-4zM364 378h4v4h-4zM292 382h8v4h-8zM536 382h4v4h-4zM288 386h4v4h-4zM236 390h4v4h-4zM264 390h4v4h-4zM576 390h16v4h-16zM632 390h4v4h-4zM264 394h4v4h-4zM572 394h20v4h-20zM628 394h12v4h-12zM232 398h4v4h-4zM284 398h4v4h-4zM524 398h4v4h-4zM628 398h12v4h-12zM228 402h4v4h-4zM284 402h4v4h-4zM504 402h4v4h-4zM628 402h4v4h-4zM636 402h8v4h-8zM224 406h4v4h-4zM284 406h4v4h-4zM484 406h4v4h-4zM560 406h8v4h-8zM632 406h4v4h-4zM640 406h8v4h-8zM220 410h4v4h-4zM472 410h4v4h-4zM560 410h4v4h-4zM632 410h16v4h-16zM292 414h4v4h-4zM468 414h4v4h-4zM200 418h4v4h-4zM464 418h4v4h-4zM316 426h4v4h-4zM464 430h4v4h-4zM320 434h4v4h-4zM468 434h4v4h-4zM324 438h4v4h-4zM472 438h4v4h-4zM484 438h4v4h-4zM524 438h8v4h-8zM328 442h4v4h-4zM476 442h8v4h-8zM532 442h4v4h-4zM332 446h4v4h-4zM540 446h4v4h-4zM216 450h4v4h-4zM236 450h4v4h-4zM552 450h4v4h-4zM244 454h4v4h-4zM340 454h4v4h-4zM208 458h4v4h-4zM248 458h4v4h-4zM672 458h4v4h-4zM204 462h4v4h-4zM252 462h4v4h-4zM188 466h4v4h-4zM348 466h4v4h-4zM184 470h8v4h-8zM256 470h4v4h-4zM352 470h4v4h-4zM180 474h8v4h-8zM236 474h4v4h-4zM256 474h4v4h-4zM580 474h4v4h-4zM644 474h8v4h-8zM180 478h4v4h-4zM236 478h4v4h-4zM356 478h4v4h-4zM644 478h8v4h-8zM176 482h8v4h-8zM260 482h4v4h-4zM360 482h4v4h-4zM516 482h8v4h-8zM168 486h12v4h-12zM264 486h4v4h-4zM348 486h8v4h-8zM368 486h4v4h-4zM480 486h4v4h-4zM592 486h4v4h-4zM156 490h4v4h-4zM272 490h4v4h-4zM144 494h8v4h-8zM172 494h4v4h-4zM280 494h4v4h-4zM340 494h4v4h-4zM356 494h4v4h-4zM540 494h4v4h-4zM604 494h4v4h-4zM148 498h8v4h-8zM168 498h4v4h-4zM288 498h4v4h-4zM336 498h4v4h-4zM612 498h4v4h-4zM144 502h4v4h-4zM312 502h4v4h-4zM544 502h4v4h-4zM620 502h4v4h-4zM376 506h4v4h-4zM544 506h4v4h-4zM624 506h4v4h-4zM304 510h8v4h-8zM376 510h4v4h-4zM548 510h4v4h-4zM632 510h20v4h-20zM648 514h4v4h-4zM140 518h4v4h-4zM248 518h8v4h-8zM404 518h16v4h-16zM424 518h12v4h-12zM460 518h4v4h-4zM544 518h4v4h-4zM656 518h4v4h-4zM672 518h4v4h-4zM244 522h4v4h-4zM256 522h4v4h-4zM540 522h4v4h-4zM244 526h4v4h-4zM392 526h4v4h-4zM440 526h4v4h-4zM536 526h4v4h-4zM132 530h4v4h-4zM244 530h4v4h-4zM328 530h4v4h-4zM392 530h4v4h-4zM528 530h4v4h-4zM336 534h8v4h-8zM392 534h4v4h-4zM524 534h4v4h-4zM452 538h4v4h-4zM348 542h16v4h-16zM520 542h4v4h-4zM348 546h4v4h-4zM360 546h8v4h-8zM516 546h4v4h-4zM348 550h4v4h-4zM360 550h4v4h-4zM484 550h4v4h-4zM504 550h4v4h-4zM348 554h12v4h-12zM404 554h4v4h-4zM484 554h4v4h-4zM496 554h4v4h-4zM348 558h8v4h-8zM412 558h8v4h-8zM488 558h8v4h-8zM248 562h8v4h-8zM348 562h8v4h-8zM420 562h4v4h-4zM488 562h4v4h-4z"/><path fill="#0ce4f3" d="M296 118h4v4h-4zM348 122h4v4h-4zM292 126h4v4h-4zM288 130h4v4h-4zM344 130h4v4h-4zM124 138h48v4h-48zM224 138h4v4h-4zM368 138h8v4h-8zM144 142h68v4h-68zM228 142h4v4h-4zM140 146h72v4h-72zM240 146h8v4h-8zM340 146h4v4h-4zM124 150h52v4h-52zM256 150h4v4h-4zM124 154h44v4h-44zM260 154h4v4h-4zM124 158h48v4h-48zM264 158h4v4h-4zM336 158h4v4h-4zM124 162h48v4h-48zM264 162h16v4h-16zM124 166h52v4h-52zM264 166h28v4h-28zM344 166h12v4h-12zM124 170h52v4h-52zM268 170h4v4h-4zM360 170h4v4h-4zM124 174h56v4h-56zM308 174h4v4h-4zM124 178h16v4h-16zM148 178h36v4h-36zM360 178h4v4h-4zM124 182h12v4h-12zM156 182h28v4h-28zM344 182h4v4h-4zM352 182h4v4h-4zM124 186h12v4h-12zM160 186h28v4h-28zM124 190h12v4h-12zM164 190h24v4h-24zM276 190h8v4h-8zM288 190h8v4h-8zM316 190h4v4h-4zM328 190h12v4h-12zM124 194h12v4h-12zM168 194h24v4h-24zM340 194h4v4h-4zM124 198h12v4h-12zM172 198h20v4h-20zM344 198h4v4h-4zM128 202h12v4h-12zM172 202h20v4h-20zM268 202h4v4h-4zM344 202h4v4h-4zM640 202h4v4h-4zM668 202h4v4h-4zM128 206h12v4h-12zM176 206h20v4h-20zM268 206h4v4h-4zM344 206h4v4h-4zM632 206h4v4h-4zM656 206h4v4h-4zM664 206h4v4h-4zM132 210h8v4h-8zM180 210h24v4h-24zM268 210h4v4h-4zM340 210h12v4h-12zM660 210h8v4h-8zM132 214h8v4h-8zM184 214h20v4h-20zM268 214h4v4h-4zM332 214h4v4h-4zM340 214h12v4h-12zM656 214h4v4h-4zM132 218h12v4h-12zM184 218h20v4h-20zM268 218h4v4h-4zM324 218h4v4h-4zM344 218h8v4h-8zM656 218h4v4h-4zM136 222h8v4h-8zM188 222h16v4h-16zM268 222h4v4h-4zM604 222h4v4h-4zM656 222h4v4h-4zM136 226h8v4h-8zM192 226h12v4h-12zM660 226h4v4h-4zM140 230h8v4h-8zM192 230h12v4h-12zM660 230h4v4h-4zM140 234h8v4h-8zM196 234h8v4h-8zM260 234h4v4h-4zM308 234h4v4h-4zM592 234h4v4h-4zM144 238h8v4h-8zM200 238h4v4h-4zM252 238h4v4h-4zM304 238h4v4h-4zM664 238h4v4h-4zM144 242h8v4h-8zM204 242h4v4h-4zM252 242h4v4h-4zM572 242h4v4h-4zM580 242h4v4h-4zM148 246h4v4h-4zM212 246h4v4h-4zM300 246h4v4h-4zM556 246h4v4h-4zM148 250h8v4h-8zM216 250h4v4h-4zM152 254h4v4h-4zM220 254h4v4h-4zM276 254h4v4h-4zM288 254h8v4h-8zM152 258h8v4h-8zM216 258h4v4h-4zM156 262h4v4h-4zM212 262h4v4h-4zM576 262h4v4h-4zM156 266h4v4h-4zM160 270h4v4h-4zM160 274h4v4h-4zM204 274h4v4h-4zM236 274h4v4h-4zM532 274h4v4h-4zM164 278h4v4h-4zM236 278h4v4h-4zM272 278h4v4h-4zM164 282h4v4h-4zM236 282h4v4h-4zM168 286h16v4h-16zM236 286h4v4h-4zM592 286h4v4h-4zM188 290h4v4h-4zM236 290h4v4h-4zM236 294h4v4h-4zM180 298h4v4h-4zM236 298h4v4h-4zM260 298h4v4h-4zM176 302h8v4h-8zM236 302h4v4h-4zM496 302h4v4h-4zM552 302h4v4h-4zM592 302h12v4h-12zM236 306h4v4h-4zM480 306h4v4h-4zM592 306h4v4h-4zM604 306h4v4h-4zM476 310h4v4h-4zM548 314h4v4h-4zM252 318h4v4h-4zM612 318h4v4h-4zM240 322h12v4h-12zM420 322h4v4h-4zM460 322h4v4h-4zM616 322h8v4h-8zM652 322h4v4h-4zM124 326h40v4h-40zM544 326h4v4h-4zM560 326h4v4h-4zM124 330h8v4h-8zM160 330h4v4h-4zM464 330h4v4h-4zM544 330h4v4h-4zM556 330h4v4h-4zM588 330h4v4h-4zM124 334h8v4h-8zM160 334h4v4h-4zM544 334h4v4h-4zM552 334h4v4h-4zM584 334h12v4h-12zM616 334h4v4h-4zM668 334h4v4h-4zM124 338h8v4h-8zM160 338h4v4h-4zM228 338h4v4h-4zM544 338h4v4h-4zM576 338h8v4h-8zM588 338h8v4h-8zM616 338h4v4h-4zM124 342h8v4h-8zM164 342h4v4h-4zM224 342h8v4h-8zM540 342h4v4h-4zM552 342h4v4h-4zM568 342h4v4h-4zM612 342h4v4h-4zM124 346h12v4h-12zM168 346h4v4h-4zM224 346h12v4h-12zM404 346h8v4h-8zM536 346h4v4h-4zM560 346h4v4h-4zM128 350h12v4h-12zM172 350h4v4h-4zM224 350h12v4h-12zM400 350h4v4h-4zM436 350h4v4h-4zM140 354h4v4h-4zM180 354h4v4h-4zM228 354h8v4h-8zM416 354h8v4h-8zM532 354h4v4h-4zM140 358h4v4h-4zM188 358h4v4h-4zM380 358h8v4h-8zM396 358h4v4h-4zM140 362h4v4h-4zM208 362h8v4h-8zM528 362h4v4h-4zM140 366h4v4h-4zM216 366h4v4h-4zM404 366h4v4h-4zM524 366h4v4h-4zM140 370h4v4h-4zM216 370h4v4h-4zM520 370h4v4h-4zM216 374h4v4h-4zM368 378h4v4h-4zM404 378h4v4h-4zM516 378h4v4h-4zM220 382h4v4h-4zM388 382h4v4h-4zM220 386h4v4h-4zM364 386h4v4h-4zM220 390h4v4h-4zM396 390h4v4h-4zM216 394h4v4h-4zM304 394h20v4h-20zM352 394h4v4h-4zM392 394h4v4h-4zM512 394h4v4h-4zM212 398h4v4h-4zM304 398h4v4h-4zM320 398h4v4h-4zM348 398h12v4h-12zM500 398h4v4h-4zM304 402h4v4h-4zM316 402h8v4h-8zM360 402h4v4h-4zM208 406h4v4h-4zM304 406h16v4h-16zM196 410h4v4h-4zM364 410h4v4h-4zM336 414h20v4h-20zM364 414h4v4h-4zM452 414h4v4h-4zM184 418h4v4h-4zM336 418h8v4h-8zM356 418h4v4h-4zM180 422h4v4h-4zM336 422h4v4h-4zM368 422h4v4h-4zM392 422h20v4h-20zM420 422h4v4h-4zM444 422h8v4h-8zM360 426h4v4h-4zM360 430h4v4h-4zM360 434h4v4h-4zM340 438h4v4h-4zM360 438h4v4h-4zM168 442h4v4h-4zM360 442h4v4h-4zM456 442h4v4h-4zM344 446h4v4h-4zM360 446h4v4h-4zM372 446h24v4h-24zM416 446h8v4h-8zM440 446h4v4h-4zM464 446h4v4h-4zM348 450h12v4h-12zM368 450h4v4h-4zM396 450h4v4h-4zM412 450h4v4h-4zM516 450h8v4h-8zM364 454h4v4h-4zM400 454h4v4h-4zM412 454h4v4h-4zM524 454h4v4h-4zM364 458h4v4h-4zM400 458h4v4h-4zM412 458h4v4h-4zM472 458h4v4h-4zM508 458h4v4h-4zM528 458h4v4h-4zM220 462h4v4h-4zM368 462h4v4h-4zM400 462h4v4h-4zM412 462h4v4h-4zM476 462h4v4h-4zM508 462h4v4h-4zM532 462h4v4h-4zM540 462h12v4h-12zM220 466h4v4h-4zM372 466h8v4h-8zM400 466h4v4h-4zM412 466h4v4h-4zM476 466h36v4h-36zM528 466h24v4h-24zM172 470h4v4h-4zM212 470h12v4h-12zM416 470h4v4h-4zM476 470h36v4h-36zM528 470h24v4h-24zM384 474h4v4h-4zM420 474h8v4h-8zM476 474h4v4h-4zM488 474h20v4h-20zM532 474h12v4h-12zM428 478h4v4h-4zM472 478h4v4h-4zM160 482h4v4h-4zM196 482h4v4h-4zM400 482h4v4h-4zM192 486h4v4h-4zM388 486h4v4h-4zM400 486h4v4h-4zM432 486h4v4h-4zM564 486h4v4h-4zM392 490h12v4h-12zM564 490h8v4h-8zM436 494h4v4h-4zM220 498h8v4h-8zM232 498h8v4h-8zM440 498h4v4h-4zM452 498h4v4h-4zM176 502h4v4h-4zM228 502h8v4h-8zM444 502h8v4h-8zM168 506h4v4h-4zM232 506h4v4h-4zM268 506h4v4h-4zM284 506h4v4h-4zM392 506h4v4h-4zM444 506h8v4h-8zM152 510h4v4h-4zM232 510h4v4h-4zM324 510h4v4h-4zM356 510h4v4h-4zM232 514h4v4h-4zM268 514h4v4h-4zM292 514h4v4h-4zM356 514h8v4h-8zM596 514h4v4h-4zM296 518h4v4h-4zM356 518h12v4h-12zM148 522h4v4h-4zM208 522h4v4h-4zM276 522h4v4h-4zM360 522h8v4h-8zM204 526h4v4h-4zM212 526h4v4h-4zM280 526h4v4h-4zM204 530h4v4h-4zM212 530h4v4h-4zM232 530h4v4h-4zM308 530h4v4h-4zM556 530h4v4h-4zM632 530h4v4h-4zM204 534h4v4h-4zM228 534h4v4h-4zM544 534h4v4h-4zM636 534h4v4h-4zM204 538h4v4h-4zM216 538h12v4h-12zM284 538h4v4h-4zM204 542h4v4h-4zM284 542h4v4h-4zM640 542h4v4h-4zM204 546h4v4h-4zM280 546h4v4h-4zM528 546h4v4h-4zM648 546h12v4h-12zM204 550h4v4h-4zM276 550h4v4h-4zM128 554h4v4h-4zM204 554h4v4h-4zM272 554h4v4h-4zM384 554h12v4h-12zM524 554h4v4h-4zM664 554h4v4h-4zM128 558h4v4h-4zM204 558h4v4h-4zM272 558h4v4h-4zM380 558h4v4h-4zM396 558h4v4h-4zM664 558h4v4h-4zM128 562h4v4h-4zM200 562h4v4h-4zM272 562h4v4h-4zM380 562h4v4h-4zM508 562h4v4h-4zM520 562h4v4h-4zM668 562h4v4h-4z"/><path fill="#40f0c0" d="M300 118h4v4h-4zM344 122h4v4h-4zM300 130h4v4h-4zM340 134h4v4h-4zM240 138h4v4h-4zM308 138h4v4h-4zM264 142h44v4h-44zM280 146h12v4h-12zM284 150h8v4h-8zM336 150h4v4h-4zM288 154h4v4h-4zM332 154h4v4h-4zM292 158h4v4h-4zM296 162h4v4h-4zM300 166h4v4h-4zM304 170h4v4h-4zM284 194h4v4h-4zM316 194h12v4h-12zM332 202h4v4h-4zM332 206h4v4h-4zM644 206h4v4h-4zM328 210h4v4h-4zM636 210h4v4h-4zM644 210h8v4h-8zM324 214h4v4h-4zM624 214h4v4h-4zM644 214h4v4h-4zM316 218h4v4h-4zM644 218h4v4h-4zM608 222h4v4h-4zM644 222h4v4h-4zM308 226h4v4h-4zM604 226h4v4h-4zM648 226h4v4h-4zM304 230h4v4h-4zM652 230h4v4h-4zM596 234h4v4h-4zM656 234h4v4h-4zM268 238h4v4h-4zM264 242h4v4h-4zM296 242h4v4h-4zM660 242h4v4h-4zM260 246h4v4h-4zM276 246h16v4h-16zM664 246h4v4h-4zM260 250h4v4h-4zM272 250h4v4h-4zM188 258h16v4h-16zM184 262h4v4h-4zM200 262h4v4h-4zM572 262h4v4h-4zM596 262h4v4h-4zM180 266h4v4h-4zM248 266h4v4h-4zM180 270h4v4h-4zM200 270h4v4h-4zM568 270h4v4h-4zM240 274h4v4h-4zM184 278h4v4h-4zM196 278h4v4h-4zM268 278h4v4h-4zM564 278h4v4h-4zM264 282h4v4h-4zM600 290h4v4h-4zM520 294h4v4h-4zM240 298h4v4h-4zM516 298h4v4h-4zM240 302h4v4h-4zM256 302h4v4h-4zM508 302h4v4h-4zM548 302h4v4h-4zM496 306h4v4h-4zM244 310h4v4h-4zM252 310h4v4h-4zM544 310h4v4h-4zM456 318h4v4h-4zM620 318h4v4h-4zM660 322h4v4h-4zM424 326h4v4h-4zM540 326h4v4h-4zM668 330h4v4h-4zM468 334h4v4h-4zM536 334h4v4h-4zM464 338h4v4h-4zM532 338h4v4h-4zM528 342h4v4h-4zM456 346h4v4h-4zM524 346h4v4h-4zM160 350h4v4h-4zM524 350h4v4h-4zM156 354h4v4h-4zM524 354h4v4h-4zM152 358h4v4h-4zM176 358h4v4h-4zM420 358h4v4h-4zM524 358h4v4h-4zM152 362h4v4h-4zM412 362h4v4h-4zM520 362h4v4h-4zM148 366h4v4h-4zM192 366h4v4h-4zM516 366h4v4h-4zM196 370h8v4h-8zM204 374h4v4h-4zM512 374h4v4h-4zM204 378h4v4h-4zM408 378h4v4h-4zM512 378h4v4h-4zM144 382h4v4h-4zM368 382h4v4h-4zM512 382h4v4h-4zM512 386h4v4h-4zM364 390h4v4h-4zM204 394h4v4h-4zM504 394h4v4h-4zM204 398h4v4h-4zM364 398h4v4h-4zM492 398h4v4h-4zM200 402h4v4h-4zM368 414h4v4h-4zM396 414h12v4h-12zM436 414h12v4h-12zM180 418h4v4h-4zM388 418h4v4h-4zM176 422h4v4h-4zM172 430h4v4h-4zM348 434h4v4h-4zM348 438h4v4h-4zM460 450h4v4h-4zM424 454h4v4h-4zM464 454h4v4h-4zM468 462h4v4h-4zM424 466h4v4h-4zM468 466h4v4h-4zM428 470h4v4h-4zM468 470h4v4h-4zM208 478h4v4h-4zM436 478h4v4h-4zM212 482h4v4h-4zM464 482h4v4h-4zM200 486h4v4h-4zM212 486h4v4h-4zM460 486h4v4h-4zM444 490h4v4h-4zM192 498h4v4h-4zM212 498h4v4h-4zM212 502h4v4h-4zM176 506h4v4h-4zM208 506h4v4h-4zM168 510h4v4h-4zM204 510h4v4h-4zM160 514h4v4h-4zM200 514h4v4h-4zM156 518h4v4h-4zM200 518h4v4h-4zM152 526h4v4h-4zM556 534h4v4h-4zM612 534h8v4h-8zM296 538h24v4h-24zM544 538h4v4h-4zM628 538h4v4h-4zM140 542h4v4h-4zM296 542h4v4h-4zM324 542h4v4h-4zM536 542h4v4h-4zM328 546h4v4h-4zM532 546h4v4h-4zM640 546h4v4h-4zM136 550h4v4h-4zM196 550h4v4h-4zM292 550h4v4h-4zM136 554h4v4h-4zM288 554h4v4h-4zM656 554h4v4h-4zM192 558h4v4h-4zM284 558h4v4h-4zM280 562h4v4h-4z"/><path fill="#82f280" d="M304 118h4v4h-4zM340 118h4v4h-4zM308 130h4v4h-4zM308 146h4v4h-4zM332 146h4v4h-4zM300 150h4v4h-4zM324 150h4v4h-4zM316 154h4v4h-4zM300 158h4v4h-4zM312 158h4v4h-4zM304 162h8v4h-8zM304 198h20v4h-20zM316 214h4v4h-4zM308 218h4v4h-4zM636 218h4v4h-4zM304 222h4v4h-4zM612 222h4v4h-4zM608 226h4v4h-4zM640 226h4v4h-4zM604 230h4v4h-4zM276 234h4v4h-4zM296 234h4v4h-4zM600 234h4v4h-4zM648 234h4v4h-4zM280 238h12v4h-12zM656 246h4v4h-4zM560 250h8v4h-8zM660 250h4v4h-4zM664 254h4v4h-4zM264 258h4v4h-4zM260 262h4v4h-4zM248 270h4v4h-4zM244 274h4v4h-4zM264 278h4v4h-4zM560 278h4v4h-4zM600 278h4v4h-4zM260 282h4v4h-4zM528 290h4v4h-4zM604 290h4v4h-4zM548 294h4v4h-4zM608 298h4v4h-4zM252 302h4v4h-4zM516 302h4v4h-4zM508 306h4v4h-4zM500 310h8v4h-8zM488 314h4v4h-4zM500 314h8v4h-8zM500 318h4v4h-4zM508 318h4v4h-4zM660 318h4v4h-4zM484 322h4v4h-4zM664 322h4v4h-4zM504 326h8v4h-8zM536 326h4v4h-4zM480 330h4v4h-4zM532 330h4v4h-4zM520 334h4v4h-4zM516 338h4v4h-4zM516 342h4v4h-4zM516 346h4v4h-4zM464 350h4v4h-4zM516 358h4v4h-4zM160 362h4v4h-4zM172 362h4v4h-4zM156 366h4v4h-4zM512 366h4v4h-4zM188 370h4v4h-4zM152 374h4v4h-4zM372 374h4v4h-4zM508 374h4v4h-4zM508 378h4v4h-4zM196 382h4v4h-4zM508 382h4v4h-4zM148 386h4v4h-4zM368 386h4v4h-4zM504 390h4v4h-4zM484 398h4v4h-4zM192 402h4v4h-4zM388 402h4v4h-4zM188 406h4v4h-4zM368 406h4v4h-4zM404 406h4v4h-4zM452 406h4v4h-4zM412 410h4v4h-4zM440 410h4v4h-4zM176 418h4v4h-4zM144 430h4v4h-4zM168 430h4v4h-4zM128 434h4v4h-4zM164 434h4v4h-4zM160 442h4v4h-4zM436 454h4v4h-4zM456 454h4v4h-4zM428 458h4v4h-4zM460 458h4v4h-4zM428 462h4v4h-4zM436 470h4v4h-4zM460 478h4v4h-4zM124 482h4v4h-4zM148 482h4v4h-4zM448 486h8v4h-8zM176 514h4v4h-4zM188 514h4v4h-4zM168 518h4v4h-4zM188 518h4v4h-4zM156 530h4v4h-4zM192 534h4v4h-4zM192 538h4v4h-4zM556 538h4v4h-4zM612 538h4v4h-4zM192 542h4v4h-4zM544 542h4v4h-4zM624 542h4v4h-4zM144 546h4v4h-4zM308 546h8v4h-8zM320 546h4v4h-4zM144 550h4v4h-4zM304 550h4v4h-4zM144 554h4v4h-4zM300 554h4v4h-4zM324 554h4v4h-4zM532 554h4v4h-4zM144 558h4v4h-4zM296 558h4v4h-4zM324 558h4v4h-4zM184 562h4v4h-4zM296 562h4v4h-4z"/><path fill="#a6f660" d="M308 118h8v4h-8zM324 118h4v4h-4zM304 122h4v4h-4zM340 122h4v4h-4zM340 126h4v4h-4zM316 134h4v4h-4zM320 142h4v4h-4zM332 142h4v4h-4zM316 146h12v4h-12zM304 150h16v4h-16zM312 154h4v4h-4zM304 158h8v4h-8zM280 202h12v4h-12zM296 202h4v4h-4zM320 202h4v4h-4zM276 206h4v4h-4zM276 214h4v4h-4zM312 214h4v4h-4zM276 218h4v4h-4zM304 218h4v4h-4zM276 222h4v4h-4zM636 226h4v4h-4zM296 230h4v4h-4zM284 234h8v4h-8zM644 234h4v4h-4zM648 238h4v4h-4zM652 246h4v4h-4zM656 250h4v4h-4zM552 254h4v4h-4zM568 254h4v4h-4zM660 254h4v4h-4zM568 258h4v4h-4zM664 258h4v4h-4zM544 262h4v4h-4zM264 266h4v4h-4zM668 266h4v4h-4zM252 270h4v4h-4zM540 270h4v4h-4zM672 270h4v4h-4zM264 274h4v4h-4zM244 278h4v4h-4zM260 278h4v4h-4zM256 286h4v4h-4zM552 286h4v4h-4zM604 286h4v4h-4zM548 290h4v4h-4zM244 294h4v4h-4zM544 294h4v4h-4zM252 298h4v4h-4zM524 298h4v4h-4zM520 302h4v4h-4zM516 306h4v4h-4zM540 306h4v4h-4zM512 310h4v4h-4zM616 310h4v4h-4zM440 314h8v4h-8zM492 314h4v4h-4zM512 314h4v4h-4zM452 318h4v4h-4zM536 318h4v4h-4zM428 326h4v4h-4zM484 326h4v4h-4zM500 326h4v4h-4zM516 326h4v4h-4zM532 326h4v4h-4zM436 330h4v4h-4zM504 330h4v4h-4zM516 330h4v4h-4zM476 334h4v4h-4zM512 334h4v4h-4zM468 346h4v4h-4zM468 350h4v4h-4zM456 354h4v4h-4zM468 354h8v4h-8zM468 358h8v4h-8zM160 366h4v4h-4zM176 366h4v4h-4zM420 366h4v4h-4zM184 370h4v4h-4zM380 370h4v4h-4zM156 374h4v4h-4zM188 374h4v4h-4zM152 382h4v4h-4zM192 382h4v4h-4zM504 382h4v4h-4zM384 386h4v4h-4zM504 386h4v4h-4zM404 390h4v4h-4zM500 390h4v4h-4zM148 394h4v4h-4zM404 394h4v4h-4zM192 398h4v4h-4zM404 398h4v4h-4zM480 398h4v4h-4zM464 402h4v4h-4zM412 406h4v4h-4zM448 406h4v4h-4zM420 410h12v4h-12zM384 414h4v4h-4zM148 418h4v4h-4zM172 422h4v4h-4zM148 426h4v4h-4zM440 454h4v4h-4zM452 454h4v4h-4zM432 458h4v4h-4zM456 458h4v4h-4zM432 462h4v4h-4zM440 474h4v4h-4zM132 482h4v4h-4zM140 482h4v4h-4zM444 482h4v4h-4zM168 522h16v4h-16zM164 526h4v4h-4zM184 526h4v4h-4zM160 530h4v4h-4zM184 530h4v4h-4zM156 534h4v4h-4zM188 534h4v4h-4zM188 538h4v4h-4zM564 538h40v4h-40zM188 542h4v4h-4zM548 542h4v4h-4zM616 542h4v4h-4zM148 546h4v4h-4zM188 546h4v4h-4zM628 546h4v4h-4zM312 550h8v4h-8zM640 550h4v4h-4zM148 554h4v4h-4zM184 554h4v4h-4zM308 554h4v4h-4zM320 554h4v4h-4zM648 554h4v4h-4zM148 558h4v4h-4zM304 558h4v4h-4zM532 558h4v4h-4zM652 558h4v4h-4zM148 562h4v4h-4zM180 562h4v4h-4zM300 562h4v4h-4z"/><path fill="#94f470" d="M316 118h8v4h-8zM304 126h4v4h-4zM312 130h4v4h-4zM316 138h4v4h-4zM336 138h4v4h-4zM316 142h4v4h-4zM312 146h4v4h-4zM328 146h4v4h-4zM320 150h4v4h-4zM300 154h4v4h-4zM276 202h4v4h-4zM292 202h4v4h-4zM324 202h4v4h-4zM324 206h4v4h-4zM320 210h4v4h-4zM624 218h12v4h-12zM636 222h4v4h-4zM276 226h4v4h-4zM300 226h4v4h-4zM276 230h4v4h-4zM640 230h4v4h-4zM280 234h4v4h-4zM292 234h4v4h-4zM652 242h4v4h-4zM264 262h4v4h-4zM568 262h4v4h-4zM668 262h4v4h-4zM256 266h4v4h-4zM672 266h4v4h-4zM564 270h4v4h-4zM600 274h4v4h-4zM536 282h4v4h-4zM556 282h4v4h-4zM532 286h4v4h-4zM256 290h4v4h-4zM244 298h4v4h-4zM544 298h4v4h-4zM248 302h4v4h-4zM512 306h4v4h-4zM612 306h4v4h-4zM508 310h4v4h-4zM540 310h4v4h-4zM436 314h4v4h-4zM448 314h4v4h-4zM496 314h4v4h-4zM508 314h4v4h-4zM620 314h4v4h-4zM428 318h4v4h-4zM512 318h4v4h-4zM500 322h4v4h-4zM512 322h4v4h-4zM536 322h4v4h-4zM512 326h4v4h-4zM668 326h4v4h-4zM452 330h4v4h-4zM508 330h8v4h-8zM520 330h12v4h-12zM516 334h4v4h-4zM468 342h4v4h-4zM516 350h4v4h-4zM440 354h4v4h-4zM460 354h8v4h-8zM516 354h4v4h-4zM428 358h4v4h-4zM164 362h8v4h-8zM424 362h4v4h-4zM512 362h4v4h-4zM180 366h4v4h-4zM156 370h4v4h-4zM416 370h4v4h-4zM508 370h4v4h-4zM152 378h4v4h-4zM192 378h4v4h-4zM412 378h4v4h-4zM384 382h4v4h-4zM196 386h4v4h-4zM148 390h4v4h-4zM196 390h4v4h-4zM196 394h4v4h-4zM496 394h4v4h-4zM368 402h4v4h-4zM404 402h4v4h-4zM388 406h4v4h-4zM408 406h4v4h-4zM184 410h4v4h-4zM388 410h4v4h-4zM416 410h4v4h-4zM432 410h8v4h-8zM180 414h4v4h-4zM372 414h4v4h-4zM148 422h4v4h-4zM124 434h4v4h-4zM140 434h4v4h-4zM160 438h4v4h-4zM160 446h4v4h-4zM164 450h4v4h-4zM168 454h4v4h-4zM460 462h4v4h-4zM168 466h4v4h-4zM432 466h4v4h-4zM460 466h4v4h-4zM164 470h4v4h-4zM460 470h4v4h-4zM160 474h4v4h-4zM460 474h4v4h-4zM156 478h4v4h-4zM440 478h4v4h-4zM128 482h4v4h-4zM144 482h4v4h-4zM456 482h4v4h-4zM180 514h8v4h-8zM172 518h16v4h-16zM164 522h4v4h-4zM184 522h8v4h-8zM160 526h4v4h-4zM188 526h4v4h-4zM188 530h4v4h-4zM152 538h4v4h-4zM560 538h4v4h-4zM604 538h8v4h-8zM148 542h4v4h-4zM620 542h4v4h-4zM316 546h4v4h-4zM540 546h4v4h-4zM632 546h4v4h-4zM188 550h4v4h-4zM308 550h4v4h-4zM320 550h4v4h-4zM536 550h4v4h-4zM304 554h4v4h-4zM184 558h4v4h-4zM300 558h4v4h-4zM324 562h4v4h-4z"/><path fill="#cafa3c" d="M328 118h4v4h-4zM336 118h4v4h-4zM308 122h4v4h-4zM316 122h8v4h-8zM312 126h4v4h-4zM320 134h4v4h-4zM324 138h12v4h-12zM300 202h4v4h-4zM316 202h4v4h-4zM280 206h16v4h-16zM300 218h4v4h-4zM280 222h4v4h-4zM620 222h4v4h-4zM628 222h4v4h-4zM280 226h4v4h-4zM296 226h4v4h-4zM632 226h4v4h-4zM284 230h12v4h-12zM604 234h4v4h-4zM636 234h4v4h-4zM640 238h4v4h-4zM648 246h4v4h-4zM656 254h4v4h-4zM660 258h4v4h-4zM564 266h4v4h-4zM600 266h4v4h-4zM664 266h4v4h-4zM256 270h8v4h-8zM260 274h4v4h-4zM540 274h4v4h-4zM672 274h4v4h-4zM556 278h4v4h-4zM256 282h4v4h-4zM548 286h4v4h-4zM536 290h12v4h-12zM252 294h4v4h-4zM540 294h4v4h-4zM248 298h4v4h-4zM524 302h4v4h-4zM520 310h4v4h-4zM520 314h4v4h-4zM536 314h4v4h-4zM624 314h4v4h-4zM492 318h4v4h-4zM520 318h4v4h-4zM428 322h4v4h-4zM496 322h4v4h-4zM524 322h12v4h-12zM672 326h4v4h-4zM440 330h4v4h-4zM448 330h4v4h-4zM484 330h4v4h-4zM500 330h4v4h-4zM480 334h4v4h-4zM504 334h4v4h-4zM472 350h4v4h-4zM448 354h4v4h-4zM476 354h4v4h-4zM460 358h4v4h-4zM428 362h4v4h-4zM468 362h4v4h-4zM508 362h4v4h-4zM168 366h4v4h-4zM476 366h4v4h-4zM180 370h4v4h-4zM504 370h4v4h-4zM184 374h4v4h-4zM156 378h4v4h-4zM500 378h4v4h-4zM412 382h4v4h-4zM500 382h4v4h-4zM500 386h4v4h-4zM152 390h4v4h-4zM192 390h4v4h-4zM368 394h4v4h-4zM384 394h4v4h-4zM188 398h4v4h-4zM476 398h4v4h-4zM148 402h4v4h-4zM460 402h4v4h-4zM184 406h4v4h-4zM416 406h4v4h-4zM148 414h4v4h-4zM176 414h4v4h-4zM376 414h8v4h-8zM152 422h4v4h-4zM152 426h4v4h-4zM168 426h4v4h-4zM164 430h4v4h-4zM144 434h4v4h-4zM132 438h4v4h-4zM160 450h4v4h-4zM168 458h4v4h-4zM436 458h4v4h-4zM436 462h4v4h-4zM456 462h4v4h-4zM164 466h4v4h-4zM456 466h4v4h-4zM160 470h4v4h-4zM440 470h4v4h-4zM456 470h4v4h-4zM156 474h4v4h-4zM456 474h4v4h-4zM152 478h4v4h-4zM444 478h4v4h-4zM164 530h4v4h-4zM176 530h8v4h-8zM160 534h4v4h-4zM184 538h4v4h-4zM556 542h4v4h-4zM608 542h4v4h-4zM152 546h4v4h-4zM184 546h4v4h-4zM620 546h4v4h-4zM152 550h4v4h-4zM152 554h4v4h-4zM180 554h4v4h-4zM152 558h4v4h-4zM316 558h4v4h-4zM152 562h4v4h-4zM176 562h4v4h-4zM312 562h8v4h-8zM652 562h4v4h-4z"/><path fill="#dcfc28" d="M332 118h4v4h-4zM312 122h4v4h-4zM316 126h8v4h-8zM320 130h4v4h-4zM336 130h4v4h-4zM324 134h4v4h-4zM332 134h4v4h-4zM304 202h12v4h-12zM296 206h4v4h-4zM316 206h4v4h-4zM280 210h4v4h-4zM288 210h8v4h-8zM312 210h4v4h-4zM280 214h4v4h-4zM304 214h4v4h-4zM280 218h4v4h-4zM296 222h4v4h-4zM624 222h4v4h-4zM284 226h4v4h-4zM632 230h4v4h-4zM636 238h4v4h-4zM600 242h4v4h-4zM644 242h4v4h-4zM644 246h4v4h-4zM648 250h4v4h-4zM556 254h4v4h-4zM564 254h4v4h-4zM652 254h4v4h-4zM656 258h4v4h-4zM660 262h4v4h-4zM544 266h4v4h-4zM660 266h4v4h-4zM560 270h4v4h-4zM664 270h4v4h-4zM252 274h8v4h-8zM668 274h4v4h-4zM248 278h4v4h-4zM256 278h4v4h-4zM540 278h4v4h-4zM604 278h4v4h-4zM672 278h4v4h-4zM540 282h4v4h-4zM552 282h4v4h-4zM540 286h8v4h-8zM608 290h4v4h-4zM532 294h8v4h-8zM528 298h4v4h-4zM536 298h4v4h-4zM536 302h4v4h-4zM524 306h4v4h-4zM536 306h4v4h-4zM536 310h4v4h-4zM656 314h12v4h-12zM524 318h4v4h-4zM532 318h4v4h-4zM668 318h4v4h-4zM452 322h4v4h-4zM488 322h4v4h-4zM452 326h4v4h-4zM496 326h4v4h-4zM444 330h4v4h-4zM500 334h4v4h-4zM508 338h4v4h-4zM472 342h4v4h-4zM472 346h4v4h-4zM476 350h4v4h-4zM436 358h4v4h-4zM456 358h4v4h-4zM480 358h4v4h-4zM508 358h4v4h-4zM464 362h4v4h-4zM480 362h4v4h-4zM424 366h4v4h-4zM472 366h4v4h-4zM480 366h4v4h-4zM504 366h4v4h-4zM164 370h4v4h-4zM176 370h4v4h-4zM420 370h4v4h-4zM476 370h4v4h-4zM160 374h4v4h-4zM380 374h4v4h-4zM500 374h4v4h-4zM156 382h4v4h-4zM188 382h4v4h-4zM408 390h4v4h-4zM496 390h4v4h-4zM152 394h4v4h-4zM488 394h4v4h-4zM384 398h4v4h-4zM408 398h4v4h-4zM412 402h4v4h-4zM148 406h4v4h-4zM420 406h4v4h-4zM436 406h8v4h-8zM148 410h4v4h-4zM180 410h4v4h-4zM372 410h4v4h-4zM384 410h4v4h-4zM172 418h4v4h-4zM152 430h4v4h-4zM160 430h4v4h-4zM156 434h4v4h-4zM128 438h4v4h-4zM140 438h4v4h-4zM156 438h4v4h-4zM164 454h4v4h-4zM440 458h4v4h-4zM452 458h4v4h-4zM124 478h4v4h-4zM452 478h4v4h-4zM168 530h8v4h-8zM164 534h4v4h-4zM176 534h8v4h-8zM160 538h4v4h-4zM156 542h4v4h-4zM184 542h4v4h-4zM560 542h4v4h-4zM604 542h4v4h-4zM156 546h4v4h-4zM548 546h4v4h-4zM616 546h4v4h-4zM180 550h4v4h-4zM636 550h4v4h-4zM540 554h4v4h-4zM644 554h4v4h-4zM156 558h4v4h-4zM176 558h4v4h-4zM536 558h4v4h-4zM156 562h4v4h-4z"/><path fill="#edfd14" d="M324 122h4v4h-4zM324 130h4v4h-4zM328 134h4v4h-4zM300 206h4v4h-4zM312 206h4v4h-4zM284 210h4v4h-4zM296 210h8v4h-8zM308 210h4v4h-4zM284 214h4v4h-4zM292 214h12v4h-12zM296 218h4v4h-4zM284 222h4v4h-4zM288 226h8v4h-8zM616 226h4v4h-4zM628 226h4v4h-4zM632 234h4v4h-4zM640 242h4v4h-4zM644 250h4v4h-4zM560 254h4v4h-4zM648 254h4v4h-4zM552 258h4v4h-4zM564 258h4v4h-4zM652 258h4v4h-4zM548 262h4v4h-4zM564 262h4v4h-4zM600 262h4v4h-4zM656 262h4v4h-4zM660 270h4v4h-4zM664 274h4v4h-4zM252 278h4v4h-4zM668 278h4v4h-4zM248 282h8v4h-8zM672 282h4v4h-4zM252 286h4v4h-4zM252 290h4v4h-4zM248 294h4v4h-4zM532 298h4v4h-4zM612 298h4v4h-4zM528 302h4v4h-4zM616 306h4v4h-4zM524 310h4v4h-4zM620 310h4v4h-4zM524 314h4v4h-4zM532 314h4v4h-4zM628 314h4v4h-4zM652 314h4v4h-4zM668 314h4v4h-4zM432 318h4v4h-4zM528 318h4v4h-4zM492 322h4v4h-4zM496 330h4v4h-4zM484 334h4v4h-4zM476 338h4v4h-4zM504 338h4v4h-4zM508 342h4v4h-4zM508 346h4v4h-4zM508 350h4v4h-4zM480 354h4v4h-4zM508 354h4v4h-4zM440 358h4v4h-4zM504 362h4v4h-4zM468 366h4v4h-4zM168 370h8v4h-8zM480 370h4v4h-4zM500 370h4v4h-4zM180 374h4v4h-4zM376 374h4v4h-4zM480 374h4v4h-4zM496 374h4v4h-4zM160 378h4v4h-4zM184 378h4v4h-4zM416 378h4v4h-4zM496 378h4v4h-4zM372 382h4v4h-4zM496 382h4v4h-4zM156 386h4v4h-4zM188 386h4v4h-4zM496 386h4v4h-4zM188 390h4v4h-4zM188 394h4v4h-4zM408 394h4v4h-4zM152 398h4v4h-4zM472 398h4v4h-4zM184 402h4v4h-4zM384 402h4v4h-4zM456 402h4v4h-4zM424 406h12v4h-12zM152 418h4v4h-4zM156 426h4v4h-4zM156 430h4v4h-4zM148 434h4v4h-4zM124 438h4v4h-4zM156 442h4v4h-4zM444 458h8v4h-8zM440 462h4v4h-4zM452 462h4v4h-4zM440 466h4v4h-4zM444 474h4v4h-4zM148 478h4v4h-4zM448 478h4v4h-4zM168 534h8v4h-8zM164 538h4v4h-4zM180 538h4v4h-4zM160 542h4v4h-4zM180 542h4v4h-4zM564 542h40v4h-40zM160 546h4v4h-4zM180 546h4v4h-4zM552 546h4v4h-4zM612 546h4v4h-4zM156 550h4v4h-4zM544 550h4v4h-4zM156 554h4v4h-4zM176 554h4v4h-4zM160 558h4v4h-4zM172 558h4v4h-4zM648 558h4v4h-4zM160 562h4v4h-4zM172 562h4v4h-4zM536 562h4v4h-4z"/><path fill="#ffed00" d="M328 122h4v4h-4zM328 126h4v4h-4zM332 130h4v4h-4zM628 234h4v4h-4zM632 242h4v4h-4zM636 246h4v4h-4zM600 250h4v4h-4zM640 250h4v4h-4zM600 254h4v4h-4zM556 258h8v4h-8zM600 258h4v4h-4zM552 262h4v4h-4zM560 262h4v4h-4zM544 270h4v4h-4zM556 270h4v4h-4zM656 270h4v4h-4zM660 274h4v4h-4zM552 278h4v4h-4zM664 278h4v4h-4zM668 282h4v4h-4zM672 290h4v4h-4zM672 294h4v4h-4zM672 298h4v4h-4zM672 302h4v4h-4zM668 306h4v4h-4zM660 310h4v4h-4zM632 314h16v4h-16zM672 314h4v4h-4zM436 318h4v4h-4zM672 318h4v4h-4zM432 326h4v4h-4zM492 326h4v4h-4zM492 330h4v4h-4zM480 342h8v4h-8zM496 342h8v4h-8zM480 346h16v4h-16zM504 346h4v4h-4zM484 350h4v4h-4zM504 350h4v4h-4zM484 354h4v4h-4zM484 358h4v4h-4zM436 362h4v4h-4zM456 362h4v4h-4zM484 362h4v4h-4zM500 362h4v4h-4zM464 366h4v4h-4zM496 366h4v4h-4zM424 370h4v4h-4zM488 370h8v4h-8zM168 374h8v4h-8zM164 378h4v4h-4zM180 378h4v4h-4zM480 378h12v4h-12zM492 382h4v4h-4zM160 386h4v4h-4zM184 386h4v4h-4zM492 386h4v4h-4zM156 394h4v4h-4zM184 394h4v4h-4zM452 402h4v4h-4zM152 406h4v4h-4zM152 410h4v4h-4zM176 410h4v4h-4zM132 442h4v4h-4zM140 442h4v4h-4zM156 450h4v4h-4zM444 462h8v4h-8zM444 466h4v4h-4zM448 474h4v4h-4zM132 478h4v4h-4zM144 478h4v4h-4zM172 542h4v4h-4zM168 546h8v4h-8zM560 546h4v4h-4zM568 546h40v4h-40zM584 550h12v4h-12zM612 550h20v4h-20zM584 554h12v4h-12zM640 554h4v4h-4zM584 558h4v4h-4zM596 558h4v4h-4zM540 562h4v4h-4zM584 562h4v4h-4zM596 562h4v4h-4z"/><path fill="#ffdc00" d="M332 122h4v4h-4zM332 126h4v4h-4zM616 230h4v4h-4zM624 230h4v4h-4zM628 238h4v4h-4zM640 254h4v4h-4zM644 258h4v4h-4zM556 262h4v4h-4zM648 262h4v4h-4zM548 266h4v4h-4zM556 266h4v4h-4zM652 266h4v4h-4zM604 270h4v4h-4zM544 274h4v4h-4zM544 278h4v4h-4zM608 282h4v4h-4zM668 286h4v4h-4zM612 294h4v4h-4zM616 302h4v4h-4zM668 302h4v4h-4zM664 306h4v4h-4zM440 318h8v4h-8zM496 346h8v4h-8zM488 350h4v4h-4zM500 350h4v4h-4zM500 354h4v4h-4zM500 358h4v4h-4zM432 366h4v4h-4zM488 366h8v4h-8zM468 370h4v4h-4zM472 374h4v4h-4zM168 378h12v4h-12zM376 378h4v4h-4zM476 378h4v4h-4zM164 382h4v4h-4zM180 382h4v4h-4zM380 382h4v4h-4zM416 382h4v4h-4zM488 382h4v4h-4zM372 386h4v4h-4zM160 390h4v4h-4zM184 390h4v4h-4zM412 390h4v4h-4zM488 390h4v4h-4zM412 394h4v4h-4zM156 398h4v4h-4zM468 398h4v4h-4zM180 402h4v4h-4zM372 402h4v4h-4zM420 402h4v4h-4zM448 402h4v4h-4zM376 410h8v4h-8zM172 414h4v4h-4zM156 418h4v4h-4zM168 418h4v4h-4zM160 422h8v4h-8zM148 438h8v4h-8zM128 442h4v4h-4zM136 446h4v4h-4zM160 458h4v4h-4zM160 462h4v4h-4zM156 466h4v4h-4zM448 466h4v4h-4zM152 470h4v4h-4zM448 470h4v4h-4zM124 474h4v4h-4zM136 478h8v4h-8zM564 546h4v4h-4zM552 550h4v4h-4zM576 550h8v4h-8zM596 550h16v4h-16zM548 554h4v4h-4zM580 554h4v4h-4zM596 554h4v4h-4zM544 558h4v4h-4zM580 558h4v4h-4zM580 562h4v4h-4zM648 562h4v4h-4z"/><path fill="#ffff00" d="M336 122h4v4h-4zM324 126h4v4h-4zM336 126h4v4h-4zM328 130h4v4h-4zM304 206h8v4h-8zM304 210h4v4h-4zM288 214h4v4h-4zM284 218h12v4h-12zM288 222h8v4h-8zM620 226h8v4h-8zM612 230h4v4h-4zM628 230h4v4h-4zM608 234h4v4h-4zM604 238h4v4h-4zM632 238h4v4h-4zM636 242h4v4h-4zM600 246h4v4h-4zM640 246h4v4h-4zM644 254h4v4h-4zM648 258h4v4h-4zM652 262h4v4h-4zM560 266h4v4h-4zM656 266h4v4h-4zM556 274h4v4h-4zM604 274h4v4h-4zM544 282h8v4h-8zM248 286h4v4h-4zM608 286h4v4h-4zM672 286h4v4h-4zM248 290h4v4h-4zM532 302h4v4h-4zM528 306h8v4h-8zM672 306h4v4h-4zM528 310h8v4h-8zM664 310h12v4h-12zM528 314h4v4h-4zM648 314h4v4h-4zM448 318h4v4h-4zM672 322h4v4h-4zM488 326h4v4h-4zM488 330h4v4h-4zM488 334h12v4h-12zM480 338h24v4h-24zM476 342h4v4h-4zM488 342h8v4h-8zM504 342h4v4h-4zM476 346h4v4h-4zM480 350h4v4h-4zM504 354h4v4h-4zM444 358h12v4h-12zM504 358h4v4h-4zM432 362h4v4h-4zM460 362h4v4h-4zM428 366h4v4h-4zM484 366h4v4h-4zM500 366h4v4h-4zM472 370h4v4h-4zM484 370h4v4h-4zM496 370h4v4h-4zM164 374h4v4h-4zM176 374h4v4h-4zM420 374h4v4h-4zM476 374h4v4h-4zM484 374h12v4h-12zM380 378h4v4h-4zM492 378h4v4h-4zM160 382h4v4h-4zM184 382h4v4h-4zM412 386h4v4h-4zM156 390h4v4h-4zM492 390h4v4h-4zM484 394h4v4h-4zM184 398h4v4h-4zM412 398h4v4h-4zM152 402h4v4h-4zM416 402h4v4h-4zM180 406h4v4h-4zM372 406h4v4h-4zM384 406h4v4h-4zM152 414h4v4h-4zM156 422h4v4h-4zM168 422h4v4h-4zM160 426h8v4h-8zM152 434h4v4h-4zM144 438h4v4h-4zM136 442h4v4h-4zM156 446h4v4h-4zM160 454h4v4h-4zM164 458h4v4h-4zM164 462h4v4h-4zM160 466h4v4h-4zM452 466h4v4h-4zM156 470h4v4h-4zM444 470h4v4h-4zM452 470h4v4h-4zM152 474h4v4h-4zM452 474h4v4h-4zM128 478h4v4h-4zM168 538h12v4h-12zM164 542h8v4h-8zM176 542h4v4h-4zM164 546h4v4h-4zM176 546h4v4h-4zM556 546h4v4h-4zM608 546h4v4h-4zM160 550h20v4h-20zM548 550h4v4h-4zM632 550h4v4h-4zM160 554h16v4h-16zM544 554h4v4h-4zM164 558h8v4h-8zM540 558h4v4h-4zM588 558h8v4h-8zM164 562h8v4h-8zM588 562h8v4h-8z"/><path fill="#00c8ff" d="M352 122h4v4h-4zM284 126h4v4h-4zM124 130h48v4h-48zM236 130h36v4h-36zM360 130h12v4h-12zM212 134h12v4h-12zM344 134h4v4h-4zM360 138h4v4h-4zM384 142h4v4h-4zM372 146h4v4h-4zM384 146h4v4h-4zM216 150h4v4h-4zM240 150h8v4h-8zM380 150h8v4h-8zM252 154h4v4h-4zM256 162h4v4h-4zM348 162h4v4h-4zM216 166h4v4h-4zM256 166h4v4h-4zM316 166h4v4h-4zM336 166h4v4h-4zM360 166h4v4h-4zM216 170h4v4h-4zM216 174h4v4h-4zM260 174h4v4h-4zM312 174h4v4h-4zM216 178h4v4h-4zM260 178h4v4h-4zM336 178h4v4h-4zM364 178h4v4h-4zM216 182h4v4h-4zM296 182h8v4h-8zM332 182h4v4h-4zM216 186h4v4h-4zM264 186h4v4h-4zM296 186h4v4h-4zM316 186h4v4h-4zM216 190h4v4h-4zM264 190h4v4h-4zM304 190h8v4h-8zM356 190h4v4h-4zM216 194h4v4h-4zM356 194h4v4h-4zM216 198h4v4h-4zM356 198h4v4h-4zM668 198h4v4h-4zM216 202h4v4h-4zM356 202h4v4h-4zM632 202h4v4h-4zM216 206h4v4h-4zM356 206h4v4h-4zM216 210h4v4h-4zM216 214h4v4h-4zM216 218h4v4h-4zM332 218h8v4h-8zM668 218h8v4h-8zM216 222h4v4h-4zM324 222h4v4h-4zM340 222h4v4h-4zM352 222h4v4h-4zM600 222h4v4h-4zM264 226h4v4h-4zM320 226h4v4h-4zM124 230h4v4h-4zM212 230h4v4h-4zM260 230h4v4h-4zM316 230h4v4h-4zM124 234h4v4h-4zM212 234h4v4h-4zM252 234h4v4h-4zM312 234h4v4h-4zM588 234h4v4h-4zM668 234h4v4h-4zM128 238h4v4h-4zM212 238h4v4h-4zM244 238h4v4h-4zM572 238h4v4h-4zM128 242h8v4h-8zM216 242h4v4h-4zM244 242h4v4h-4zM308 242h4v4h-4zM564 242h4v4h-4zM672 242h4v4h-4zM132 246h4v4h-4zM248 246h4v4h-4zM136 250h4v4h-4zM224 250h4v4h-4zM252 250h4v4h-4zM304 250h4v4h-4zM592 250h4v4h-4zM136 254h4v4h-4zM252 254h4v4h-4zM580 254h4v4h-4zM140 258h4v4h-4zM224 258h4v4h-4zM296 258h4v4h-4zM144 262h4v4h-4zM244 262h4v4h-4zM144 266h4v4h-4zM276 266h4v4h-4zM148 270h4v4h-4zM276 270h4v4h-4zM532 270h4v4h-4zM152 274h4v4h-4zM208 274h4v4h-4zM572 274h4v4h-4zM156 282h4v4h-4zM272 286h4v4h-4zM588 286h4v4h-4zM160 290h4v4h-4zM196 290h4v4h-4zM268 290h4v4h-4zM516 290h4v4h-4zM264 294h4v4h-4zM452 294h4v4h-4zM512 294h4v4h-4zM560 294h4v4h-4zM192 298h4v4h-4zM452 298h4v4h-4zM504 298h4v4h-4zM168 302h4v4h-4zM192 302h4v4h-4zM448 302h8v4h-8zM476 302h8v4h-8zM168 306h4v4h-4zM188 306h4v4h-4zM440 306h4v4h-4zM172 310h12v4h-12zM232 310h4v4h-4zM260 310h4v4h-4zM552 310h4v4h-4zM600 310h4v4h-4zM232 314h4v4h-4zM460 314h4v4h-4zM472 314h4v4h-4zM552 314h4v4h-4zM596 314h4v4h-4zM604 314h4v4h-4zM420 318h4v4h-4zM464 318h4v4h-4zM472 318h4v4h-4zM552 318h8v4h-8zM568 318h4v4h-4zM596 318h4v4h-4zM608 318h4v4h-4zM168 322h4v4h-4zM228 322h4v4h-4zM416 322h4v4h-4zM464 322h4v4h-4zM472 322h4v4h-4zM632 322h8v4h-8zM644 322h4v4h-4zM168 326h4v4h-4zM224 326h4v4h-4zM252 326h4v4h-4zM416 326h4v4h-4zM596 326h4v4h-4zM220 330h4v4h-4zM404 330h8v4h-8zM620 330h4v4h-4zM248 334h4v4h-4zM408 334h4v4h-4zM432 334h4v4h-4zM664 334h4v4h-4zM168 338h4v4h-4zM244 338h4v4h-4zM408 338h4v4h-4zM672 338h4v4h-4zM216 342h4v4h-4zM244 342h4v4h-4zM620 342h4v4h-4zM216 346h4v4h-4zM544 346h8v4h-8zM612 346h4v4h-4zM180 350h4v4h-4zM212 350h4v4h-4zM240 350h4v4h-4zM396 350h4v4h-4zM540 350h4v4h-4zM560 350h4v4h-4zM192 354h16v4h-16zM240 354h4v4h-4zM376 354h4v4h-4zM384 354h8v4h-8zM240 358h4v4h-4zM372 358h4v4h-4zM536 358h4v4h-4zM236 366h4v4h-4zM392 366h8v4h-8zM532 366h4v4h-4zM232 370h4v4h-4zM228 374h4v4h-4zM524 374h8v4h-8zM228 378h4v4h-4zM400 378h4v4h-4zM524 378h4v4h-4zM524 382h4v4h-4zM360 386h4v4h-4zM392 386h4v4h-4zM524 386h4v4h-4zM300 390h4v4h-4zM324 390h4v4h-4zM344 390h4v4h-4zM224 394h4v4h-4zM296 394h4v4h-4zM328 394h4v4h-4zM340 394h4v4h-4zM220 398h4v4h-4zM332 398h12v4h-12zM216 402h4v4h-4zM212 406h4v4h-4zM296 406h4v4h-4zM208 410h4v4h-4zM300 410h4v4h-4zM132 414h4v4h-4zM316 414h4v4h-4zM128 418h8v4h-8zM188 418h4v4h-4zM320 418h4v4h-4zM128 422h8v4h-8zM432 422h8v4h-8zM180 426h4v4h-4zM328 426h4v4h-4zM424 426h4v4h-4zM440 426h4v4h-4zM452 426h4v4h-4zM376 430h8v4h-8zM444 430h4v4h-4zM452 430h4v4h-4zM332 434h4v4h-4zM444 434h12v4h-12zM176 438h4v4h-4zM424 438h4v4h-4zM444 438h4v4h-4zM460 438h4v4h-4zM176 446h4v4h-4zM340 446h4v4h-4zM468 446h4v4h-4zM492 446h24v4h-24zM520 446h4v4h-4zM344 450h4v4h-4zM488 450h4v4h-4zM180 454h4v4h-4zM348 454h4v4h-4zM476 454h12v4h-12zM532 454h8v4h-8zM228 458h4v4h-4zM352 458h4v4h-4zM552 458h4v4h-4zM180 462h4v4h-4zM356 462h4v4h-4zM228 466h4v4h-4zM360 466h4v4h-4zM364 470h4v4h-4zM372 470h4v4h-4zM564 470h4v4h-4zM172 474h4v4h-4zM380 474h4v4h-4zM516 474h4v4h-4zM524 474h4v4h-4zM568 474h4v4h-4zM224 478h4v4h-4zM480 478h4v4h-4zM508 478h4v4h-4zM528 478h4v4h-4zM572 478h4v4h-4zM164 482h4v4h-4zM224 482h4v4h-4zM248 482h4v4h-4zM416 482h4v4h-4zM540 482h4v4h-4zM576 482h4v4h-4zM156 486h4v4h-4zM188 486h4v4h-4zM228 486h4v4h-4zM244 486h4v4h-4zM252 486h4v4h-4zM416 486h4v4h-4zM424 486h4v4h-4zM548 486h4v4h-4zM184 490h4v4h-4zM256 490h4v4h-4zM412 490h4v4h-4zM580 490h4v4h-4zM384 494h4v4h-4zM412 494h4v4h-4zM428 494h4v4h-4zM464 494h4v4h-4zM552 494h4v4h-4zM584 494h4v4h-4zM260 498h8v4h-8zM348 498h4v4h-4zM384 498h4v4h-4zM428 498h4v4h-4zM556 498h4v4h-4zM584 498h8v4h-8zM344 502h4v4h-4zM352 502h4v4h-4zM408 502h4v4h-4zM432 502h4v4h-4zM564 502h20v4h-20zM592 502h8v4h-8zM152 506h4v4h-4zM244 506h4v4h-4zM252 506h8v4h-8zM320 506h4v4h-4zM360 506h4v4h-4zM404 506h4v4h-4zM436 506h4v4h-4zM452 506h4v4h-4zM580 506h4v4h-4zM604 506h4v4h-4zM148 510h4v4h-4zM240 510h4v4h-4zM316 510h4v4h-4zM400 510h4v4h-4zM612 510h4v4h-4zM240 514h4v4h-4zM260 514h4v4h-4zM316 514h4v4h-4zM336 514h4v4h-4zM368 514h4v4h-4zM388 514h12v4h-12zM612 514h4v4h-4zM264 518h4v4h-4zM300 518h4v4h-4zM316 518h12v4h-12zM444 518h8v4h-8zM580 518h8v4h-8zM616 518h4v4h-4zM304 522h4v4h-4zM448 522h4v4h-4zM560 522h24v4h-24zM616 522h16v4h-16zM144 526h4v4h-4zM268 526h4v4h-4zM312 526h4v4h-4zM352 526h4v4h-4zM372 526h4v4h-4zM556 526h4v4h-4zM636 526h4v4h-4zM268 530h8v4h-8zM356 530h4v4h-4zM368 530h4v4h-4zM472 530h4v4h-4zM640 530h4v4h-4zM236 534h4v4h-4zM264 534h8v4h-8zM324 534h4v4h-4zM472 534h4v4h-4zM536 534h4v4h-4zM656 534h12v4h-12zM132 538h4v4h-4zM232 538h4v4h-4zM260 538h4v4h-4zM644 538h4v4h-4zM652 538h8v4h-8zM664 538h4v4h-4zM128 542h4v4h-4zM228 542h4v4h-4zM336 542h4v4h-4zM648 542h4v4h-4zM228 546h4v4h-4zM256 546h4v4h-4zM384 546h8v4h-8zM668 546h4v4h-4zM124 550h4v4h-4zM228 550h4v4h-4zM260 550h4v4h-4zM380 550h4v4h-4zM392 550h4v4h-4zM464 550h8v4h-8zM672 550h4v4h-4zM228 554h4v4h-4zM264 554h4v4h-4zM376 554h4v4h-4zM396 554h4v4h-4zM460 554h4v4h-4zM468 554h4v4h-4zM520 554h4v4h-4zM228 558h4v4h-4zM372 558h4v4h-4zM400 558h4v4h-4zM504 558h4v4h-4zM512 558h8v4h-8zM228 562h4v4h-4zM268 562h4v4h-4zM368 562h4v4h-4zM472 562h4v4h-4zM500 562h4v4h-4z"/><path fill="#b8f850" d="M308 126h4v4h-4zM316 130h4v4h-4zM336 134h4v4h-4zM320 138h4v4h-4zM324 142h8v4h-8zM304 154h8v4h-8zM320 206h4v4h-4zM276 210h4v4h-4zM316 210h4v4h-4zM308 214h4v4h-4zM300 222h4v4h-4zM616 222h4v4h-4zM632 222h4v4h-4zM612 226h4v4h-4zM280 230h4v4h-4zM608 230h4v4h-4zM636 230h4v4h-4zM640 234h4v4h-4zM600 238h4v4h-4zM644 238h4v4h-4zM648 242h4v4h-4zM652 250h4v4h-4zM548 258h4v4h-4zM664 262h4v4h-4zM260 266h4v4h-4zM264 270h4v4h-4zM600 270h4v4h-4zM668 270h4v4h-4zM248 274h4v4h-4zM560 274h4v4h-4zM244 282h4v4h-4zM604 282h4v4h-4zM244 286h4v4h-4zM536 286h4v4h-4zM244 290h4v4h-4zM532 290h4v4h-4zM528 294h4v4h-4zM608 294h4v4h-4zM540 298h4v4h-4zM540 302h4v4h-4zM612 302h4v4h-4zM520 306h4v4h-4zM516 310h4v4h-4zM516 314h4v4h-4zM488 318h4v4h-4zM496 318h4v4h-4zM516 318h4v4h-4zM664 318h4v4h-4zM516 322h8v4h-8zM668 322h4v4h-4zM520 326h12v4h-12zM508 334h4v4h-4zM472 338h4v4h-4zM512 338h4v4h-4zM512 342h4v4h-4zM512 346h4v4h-4zM512 350h4v4h-4zM444 354h4v4h-4zM452 354h4v4h-4zM512 354h4v4h-4zM432 358h4v4h-4zM464 358h4v4h-4zM476 358h4v4h-4zM512 358h4v4h-4zM472 362h8v4h-8zM164 366h4v4h-4zM172 366h4v4h-4zM508 366h4v4h-4zM160 370h4v4h-4zM376 370h4v4h-4zM416 374h4v4h-4zM504 374h4v4h-4zM188 378h4v4h-4zM372 378h4v4h-4zM504 378h4v4h-4zM152 386h4v4h-4zM192 386h4v4h-4zM408 386h4v4h-4zM368 390h4v4h-4zM384 390h4v4h-4zM192 394h4v4h-4zM492 394h4v4h-4zM148 398h4v4h-4zM368 398h4v4h-4zM188 402h4v4h-4zM408 402h4v4h-4zM444 406h4v4h-4zM148 430h4v4h-4zM160 434h4v4h-4zM136 438h4v4h-4zM444 454h8v4h-8zM168 462h4v4h-4zM436 466h4v4h-4zM456 478h4v4h-4zM136 482h4v4h-4zM448 482h8v4h-8zM168 526h16v4h-16zM184 534h4v4h-4zM156 538h4v4h-4zM152 542h4v4h-4zM552 542h4v4h-4zM612 542h4v4h-4zM544 546h4v4h-4zM624 546h4v4h-4zM148 550h4v4h-4zM184 550h4v4h-4zM540 550h4v4h-4zM312 554h8v4h-8zM536 554h4v4h-4zM180 558h4v4h-4zM308 558h8v4h-8zM320 558h4v4h-4zM304 562h8v4h-8zM320 562h4v4h-4zM532 562h4v4h-4z"/><path fill="#18e8e8" d="M292 130h4v4h-4zM232 134h8v4h-8zM244 134h32v4h-32zM228 138h4v4h-4zM124 142h20v4h-20zM232 142h4v4h-4zM340 142h4v4h-4zM124 146h16v4h-16zM248 146h8v4h-8zM260 150h8v4h-8zM264 154h12v4h-12zM268 158h12v4h-12zM332 158h4v4h-4zM280 162h12v4h-12zM316 162h4v4h-4zM292 166h4v4h-4zM312 166h4v4h-4zM296 170h4v4h-4zM344 170h4v4h-4zM300 174h8v4h-8zM344 174h4v4h-4zM360 174h4v4h-4zM140 178h8v4h-8zM344 178h4v4h-4zM356 178h4v4h-4zM136 182h20v4h-20zM348 182h4v4h-4zM136 186h24v4h-24zM136 190h28v4h-28zM284 190h4v4h-4zM320 190h8v4h-8zM136 194h32v4h-32zM272 194h4v4h-4zM336 194h4v4h-4zM136 198h36v4h-36zM340 198h4v4h-4zM140 202h32v4h-32zM340 202h4v4h-4zM644 202h8v4h-8zM672 202h4v4h-4zM140 206h36v4h-36zM340 206h4v4h-4zM668 206h4v4h-4zM140 210h40v4h-40zM336 210h4v4h-4zM628 210h4v4h-4zM656 210h4v4h-4zM668 210h4v4h-4zM140 214h44v4h-44zM620 214h4v4h-4zM144 218h40v4h-40zM652 218h4v4h-4zM144 222h20v4h-20zM168 222h20v4h-20zM316 222h4v4h-4zM652 222h4v4h-4zM144 226h16v4h-16zM176 226h16v4h-16zM268 226h4v4h-4zM312 226h4v4h-4zM600 226h4v4h-4zM656 226h4v4h-4zM148 230h12v4h-12zM180 230h12v4h-12zM596 230h4v4h-4zM148 234h12v4h-12zM184 234h12v4h-12zM264 234h4v4h-4zM660 234h4v4h-4zM152 238h8v4h-8zM188 238h12v4h-12zM256 238h4v4h-4zM592 238h4v4h-4zM152 242h8v4h-8zM192 242h12v4h-12zM256 242h4v4h-4zM576 242h4v4h-4zM592 242h4v4h-4zM152 246h8v4h-8zM200 246h12v4h-12zM256 246h4v4h-4zM668 246h4v4h-4zM156 250h4v4h-4zM212 250h4v4h-4zM256 250h4v4h-4zM280 250h4v4h-4zM296 250h4v4h-4zM672 250h4v4h-4zM156 254h8v4h-8zM216 254h4v4h-4zM256 254h4v4h-4zM160 258h4v4h-4zM576 258h4v4h-4zM160 262h4v4h-4zM160 266h8v4h-8zM208 266h4v4h-4zM244 266h4v4h-4zM164 270h4v4h-4zM164 274h8v4h-8zM272 274h4v4h-4zM596 274h4v4h-4zM168 278h8v4h-8zM200 278h4v4h-4zM168 282h16v4h-16zM196 282h4v4h-4zM268 282h4v4h-4zM564 282h4v4h-4zM184 286h12v4h-12zM264 286h4v4h-4zM520 290h4v4h-4zM592 290h4v4h-4zM260 294h4v4h-4zM516 294h4v4h-4zM556 294h4v4h-4zM592 294h4v4h-4zM592 298h12v4h-12zM500 302h4v4h-4zM604 302h4v4h-4zM484 306h4v4h-4zM256 310h4v4h-4zM436 310h4v4h-4zM452 310h4v4h-4zM480 310h4v4h-4zM548 310h4v4h-4zM608 310h4v4h-4zM240 314h4v4h-4zM456 314h4v4h-4zM240 318h8v4h-8zM544 322h4v4h-4zM568 322h4v4h-4zM584 322h4v4h-4zM460 326h4v4h-4zM476 326h4v4h-4zM564 326h4v4h-4zM584 326h4v4h-4zM660 326h4v4h-4zM132 330h28v4h-28zM460 330h4v4h-4zM468 330h4v4h-4zM560 330h4v4h-4zM584 330h4v4h-4zM664 330h4v4h-4zM132 334h12v4h-12zM156 334h4v4h-4zM460 334h4v4h-4zM580 334h4v4h-4zM596 334h20v4h-20zM132 338h8v4h-8zM448 338h12v4h-12zM540 338h4v4h-4zM552 338h4v4h-4zM572 338h4v4h-4zM596 338h4v4h-4zM612 338h4v4h-4zM132 342h8v4h-8zM160 342h4v4h-4zM452 342h4v4h-4zM536 342h4v4h-4zM556 342h4v4h-4zM596 342h4v4h-4zM136 346h8v4h-8zM164 346h4v4h-4zM140 350h4v4h-4zM408 350h4v4h-4zM532 350h4v4h-4zM144 354h4v4h-4zM176 354h4v4h-4zM400 354h4v4h-4zM412 354h4v4h-4zM424 354h4v4h-4zM144 358h4v4h-4zM528 358h4v4h-4zM144 362h4v4h-4zM196 362h12v4h-12zM384 362h4v4h-4zM400 362h4v4h-4zM208 366h8v4h-8zM212 370h4v4h-4zM408 370h4v4h-4zM140 374h4v4h-4zM516 374h4v4h-4zM140 378h4v4h-4zM216 378h4v4h-4zM140 382h4v4h-4zM216 382h4v4h-4zM516 382h4v4h-4zM140 386h4v4h-4zM216 386h4v4h-4zM388 386h4v4h-4zM516 386h4v4h-4zM140 390h4v4h-4zM216 390h4v4h-4zM360 390h4v4h-4zM516 390h4v4h-4zM212 394h4v4h-4zM356 394h4v4h-4zM308 398h12v4h-12zM360 398h4v4h-4zM208 402h4v4h-4zM308 402h8v4h-8zM480 402h4v4h-4zM204 406h4v4h-4zM364 406h4v4h-4zM464 406h4v4h-4zM456 410h4v4h-4zM188 414h4v4h-4zM140 418h4v4h-4zM344 418h12v4h-12zM432 418h20v4h-20zM140 422h4v4h-4zM340 422h4v4h-4zM356 422h4v4h-4zM372 422h4v4h-4zM384 422h8v4h-8zM412 422h8v4h-8zM340 426h4v4h-4zM356 426h4v4h-4zM340 430h4v4h-4zM356 430h4v4h-4zM172 434h4v4h-4zM340 434h4v4h-4zM344 442h4v4h-4zM356 442h4v4h-4zM356 446h4v4h-4zM444 446h4v4h-4zM460 446h4v4h-4zM372 450h24v4h-24zM416 450h8v4h-8zM176 454h4v4h-4zM368 454h4v4h-4zM396 454h4v4h-4zM416 454h4v4h-4zM468 454h4v4h-4zM512 454h4v4h-4zM368 458h4v4h-4zM396 458h4v4h-4zM512 458h4v4h-4zM176 462h4v4h-4zM372 462h4v4h-4zM416 462h4v4h-4zM472 462h4v4h-4zM512 462h4v4h-4zM528 462h4v4h-4zM380 466h4v4h-4zM416 466h4v4h-4zM512 466h16v4h-16zM384 470h4v4h-4zM400 470h4v4h-4zM420 470h4v4h-4zM168 474h4v4h-4zM204 474h4v4h-4zM216 474h4v4h-4zM400 474h4v4h-4zM472 474h4v4h-4zM200 478h4v4h-4zM216 478h4v4h-4zM400 478h4v4h-4zM388 482h4v4h-4zM432 482h4v4h-4zM468 482h4v4h-4zM124 486h8v4h-8zM148 486h4v4h-4zM392 486h8v4h-8zM192 490h4v4h-4zM436 490h4v4h-4zM188 494h4v4h-4zM440 494h4v4h-4zM456 494h4v4h-4zM184 498h4v4h-4zM444 498h8v4h-8zM220 502h8v4h-8zM228 506h4v4h-4zM272 506h12v4h-12zM156 510h4v4h-4zM228 510h4v4h-4zM268 510h4v4h-4zM288 510h4v4h-4zM152 514h4v4h-4zM208 518h8v4h-8zM232 518h4v4h-4zM272 518h4v4h-4zM204 522h4v4h-4zM212 522h4v4h-4zM232 522h4v4h-4zM280 522h4v4h-4zM296 522h4v4h-4zM148 526h4v4h-4zM232 526h4v4h-4zM284 526h4v4h-4zM300 526h4v4h-4zM216 530h4v4h-4zM228 530h4v4h-4zM284 530h4v4h-4zM304 530h4v4h-4zM560 530h72v4h-72zM216 534h12v4h-12zM284 534h4v4h-4zM316 534h4v4h-4zM632 534h4v4h-4zM324 538h4v4h-4zM536 538h4v4h-4zM636 538h4v4h-4zM532 542h4v4h-4zM132 546h4v4h-4zM284 546h4v4h-4zM332 546h4v4h-4zM644 546h4v4h-4zM280 550h4v4h-4zM332 550h4v4h-4zM660 550h4v4h-4zM200 554h4v4h-4zM276 554h4v4h-4zM332 554h4v4h-4zM132 558h4v4h-4zM200 558h4v4h-4zM332 558h4v4h-4zM384 558h4v4h-4zM132 562h4v4h-4zM332 562h4v4h-4zM396 562h4v4h-4zM664 562h4v4h-4z"/><path fill="#70f090" d="M340 130h4v4h-4zM312 134h4v4h-4zM312 142h4v4h-4zM336 142h4v4h-4zM304 146h4v4h-4zM296 150h4v4h-4zM328 150h4v4h-4zM296 154h4v4h-4zM320 154h4v4h-4zM300 162h4v4h-4zM280 198h12v4h-12zM296 198h8v4h-8zM324 198h4v4h-4zM324 210h4v4h-4zM620 218h4v4h-4zM300 230h4v4h-4zM644 230h4v4h-4zM276 238h4v4h-4zM292 238h4v4h-4zM652 238h4v4h-4zM596 242h4v4h-4zM656 242h4v4h-4zM596 246h4v4h-4zM556 250h4v4h-4zM568 250h4v4h-4zM264 254h4v4h-4zM548 254h4v4h-4zM668 258h4v4h-4zM268 262h4v4h-4zM672 262h4v4h-4zM268 266h4v4h-4zM568 266h4v4h-4zM192 270h4v4h-4zM268 270h4v4h-4zM192 274h4v4h-4zM564 274h4v4h-4zM536 278h4v4h-4zM600 282h4v4h-4zM552 290h4v4h-4zM256 294h4v4h-4zM524 294h4v4h-4zM520 298h4v4h-4zM244 302h4v4h-4zM544 302h4v4h-4zM248 306h4v4h-4zM504 306h4v4h-4zM496 310h4v4h-4zM432 314h4v4h-4zM540 314h4v4h-4zM484 318h4v4h-4zM504 318h4v4h-4zM656 318h4v4h-4zM504 322h8v4h-8zM432 330h4v4h-4zM672 330h4v4h-4zM472 334h4v4h-4zM524 334h8v4h-8zM468 338h4v4h-4zM520 338h4v4h-4zM464 346h4v4h-4zM448 350h16v4h-16zM436 354h4v4h-4zM520 354h4v4h-4zM160 358h12v4h-12zM176 362h4v4h-4zM420 362h4v4h-4zM516 362h4v4h-4zM184 366h4v4h-4zM376 366h4v4h-4zM416 366h4v4h-4zM152 370h4v4h-4zM192 374h4v4h-4zM196 378h4v4h-4zM384 378h4v4h-4zM148 382h4v4h-4zM408 382h4v4h-4zM200 386h4v4h-4zM404 386h4v4h-4zM508 386h4v4h-4zM200 390h4v4h-4zM196 398h4v4h-4zM400 398h4v4h-4zM144 402h4v4h-4zM400 402h4v4h-4zM468 402h4v4h-4zM144 406h4v4h-4zM400 406h4v4h-4zM144 410h4v4h-4zM408 410h4v4h-4zM444 410h4v4h-4zM144 414h4v4h-4zM388 414h4v4h-4zM420 414h4v4h-4zM376 418h8v4h-8zM172 426h4v4h-4zM132 434h8v4h-8zM432 454h4v4h-4zM172 458h4v4h-4zM464 466h4v4h-4zM464 470h4v4h-4zM440 482h4v4h-4zM444 486h4v4h-4zM204 490h8v4h-8zM204 494h8v4h-8zM204 498h4v4h-4zM180 510h16v4h-16zM172 514h4v4h-4zM192 514h4v4h-4zM164 518h4v4h-4zM192 518h4v4h-4zM160 522h4v4h-4zM192 522h4v4h-4zM156 526h4v4h-4zM192 526h4v4h-4zM192 530h4v4h-4zM152 534h4v4h-4zM148 538h4v4h-4zM552 538h4v4h-4zM616 538h4v4h-4zM144 542h4v4h-4zM312 542h8v4h-8zM628 542h4v4h-4zM192 546h4v4h-4zM304 546h4v4h-4zM536 546h4v4h-4zM636 546h4v4h-4zM300 550h4v4h-4zM324 550h4v4h-4zM644 550h4v4h-4zM188 554h4v4h-4zM296 554h4v4h-4zM652 554h4v4h-4zM292 558h4v4h-4zM144 562h4v4h-4zM292 562h4v4h-4zM528 562h4v4h-4zM656 562h4v4h-4z"/><path fill="#ffca00" d="M620 230h4v4h-4zM612 234h4v4h-4zM624 234h4v4h-4zM608 238h4v4h-4zM604 242h4v4h-4zM632 246h4v4h-4zM636 250h4v4h-4zM552 266h4v4h-4zM552 270h4v4h-4zM652 270h4v4h-4zM552 274h4v4h-4zM656 274h4v4h-4zM548 278h4v4h-4zM660 278h4v4h-4zM664 282h4v4h-4zM668 290h4v4h-4zM668 294h4v4h-4zM668 298h4v4h-4zM432 322h4v4h-4zM448 322h4v4h-4zM436 326h4v4h-4zM448 326h4v4h-4zM492 350h8v4h-8zM488 354h4v4h-4zM496 354h4v4h-4zM488 358h4v4h-4zM496 358h4v4h-4zM440 362h8v4h-8zM452 362h4v4h-4zM488 362h12v4h-12zM460 366h4v4h-4zM428 370h4v4h-4zM424 374h4v4h-4zM420 378h4v4h-4zM168 382h12v4h-12zM484 382h4v4h-4zM164 386h4v4h-4zM180 386h4v4h-4zM488 386h4v4h-4zM160 394h4v4h-4zM180 394h4v4h-4zM480 394h4v4h-4zM180 398h4v4h-4zM416 398h4v4h-4zM424 402h4v4h-4zM444 402h4v4h-4zM176 406h4v4h-4zM156 414h4v4h-4zM124 442h4v4h-4zM144 442h4v4h-4zM152 442h4v4h-4zM132 446h4v4h-4zM140 446h4v4h-4zM136 450h8v4h-8zM136 454h4v4h-4zM156 454h4v4h-4zM156 458h4v4h-4zM156 462h4v4h-4zM152 466h4v4h-4zM148 474h4v4h-4zM556 550h4v4h-4zM568 550h8v4h-8zM576 554h4v4h-4zM600 554h12v4h-12zM576 558h4v4h-4zM600 558h4v4h-4zM644 558h4v4h-4zM544 562h4v4h-4zM600 562h4v4h-4z"/><path fill="#ffa600" d="M616 234h8v4h-8zM624 238h4v4h-4zM632 250h4v4h-4zM604 266h4v4h-4zM648 270h4v4h-4zM652 274h4v4h-4zM656 278h4v4h-4zM660 282h4v4h-4zM664 286h4v4h-4zM664 290h4v4h-4zM664 294h4v4h-4zM616 298h4v4h-4zM664 298h4v4h-4zM436 322h4v4h-4zM432 370h4v4h-4zM428 374h4v4h-4zM376 382h4v4h-4zM476 382h4v4h-4zM484 386h4v4h-4zM168 390h12v4h-12zM380 390h4v4h-4zM416 390h4v4h-4zM164 394h16v4h-16zM380 394h4v4h-4zM416 394h4v4h-4zM476 394h4v4h-4zM160 398h4v4h-4zM176 398h4v4h-4zM420 398h4v4h-4zM380 402h4v4h-4zM376 406h4v4h-4zM168 414h4v4h-4zM148 446h4v4h-4zM148 450h4v4h-4zM132 454h4v4h-4zM148 454h4v4h-4zM132 458h4v4h-4zM132 462h8v4h-8zM140 466h8v4h-8zM124 470h8v4h-8zM144 470h4v4h-4zM132 474h12v4h-12zM556 554h4v4h-4zM568 554h4v4h-4zM620 554h4v4h-4zM636 554h4v4h-4zM552 558h4v4h-4zM572 558h4v4h-4zM608 558h8v4h-8zM548 562h4v4h-4zM572 562h4v4h-4zM608 562h4v4h-4z"/><path fill="#ff9400" d="M612 238h4v4h-4zM604 246h4v4h-4zM628 246h4v4h-4zM636 258h4v4h-4zM640 262h4v4h-4zM644 266h4v4h-4zM608 274h4v4h-4zM612 286h4v4h-4zM660 302h4v4h-4zM440 322h8v4h-8zM440 366h8v4h-8zM452 366h4v4h-4zM460 370h4v4h-4zM424 378h4v4h-4zM420 382h4v4h-4zM480 386h4v4h-4zM480 390h4v4h-4zM164 398h12v4h-12zM380 398h4v4h-4zM460 398h4v4h-4zM160 402h4v4h-4zM172 402h4v4h-4zM172 406h4v4h-4zM160 414h8v4h-8zM124 446h4v4h-4zM128 450h4v4h-4zM128 454h4v4h-4zM128 458h4v4h-4zM128 462h4v4h-4zM124 466h16v4h-16zM132 470h12v4h-12zM560 554h8v4h-8zM624 554h4v4h-4zM568 558h4v4h-4zM616 558h4v4h-4zM552 562h4v4h-4zM612 562h4v4h-4zM644 562h4v4h-4z"/><path fill="#ff8200" d="M616 238h8v4h-8zM608 242h4v4h-4zM624 242h4v4h-4zM632 254h4v4h-4zM604 262h4v4h-4zM648 274h4v4h-4zM652 278h4v4h-4zM656 282h4v4h-4zM660 286h4v4h-4zM660 298h4v4h-4zM620 302h4v4h-4zM656 306h4v4h-4zM652 310h4v4h-4zM448 366h4v4h-4zM436 370h4v4h-4zM456 370h4v4h-4zM432 374h4v4h-4zM464 374h4v4h-4zM468 378h4v4h-4zM376 386h4v4h-4zM472 394h4v4h-4zM424 398h4v4h-4zM164 402h8v4h-8zM376 402h4v4h-4zM160 406h4v4h-4zM160 410h4v4h-4zM168 410h4v4h-4zM124 450h4v4h-4zM124 462h4v4h-4zM628 554h8v4h-8zM556 558h12v4h-12zM640 558h4v4h-4zM568 562h4v4h-4z"/><path fill="#ff6000" d="M612 242h4v4h-4zM604 254h4v4h-4zM604 258h4v4h-4zM632 258h4v4h-4zM612 278h4v4h-4zM656 286h4v4h-4zM656 302h4v4h-4zM624 306h4v4h-4zM648 310h4v4h-4zM444 370h12v4h-12zM436 374h4v4h-4zM424 382h4v4h-4zM420 390h4v4h-4zM476 390h4v4h-4zM452 398h4v4h-4z"/><path fill="#ff4000" d="M616 242h4v4h-4zM628 254h4v4h-4zM632 262h4v4h-4zM636 266h4v4h-4zM612 274h4v4h-4zM656 294h4v4h-4zM656 298h4v4h-4zM652 306h4v4h-4zM636 310h4v4h-4zM644 310h4v4h-4zM444 374h4v4h-4zM452 374h4v4h-4zM460 378h4v4h-4zM428 382h4v4h-4zM424 386h4v4h-4zM472 386h4v4h-4zM424 390h4v4h-4zM472 390h4v4h-4zM440 398h12v4h-12zM636 558h4v4h-4zM640 562h4v4h-4z"/><path fill="#ff5000" d="M620 242h4v4h-4zM608 246h4v4h-4zM624 246h4v4h-4zM608 266h4v4h-4zM640 270h4v4h-4zM644 274h4v4h-4zM648 278h4v4h-4zM652 282h4v4h-4zM616 290h4v4h-4zM656 290h4v4h-4zM620 298h4v4h-4zM632 310h4v4h-4zM440 374h4v4h-4zM456 374h4v4h-4zM432 378h4v4h-4zM464 378h4v4h-4zM468 382h4v4h-4zM424 394h4v4h-4zM468 394h4v4h-4zM432 398h8v4h-8zM624 558h4v4h-4zM620 562h4v4h-4z"/><path fill="#ffb800" d="M628 242h4v4h-4zM636 254h4v4h-4zM640 258h4v4h-4zM644 262h4v4h-4zM648 266h4v4h-4zM548 270h4v4h-4zM548 274h4v4h-4zM608 278h4v4h-4zM612 290h4v4h-4zM664 302h4v4h-4zM620 306h4v4h-4zM660 306h4v4h-4zM624 310h4v4h-4zM656 310h4v4h-4zM440 326h8v4h-8zM492 354h4v4h-4zM492 358h4v4h-4zM448 362h4v4h-4zM436 366h4v4h-4zM456 366h4v4h-4zM464 370h4v4h-4zM468 374h4v4h-4zM472 378h4v4h-4zM480 382h4v4h-4zM168 386h12v4h-12zM380 386h4v4h-4zM416 386h4v4h-4zM164 390h4v4h-4zM180 390h4v4h-4zM372 390h4v4h-4zM484 390h4v4h-4zM372 394h4v4h-4zM372 398h4v4h-4zM464 398h4v4h-4zM156 402h4v4h-4zM176 402h4v4h-4zM428 402h16v4h-16zM156 406h4v4h-4zM380 406h4v4h-4zM156 410h4v4h-4zM172 410h4v4h-4zM160 418h8v4h-8zM148 442h4v4h-4zM128 446h4v4h-4zM144 446h4v4h-4zM152 446h4v4h-4zM132 450h4v4h-4zM144 450h4v4h-4zM152 450h4v4h-4zM140 454h8v4h-8zM152 454h4v4h-4zM136 458h20v4h-20zM140 462h16v4h-16zM148 466h4v4h-4zM148 470h4v4h-4zM128 474h4v4h-4zM144 474h4v4h-4zM560 550h8v4h-8zM552 554h4v4h-4zM572 554h4v4h-4zM612 554h8v4h-8zM548 558h4v4h-4zM604 558h4v4h-4zM576 562h4v4h-4zM604 562h4v4h-4z"/><path fill="#f72400" d="M612 246h4v4h-4zM620 246h4v4h-4zM608 250h4v4h-4zM624 250h4v4h-4zM608 262h4v4h-4zM632 266h4v4h-4zM612 270h4v4h-4zM636 270h4v4h-4zM616 282h4v4h-4zM652 290h4v4h-4zM440 378h4v4h-4zM456 378h4v4h-4zM432 382h4v4h-4zM464 382h4v4h-4zM428 386h4v4h-4zM468 386h4v4h-4zM468 390h4v4h-4zM628 558h8v4h-8zM624 562h4v4h-4z"/><path fill="#f01800" d="M616 246h4v4h-4zM608 254h4v4h-4zM608 258h4v4h-4zM628 262h4v4h-4zM616 278h4v4h-4zM640 278h4v4h-4zM644 282h4v4h-4zM648 286h4v4h-4zM620 290h4v4h-4zM652 294h4v4h-4zM624 298h4v4h-4zM652 298h4v4h-4zM652 302h4v4h-4zM628 306h4v4h-4zM444 378h4v4h-4zM452 378h4v4h-4zM428 390h4v4h-4zM432 394h4v4h-4zM460 394h4v4h-4zM636 562h4v4h-4z"/><path fill="#ff7000" d="M604 250h4v4h-4zM628 250h4v4h-4zM636 262h4v4h-4zM640 266h4v4h-4zM608 270h4v4h-4zM644 270h4v4h-4zM612 282h4v4h-4zM660 290h4v4h-4zM616 294h4v4h-4zM660 294h4v4h-4zM628 310h4v4h-4zM440 370h4v4h-4zM460 374h4v4h-4zM428 378h4v4h-4zM472 382h4v4h-4zM420 386h4v4h-4zM476 386h4v4h-4zM376 390h4v4h-4zM376 394h4v4h-4zM420 394h4v4h-4zM376 398h4v4h-4zM428 398h4v4h-4zM456 398h4v4h-4zM164 406h8v4h-8zM164 410h4v4h-4zM124 454h4v4h-4zM124 458h4v4h-4zM620 558h4v4h-4zM556 562h12v4h-12zM616 562h4v4h-4z"/><path fill="#e00000" d="M612 250h4v4h-4zM620 250h4v4h-4zM624 258h4v4h-4zM616 270h4v4h-4zM628 270h4v4h-4zM632 274h4v4h-4zM636 278h4v4h-4zM620 282h4v4h-4zM640 282h4v4h-4zM620 286h4v4h-4zM644 286h4v4h-4zM624 294h4v4h-4zM648 294h4v4h-4zM440 382h4v4h-4zM456 382h4v4h-4zM432 390h4v4h-4zM464 390h4v4h-4zM440 394h4v4h-4zM628 562h4v4h-4z"/><path fill="#cc0000" d="M616 250h4v4h-4zM612 262h4v4h-4zM624 262h4v4h-4zM624 266h4v4h-4zM624 270h4v4h-4zM620 274h4v4h-4zM628 274h4v4h-4zM620 278h4v4h-4zM624 290h4v4h-4zM644 290h4v4h-4zM648 298h4v4h-4zM628 302h4v4h-4zM648 302h4v4h-4zM632 306h4v4h-4zM644 306h4v4h-4zM444 382h4v4h-4zM452 382h4v4h-4zM436 386h4v4h-4zM460 386h4v4h-4zM436 390h4v4h-4zM460 390h4v4h-4zM444 394h12v4h-12zM632 562h4v4h-4z"/><path fill="#b80000" d="M612 254h4v4h-4zM612 258h4v4h-4zM616 266h4v4h-4zM620 270h4v4h-4zM624 274h4v4h-4zM624 278h12v4h-12zM624 282h4v4h-4zM636 282h4v4h-4zM624 286h4v4h-4zM640 286h4v4h-4zM644 294h4v4h-4zM628 298h4v4h-4zM636 306h8v4h-8zM448 382h4v4h-4z"/><path fill="#a40000" d="M616 254h8v4h-8zM616 262h8v4h-8zM620 266h4v4h-4zM628 282h8v4h-8zM628 286h4v4h-4zM636 286h4v4h-4zM628 290h4v4h-4zM640 290h4v4h-4zM628 294h4v4h-4zM644 298h4v4h-4zM440 386h4v4h-4zM456 386h4v4h-4zM440 390h4v4h-4zM456 390h4v4h-4z"/><path fill="#e80c00" d="M624 254h4v4h-4zM612 266h4v4h-4zM628 266h4v4h-4zM632 270h4v4h-4zM616 274h4v4h-4zM636 274h4v4h-4zM648 290h4v4h-4zM648 306h4v4h-4zM448 378h4v4h-4zM436 382h4v4h-4zM460 382h4v4h-4zM432 386h4v4h-4zM464 386h4v4h-4zM436 394h4v4h-4zM456 394h4v4h-4z"/><path fill="#900000" d="M616 258h8v4h-8zM632 286h4v4h-4zM632 290h8v4h-8zM632 294h12v4h-12zM632 298h12v4h-12zM632 302h16v4h-16zM444 386h12v4h-12zM444 390h12v4h-12z"/><path fill="#ff3000" d="M628 258h4v4h-4zM640 274h4v4h-4zM644 278h4v4h-4zM648 282h4v4h-4zM616 286h4v4h-4zM652 286h4v4h-4zM620 294h4v4h-4zM624 302h4v4h-4zM640 310h4v4h-4zM448 374h4v4h-4zM436 378h4v4h-4zM428 394h4v4h-4zM464 394h4v4h-4z"/></g><path fill="#fff" d="M124.0 54.0 L353.9 54.0 L353.9 58.8 L351.0 58.8 L351.0 63.2 L342.7 63.2 L342.7 67.0 L335.9 67.0 L335.9 70.9 L333.0 70.9 L333.0 75.8 L326.2 75.8 L326.2 80.2 L319.4 80.2 L319.4 84.0 L312.2 84.0 L312.2 87.9 L304.9 87.9 L304.9 92.8 L297.1 92.8 L297.1 96.7 L294.2 96.7 L294.2 101.0 L286.9 101.0 L287.0 110.0 L294.0 110.0 L294.0 106.0 L312.0 106.0 L312.0 118.0 L305.0 118.0 L305.0 149.7 L307.7 149.7 L307.7 156.0 L301.0 156.0 L301.0 161.0 L296.3 161.0 L296.3 165.0 L294.0 165.0 L294.0 173.0 L290.2 173.0 L290.2 187.0 L288.3 187.0 L288.3 216.0 L286.6 216.0 L286.6 220.0 L274.0 220.0 L274.0 222.0 L250.0 222.0 L250.0 222.5 L240.3 222.5 L240.3 224.5 L228.0 224.5 L228.0 226.0 L216.0 226.0 L216.0 227.7 L216.0 232.0 L212.3 232.0 L212.3 236.2 L208.6 236.2 L208.6 240.5 L204.8 240.5 L204.8 244.7 L201.1 244.7 L201.1 249.0 L197.4 249.0 L197.4 253.3 L193.7 253.3 L193.7 257.5 L190.0 257.5 L190.0 261.8 L186.2 261.8 L186.2 266.0 L182.5 266.0 L182.5 270.3 L178.8 270.3 L178.8 274.6 L175.1 274.6 L175.1 278.8 L171.4 278.8 L171.4 283.1 L167.6 283.1 L167.6 287.3 L163.9 287.3 L163.9 291.6 L160.2 291.6 L160.2 295.9 L156.5 295.9 L156.5 300.1 L152.8 300.1 L152.8 304.4 L149.0 304.4 L149.0 308.6 L145.3 308.6 L144.9 309.0 L145.2 316.8 L152.4 316.8 L152.4 333.7 L145.2 333.7 L145.2 338.8 L152.4 338.8 L152.4 355.7 L153.0 355.7 L153.0 367.3 L149.8 367.3 L149.8 372.6 L145.2 372.6 L145.2 383.0 L141.4 383.0 L141.4 390.0 L138.7 390.0 L138.7 432.0 L141.4 432.0 L141.4 440.0 L141.4 445.0 L138.0 453.0 L133.0 458.0 L127.8 462.0 L124.0 465.0Z"/><path d="M347.5 55.9 L335.0 67.8 L316.2 79.0 L295.0 90.9 L288.8 96.5 L282.5 104.0 L280.0 109.5 L285.3 114.7 L291.6 111.6 L296.8 115.8 L302.1 112.6 L303.2 129.5 L301.1 142.1 L296.8 153.7 L284.2 155.8 L286.3 162.1 L292.6 165.3 L289.5 172.6 L287.4 190.5 L285.3 205.3 L281.1 217.9 L273.7 221.7 L258.9 223.2 L240.0 226.3 L216.8 227.5 L203.2 232.1 L194.2 239.3 L191.9 246.8 L184.0 255.8 L174.9 266.0 L165.9 277.4 L158.0 286.4 L152.3 295.5 L151.0 302.0 L144.0 303.9 L142.7 313.0 L147.2 329.8 L142.7 334.3 L144.6 340.1 L147.8 360.8 L145.9 367.3 L144.6 370.0 L136.2 390.7 L135.5 403.0 L133.6 411.4 L136.8 433.4 L138.8 436.7 L136.8 442.5 L130.0 452.0 L124.0 460.0M124.0 144.0 L134.0 147.8 L142.8 148.5 L149.0 151.5 L157.8 151.5 L165.2 150.2 L161.5 146.5 L170.2 135.2 L181.5 142.0 L189.0 141.0 L194.0 135.2 L206.5 129.0 L214.0 127.0 L225.2 120.2 L239.0 116.0 L248.4 115.8 L254.7 114.7 L265.3 118.9 L277.9 124.2 L286.3 131.6 L289.5 142.1 L290.5 153.7 L284.2 155.8M283.1 54.0 L280.0 76.5 L281.2 96.5 L291.2 97.1M292.5 54.0 L291.9 72.8 L297.5 77.8 L298.8 86.5 L315.0 77.8 L340.0 62.8 L350.0 54.0M325.3 54.0 L330.6 59.3 L329.6 54.0M325.5 54.0 L325.7 64.6 L320.4 61.2 L312.6 64.1 L310.2 70.9 L316.0 75.8M189.7 189.8 L205.1 193.1 L210.6 196.4 L201.8 200.8 L200.7 211.8 L215.0 219.5 L213.9 226.2 L193.0 232.8 L191.9 239.4 L186.4 250.4 L183.1 247.1 L180.9 242.7 L171.0 249.3 L165.5 250.4 L166.6 239.4 L172.1 232.8 L185.3 228.4 L185.3 214.0 L176.5 205.2 L177.6 197.5 L189.7 189.8M184.2 257.0 L169.9 262.5 L161.0 269.1 L158.9 280.1 L166.6 273.5 L178.7 262.5 L184.2 257.0M124.0 403.0 L135.5 403.0" stroke="#000" stroke-width="1.1" fill="none" stroke-linejoin="round"/><path d="M548.6 54.0L548.6 53.2M562.8 54.0L562.8 53.2M576.9 54.0L576.9 49.5M591.1 54.0L591.1 49.5M605.2 54.0L605.2 49.5M619.4 54.0L619.4 49.5M633.5 54.0L633.5 52.4M647.7 54.0L647.7 52.4M661.8 54.0L661.8 53.2M676.0 54.0L676.0 53.2M548.6 70.9L548.6 71.7M562.8 70.9L561.1 69.2M576.9 70.9L575.2 66.8M591.1 70.9L588.6 64.9M605.2 70.9L605.2 66.4M619.4 70.9L619.4 64.4M633.5 70.9L631.8 69.2M647.7 70.9L646.6 69.8M661.8 70.9L661.8 71.7M676.0 70.9L676.0 70.1M548.6 87.9L547.8 87.9M562.8 87.9L562.8 88.7M576.9 87.9L576.9 83.4M591.1 87.9L591.1 83.4M605.2 87.9L605.2 83.4M619.4 87.9L619.4 84.7M633.5 87.9L631.8 86.2M647.7 87.9L646.6 86.8M661.8 87.9L660.9 85.7M676.0 87.9L676.0 86.3M548.6 104.9L549.4 104.9M562.8 104.9L562.2 105.4M576.9 104.9L576.9 103.3M591.1 104.9L591.1 101.7M605.2 104.9L605.2 100.4M619.4 104.9L619.4 102.5M633.5 104.9L634.8 101.9M647.7 104.9L649.4 103.2M661.8 104.9L663.1 101.9M676.0 104.9L676.9 102.7M548.6 121.8L548.6 121.0M562.8 121.8L562.8 120.2M576.9 121.8L576.9 120.2M591.1 121.8L592.0 119.6M605.2 121.8L607.0 117.7M619.4 121.8L621.9 115.8M633.5 121.8L635.2 120.1M647.7 121.8L650.0 119.6M661.8 121.8L664.1 119.6M676.0 121.8L678.3 119.6M548.6 138.8L548.6 137.2M562.8 138.8L562.8 137.2M576.9 138.8L576.9 137.2M591.1 138.8L591.1 136.4M605.2 138.8L605.2 135.6M619.4 138.8L619.4 134.3M633.5 138.8L634.8 135.9M647.7 138.8L650.9 135.6M661.8 138.8L665.0 135.6M676.0 138.8L679.2 135.6M548.6 155.8L548.6 156.6M562.8 155.8L564.4 155.8M576.9 155.8L576.9 154.2M591.1 155.8L591.1 153.4M605.2 155.8L605.2 151.3M619.4 155.8L619.4 151.3M633.5 155.8L634.8 152.8M647.7 155.8L649.4 151.6M661.8 155.8L663.1 152.8M676.0 155.8L677.2 152.8M548.6 172.7L547.0 172.7M562.8 172.7L564.4 172.7M576.9 172.7L576.9 171.1M591.1 172.7L591.1 170.3M605.2 172.7L605.2 168.2M619.4 172.7L619.4 166.2M633.5 172.7L633.5 168.2M647.7 172.7L647.7 168.2M661.8 172.7L661.8 169.5M676.0 172.7L676.0 169.5M407.1 54.0L408.2 55.1M421.2 54.0L421.2 55.6M435.4 54.0L434.8 55.4M449.5 54.0L446.6 55.2M463.7 54.0L457.2 54.0M477.8 54.0L476.1 58.1M492.0 54.0L492.0 76.5M506.2 54.0L506.2 66.5M520.3 54.0L520.3 56.4M534.5 54.0L531.3 54.0M407.1 70.9L411.6 70.9M421.2 70.9L425.8 75.5M435.4 70.9L436.6 73.9M449.5 70.9L449.5 75.4M463.7 70.9L463.7 74.1M477.8 70.9L477.8 71.7M492.0 70.9L492.0 77.4M506.2 70.9L506.2 77.4M520.3 70.9L520.3 74.1M534.5 70.9L534.5 73.3M407.1 87.9L407.1 88.7M421.2 87.9L423.5 90.2M435.4 87.9L438.6 95.8M449.5 87.9L449.5 96.4M463.7 87.9L463.7 91.1M477.8 87.9L476.9 90.1M492.0 87.9L490.3 92.1M506.2 87.9L506.2 92.4M520.3 87.9L520.3 92.4M534.5 87.9L534.5 91.1M407.1 104.9L407.1 105.7M421.2 104.9L422.0 104.9M435.4 104.9L435.4 115.4M449.5 104.9L449.5 113.4M463.7 104.9L463.7 108.1M477.8 104.9L476.6 107.8M492.0 104.9L490.8 107.8M506.2 104.9L506.2 108.1M520.3 104.9L520.3 108.1M534.5 104.9L534.5 107.3M407.1 121.8L404.7 121.8M421.2 121.8L419.5 123.5M435.4 121.8L435.4 128.3M449.5 121.8L449.5 128.3M463.7 121.8L463.7 128.3M477.8 121.8L476.1 126.0M492.0 121.8L489.7 124.1M506.2 121.8L504.9 124.8M520.3 121.8L519.2 123.0M534.5 121.8L533.9 122.4M407.1 138.8L404.1 140.0M421.2 138.8L418.3 140.0M435.4 138.8L429.4 144.8M449.5 138.8L444.9 143.4M463.7 138.8L462.0 143.0M477.8 138.8L477.8 147.3M492.0 138.8L489.5 144.8M506.2 138.8L503.9 141.1M520.3 138.8L518.8 139.4M534.5 138.8L533.7 139.1M407.1 155.8L407.1 166.3M421.2 155.8L419.5 159.9M435.4 155.8L432.2 159.0M449.5 155.8L444.9 160.4M463.7 155.8L456.3 163.2M477.8 155.8L470.4 163.2M492.0 155.8L489.5 161.8M506.2 155.8L506.2 157.4M520.3 155.8L519.7 156.3M534.5 155.8L534.5 155.0M407.1 172.7L407.1 175.9M421.2 172.7L421.2 175.9M435.4 172.7L435.4 175.9M449.5 172.7L449.5 175.9M463.7 172.7L463.7 175.9M477.8 172.7L477.8 175.9M492.0 172.7L492.0 174.3M506.2 172.7L505.4 172.7M520.3 172.7L518.1 171.8M534.5 172.7L532.1 172.7M364.6 54.0L364.6 53.2M378.8 54.0L378.8 53.2M392.9 54.0L392.9 53.2M336.3 70.9L338.0 69.2M350.5 70.9L348.2 70.0M364.6 70.9L363.0 70.9M378.8 70.9L381.2 70.9M392.9 70.9L395.2 68.7M308.0 87.9L314.0 85.4M322.2 87.9L323.8 87.9M336.3 87.9L336.3 90.3M350.5 87.9L350.5 90.3M364.6 87.9L364.6 86.3M378.8 87.9L378.8 84.7M392.9 87.9L394.6 86.2M293.8 104.9L292.2 104.9M308.0 104.9L309.6 104.9M322.2 104.9L323.4 107.8M336.3 104.9L336.3 108.1M350.5 104.9L356.5 107.4M364.6 104.9L365.4 104.9M378.8 104.9L380.0 101.9M392.9 104.9L394.1 101.9M308.0 121.8L341.1 135.5M322.2 121.8L355.2 135.5M336.3 121.8L377.1 121.8M350.5 121.8L372.5 121.8M364.6 121.8L379.0 121.8M378.8 121.8L378.8 118.6M392.9 121.8L389.7 121.8M308.0 138.8L332.0 128.9M322.2 138.8L355.2 152.5M336.3 138.8L372.1 138.8M350.5 138.8L363.7 133.3M364.6 138.8L385.0 147.2M378.8 138.8L400.8 138.8M392.9 138.8L407.3 138.8M308.0 155.8L343.8 155.8M322.2 155.8L350.0 167.3M336.3 155.8L360.3 165.7M350.5 155.8L360.6 165.9M364.6 155.8L376.3 155.8M378.8 155.8L397.2 155.8M392.9 155.8L411.3 155.8M293.8 172.7L315.9 172.7M308.0 172.7L332.0 182.7M322.2 172.7L335.4 178.2M336.3 172.7L349.3 185.8M350.5 172.7L368.8 191.1M364.6 172.7L386.7 172.7M378.8 172.7L378.8 171.1M392.9 172.7L391.7 175.7M251.4 223.6L263.0 223.6M208.9 240.6L229.3 232.2M223.1 240.6L241.5 240.6M237.2 240.6L255.6 240.6M251.4 240.6L273.4 240.6M194.8 257.6L213.1 239.2M208.9 257.6L232.9 247.6M223.1 257.6L245.1 257.6M237.2 257.6L251.6 257.6M251.4 257.6L268.4 264.6M180.6 274.5L199.0 256.2M194.8 274.5L222.6 263.0M208.9 274.5L231.0 274.5M223.1 274.5L234.7 274.5M237.2 274.5L252.8 290.1M251.4 274.5L276.7 299.9M166.5 291.5L186.8 283.1M180.6 291.5L201.0 283.1M194.8 291.5L216.8 291.5M208.9 291.5L208.9 289.9M223.1 291.5L234.7 291.5M237.2 291.5L252.8 307.1M251.4 291.5L280.2 320.4M152.3 308.5L158.8 308.5M166.5 308.5L168.7 306.2M180.6 308.5L201.0 300.1M194.8 308.5L213.2 308.5M208.9 308.5L220.6 308.5M223.1 308.5L234.7 308.5M237.2 308.5L257.6 316.9M251.4 308.5L272.7 329.8M293.8 189.7L315.9 189.7M308.0 189.7L321.0 202.7M322.2 189.7L342.5 198.1M336.3 189.7L356.7 198.1M350.5 189.7L372.5 189.7M364.6 189.7L383.0 189.7M378.8 189.7L390.4 189.7M392.9 189.7L398.2 189.7M293.8 206.7L326.9 220.4M308.0 206.7L345.7 222.3M322.2 206.7L355.2 220.4M336.3 206.7L360.3 216.6M350.5 206.7L372.5 206.7M364.6 206.7L381.6 199.6M378.8 206.7L390.4 206.7M392.9 206.7L398.2 206.7M265.5 223.6L282.5 230.7M279.7 223.6L315.5 223.6M293.8 223.6L322.7 252.5M308.0 223.6L329.3 245.0M322.2 223.6L337.7 239.2M336.3 223.6L353.3 230.7M350.5 223.6L372.5 223.6M364.6 223.6L372.8 215.4M378.8 223.6L381.2 223.6M392.9 223.6L395.2 221.4M265.5 240.6L289.5 250.5M279.7 240.6L301.0 261.9M293.8 240.6L315.2 261.9M308.0 240.6L323.6 256.2M322.2 240.6L335.4 246.1M336.3 240.6L342.3 243.1M350.5 240.6L357.0 240.6M364.6 240.6L366.1 240.0M378.8 240.6L379.7 238.4M392.9 240.6L392.9 239.8M265.5 257.6L286.9 278.9M279.7 257.6L300.1 266.0M293.8 257.6L314.2 266.0M308.0 257.6L325.0 264.6M322.2 257.6L324.4 259.8M336.3 257.6L336.3 259.2M350.5 257.6L351.0 258.1M364.6 257.6L364.6 256.0M378.8 257.6L378.8 258.4M392.9 257.6L392.0 259.8M265.5 274.5L290.9 299.9M279.7 274.5L296.7 281.6M293.8 274.5L307.1 280.0M308.0 274.5L312.5 274.5M322.2 274.5L324.4 276.8M336.3 274.5L338.0 276.2M350.5 274.5L352.7 275.5M364.6 274.5L366.2 274.5M378.8 274.5L378.8 276.1M392.9 274.5L391.7 277.5M265.5 291.5L281.1 307.1M279.7 291.5L296.7 298.6M293.8 291.5L301.7 294.8M308.0 291.5L310.2 292.4M322.2 291.5L324.4 292.4M336.3 291.5L338.0 293.2M350.5 291.5L352.2 293.2M364.6 291.5L366.3 293.2M378.8 291.5L379.7 293.7M392.9 291.5L392.9 294.7M265.5 308.5L282.5 315.5M279.7 308.5L289.8 318.6M293.8 308.5L296.8 309.7M308.0 308.5L311.0 309.7M322.2 308.5L324.4 310.7M336.3 308.5L339.3 309.7M350.5 308.5L353.4 309.7M364.6 308.5L369.1 308.5M378.8 308.5L382.9 310.2M392.9 308.5L397.1 310.2M407.1 189.7L409.3 192.0M421.2 189.7L424.4 192.9M435.4 189.7L437.1 193.9M449.5 189.7L452.0 195.7M463.7 189.7L466.9 192.9M477.8 189.7L477.8 191.3M492.0 189.7L491.4 191.2M506.2 189.7L504.5 191.4M520.3 189.7L518.1 190.6M534.5 189.7L532.1 189.7M407.1 206.7L411.6 206.7M421.2 206.7L427.2 209.2M435.4 206.7L441.4 212.7M449.5 206.7L455.5 212.7M463.7 206.7L466.2 212.7M477.8 206.7L477.8 209.9M492.0 206.7L488.8 209.9M506.2 206.7L501.6 211.3M520.3 206.7L517.3 207.9M534.5 206.7L531.3 206.7M407.1 223.6L409.5 223.6M421.2 223.6L422.1 225.9M435.4 223.6L435.4 230.1M449.5 223.6L449.5 232.1M463.7 223.6L463.7 232.1M477.8 223.6L475.4 229.7M492.0 223.6L492.0 230.1M506.2 223.6L504.4 227.8M520.3 223.6L517.9 223.6M534.5 223.6L531.3 223.6M407.1 240.6L406.5 242.1M421.2 240.6L420.0 243.6M435.4 240.6L435.4 247.1M449.5 240.6L449.5 249.1M463.7 240.6L475.4 252.3M477.8 240.6L477.8 249.1M492.0 240.6L492.0 243.0M506.2 240.6L506.2 243.0M520.3 240.6L522.6 242.9M534.5 240.6L537.7 240.6M407.1 257.6L404.8 259.8M421.2 257.6L419.0 259.8M435.4 257.6L426.8 278.4M449.5 257.6L444.8 269.1M463.7 257.6L449.2 257.6M477.8 257.6L477.8 266.1M492.0 257.6L493.7 261.7M506.2 257.6L516.7 257.6M520.3 257.6L524.5 255.9M534.5 257.6L533.2 260.5M407.1 274.5L405.9 277.5M421.2 274.5L416.6 279.1M435.4 274.5L430.8 279.1M449.5 274.5L449.5 289.0M463.7 274.5L463.7 276.9M477.8 274.5L477.8 276.1M492.0 274.5L492.0 279.0M506.2 274.5L505.2 276.8M520.3 274.5L510.1 284.8M534.5 274.5L518.9 290.1M407.1 291.5L407.1 296.0M421.2 291.5L421.2 296.0M435.4 291.5L437.6 293.8M449.5 291.5L448.9 293.0M463.7 291.5L463.7 296.0M477.8 291.5L485.3 298.9M492.0 291.5L488.0 301.2M506.2 291.5L494.5 303.2M520.3 291.5L504.7 307.1M534.5 291.5L509.1 316.8M407.1 308.5L409.3 310.7M421.2 308.5L422.5 311.4M435.4 308.5L439.9 308.5M449.5 308.5L452.7 311.7M463.7 308.5L482.1 308.5M477.8 308.5L486.3 308.5M492.0 308.5L492.0 334.4M506.2 308.5L484.8 329.8M520.3 308.5L506.6 341.6M534.5 308.5L518.8 346.2M548.6 189.7L546.2 189.7M562.8 189.7L561.1 188.0M576.9 189.7L576.9 187.3M591.1 189.7L591.1 186.5M605.2 189.7L605.2 186.5M619.4 189.7L619.4 186.5M633.5 189.7L633.5 186.5M647.7 189.7L646.0 188.0M661.8 189.7L657.7 188.0M676.0 189.7L670.0 183.7M548.6 206.7L546.9 205.0M562.8 206.7L561.1 205.0M576.9 206.7L576.9 203.5M591.1 206.7L591.1 202.2M605.2 206.7L605.2 200.2M619.4 206.7L619.4 196.2M633.5 206.7L638.1 202.1M647.7 206.7L670.2 206.7M661.8 206.7L667.8 204.2M676.0 206.7L680.2 205.0M548.6 223.6L545.4 223.6M562.8 223.6L561.2 223.6M576.9 223.6L575.2 221.9M591.1 223.6L589.4 221.9M605.2 223.6L584.4 215.0M619.4 223.6L619.4 215.1M633.5 223.6L633.5 215.1M647.7 223.6L647.7 213.1M661.8 223.6L661.8 222.0M676.0 223.6L672.8 223.6M548.6 240.6L545.4 240.6M562.8 240.6L559.8 241.8M576.9 240.6L556.8 260.8M591.1 240.6L573.8 257.9M605.2 240.6L589.6 202.9M619.4 240.6L600.1 194.1M633.5 240.6L617.9 202.9M647.7 240.6L647.7 204.8M661.8 240.6L661.8 214.7M676.0 240.6L676.0 222.2M548.6 257.6L527.3 278.9M562.8 257.6L533.9 286.4M576.9 257.6L558.6 275.9M591.1 257.6L586.5 253.0M605.2 257.6L585.9 211.0M619.4 257.6L594.1 196.6M633.5 257.6L614.3 211.0M647.7 257.6L632.1 219.9M661.8 257.6L636.5 232.3M676.0 257.6L657.6 239.2M548.6 274.5L516.8 306.4M562.8 274.5L549.1 307.6M576.9 274.5L569.5 267.1M591.1 274.5L585.1 268.5M605.2 274.5L576.4 245.7M619.4 274.5L596.2 218.6M633.5 274.5L610.4 218.6M647.7 274.5L612.1 238.9M661.8 274.5L633.0 245.7M676.0 274.5L650.7 249.2M548.6 291.5L534.9 324.6M562.8 291.5L560.5 293.8M576.9 291.5L567.2 295.5M591.1 291.5L579.5 286.7M605.2 291.5L593.7 263.7M619.4 291.5L597.8 239.3M633.5 291.5L586.8 244.8M647.7 291.5L604.9 248.7M661.8 291.5L626.2 255.9M676.0 291.5L647.1 262.7M548.6 308.5L538.7 332.5M562.8 308.5L558.6 310.2M576.9 308.5L570.9 311.0M591.1 308.5L587.9 305.3M605.2 308.5L598.9 293.2M619.4 308.5L603.8 270.8M633.5 308.5L610.4 252.6M647.7 308.5L604.9 265.7M661.8 308.5L630.0 276.7M676.0 308.5L647.1 279.6M152.3 325.5L174.3 325.5M166.5 325.5L186.8 317.0M180.6 325.5L191.4 321.0M194.8 325.5L208.2 331.0M208.9 325.5L222.2 330.9M223.1 325.5L236.1 338.5M237.2 325.5L252.8 341.0M251.4 325.5L267.0 341.0M152.3 342.4L176.3 332.5M166.5 342.4L188.5 342.4M180.6 342.4L193.9 347.9M194.8 342.4L206.4 342.4M208.9 342.4L219.1 352.6M223.1 342.4L238.7 358.0M237.2 342.4L252.8 358.0M251.4 342.4L269.8 342.4M152.3 359.4L176.3 349.5M166.5 359.4L194.3 370.9M180.6 359.4L204.6 369.3M194.8 359.4L215.1 367.8M208.9 359.4L224.5 375.0M223.1 359.4L243.4 367.8M237.2 359.4L259.3 359.4M251.4 359.4L265.7 359.4M152.3 376.4L180.2 364.8M166.5 376.4L204.2 392.0M180.6 376.4L218.3 392.0M194.8 376.4L222.6 387.9M208.9 376.4L232.9 386.3M223.1 376.4L243.4 384.8M237.2 376.4L254.2 383.4M251.4 376.4L265.7 376.4M138.2 393.3L158.5 384.9M152.3 393.3L188.1 393.3M166.5 393.3L211.5 393.3M180.6 393.3L225.6 393.3M194.8 393.3L227.9 407.0M208.9 393.3L232.9 403.3M223.1 393.3L243.4 401.8M237.2 393.3L251.6 393.3M251.4 393.3L263.0 393.3M138.2 410.3L153.7 394.7M152.3 410.3L193.1 410.3M166.5 410.3L216.9 410.3M180.6 410.3L221.4 410.3M194.8 410.3L213.1 428.6M208.9 410.3L224.5 425.9M223.1 410.3L236.3 415.8M237.2 410.3L248.0 414.7M251.4 410.3L263.0 410.3M138.2 427.3L146.6 406.9M152.3 427.3L177.6 401.9M166.5 427.3L204.2 411.6M180.6 427.3L191.1 427.3M194.8 427.3L199.4 431.9M208.9 427.3L213.5 431.9M223.1 427.3L226.3 430.4M237.2 427.3L237.2 431.8M251.4 427.3L251.4 433.8M152.3 444.2L184.1 412.4M166.5 444.2L192.4 444.2M180.6 444.2L197.6 437.2M194.8 444.2L198.0 447.4M208.9 444.2L210.6 448.4M223.1 444.2L223.1 448.7M237.2 444.2L237.2 448.7M251.4 444.2L249.7 448.4M265.5 325.5L275.2 329.5M279.7 325.5L287.5 328.7M293.8 325.5L297.0 325.5M308.0 325.5L311.2 325.5M322.2 325.5L325.1 326.7M336.3 325.5L340.8 325.5M350.5 325.5L357.0 325.5M364.6 325.5L369.1 325.5M378.8 325.5L380.0 328.4M392.9 325.5L395.9 326.7M265.5 342.4L272.0 342.4M279.7 342.4L284.2 342.4M293.8 342.4L298.3 342.4M308.0 342.4L311.2 342.4M322.2 342.4L325.4 342.4M336.3 342.4L342.8 342.4M350.5 342.4L353.4 341.2M364.6 342.4L370.6 344.9M378.8 342.4L382.9 340.7M392.9 342.4L397.5 347.0M265.5 359.4L270.0 359.4M279.7 359.4L282.9 359.4M293.8 359.4L298.3 359.4M308.0 359.4L312.2 361.1M322.2 359.4L325.1 360.6M336.3 359.4L342.8 359.4M350.5 359.4L355.0 359.4M364.6 359.4L369.1 359.4M378.8 359.4L370.2 380.2M392.9 359.4L384.5 339.0M265.5 376.4L272.0 376.4M279.7 376.4L288.2 376.4M293.8 376.4L304.3 376.4M308.0 376.4L318.5 376.4M322.2 376.4L330.0 379.6M336.3 376.4L348.8 376.4M350.5 376.4L358.3 379.6M364.6 376.4L367.9 384.2M378.8 376.4L338.0 376.4M392.9 376.4L374.5 376.4M265.5 393.3L278.0 393.3M279.7 393.3L292.2 393.3M293.8 393.3L308.3 393.3M308.0 393.3L321.4 398.9M322.2 393.3L337.4 399.6M336.3 393.3L355.2 401.2M350.5 393.3L370.8 401.8M364.6 393.3L374.5 417.3M378.8 393.3L425.3 374.0M392.9 393.3L413.3 384.9M265.5 410.3L268.7 413.5M279.7 410.3L286.2 410.3M293.8 410.3L299.9 407.8M308.0 410.3L317.7 414.3M322.2 410.3L339.2 417.4M336.3 410.3L349.4 423.4M350.5 410.3L358.9 430.7M364.6 410.3L373.0 430.7M378.8 410.3L420.3 393.1M392.9 410.3L365.1 421.8M265.5 427.3L264.6 429.5M279.7 427.3L278.0 429.0M293.8 427.3L290.6 427.3M308.0 427.3L305.6 427.3M322.2 427.3L319.8 427.3M336.3 427.3L340.3 437.0M350.5 427.3L360.4 451.2M364.6 427.3L356.2 447.6M378.8 427.3L370.3 447.6M392.9 427.3L401.4 447.6M265.5 444.2L265.5 447.4M279.7 444.2L280.9 447.2M293.8 444.2L296.1 446.5M308.0 444.2L311.2 444.2M322.2 444.2L324.6 444.2M336.3 444.2L336.3 446.6M350.5 444.2L350.5 470.2M364.6 444.2L356.2 464.6M378.8 444.2L370.3 464.6M392.9 444.2L392.9 466.3M407.1 325.5L410.3 328.6M421.2 325.5L443.3 325.5M435.4 325.5L480.4 325.5M449.5 325.5L481.4 357.3M463.7 325.5L485.7 325.5M477.8 325.5L493.4 341.0M492.0 325.5L476.4 363.2M506.2 325.5L494.6 353.3M520.3 325.5L506.6 358.5M534.5 325.5L520.8 358.5M407.1 342.4L422.7 326.8M421.2 342.4L432.0 338.0M435.4 342.4L441.4 339.9M449.5 342.4L451.8 344.7M463.7 342.4L445.3 360.8M477.8 342.4L493.5 380.1M492.0 342.4L492.0 383.2M506.2 342.4L490.5 380.1M520.3 342.4L520.3 372.6M534.5 342.4L534.5 368.4M407.1 359.4L383.1 369.3M421.2 359.4L397.3 369.3M435.4 359.4L402.3 373.1M449.5 359.4L420.7 388.2M463.7 359.4L438.4 384.7M477.8 359.4L464.1 392.5M492.0 359.4L492.0 404.4M506.2 359.4L490.5 397.1M520.3 359.4L508.8 387.2M534.5 359.4L526.0 379.7M407.1 376.4L429.1 376.4M421.2 376.4L383.5 392.0M435.4 376.4L388.8 395.6M449.5 376.4L409.6 416.3M463.7 376.4L428.1 412.0M477.8 376.4L462.2 414.1M492.0 376.4L476.4 414.1M506.2 376.4L480.8 401.7M520.3 376.4L504.7 391.9M534.5 376.4L517.5 383.4M407.1 393.3L374.0 407.0M421.2 393.3L374.7 412.6M435.4 393.3L379.5 416.5M449.5 393.3L402.8 440.0M463.7 393.3L420.9 436.1M477.8 393.3L442.2 429.0M492.0 393.3L463.1 422.2M506.2 393.3L478.3 404.9M520.3 393.3L498.3 393.3M534.5 393.3L520.1 393.3M407.1 410.3L395.5 438.1M421.2 410.3L407.5 443.4M435.4 410.3L421.7 443.4M449.5 410.3L421.7 421.8M463.7 410.3L459.1 414.9M477.8 410.3L473.2 414.9M492.0 410.3L490.3 412.0M506.2 410.3L503.8 410.3M520.3 410.3L514.3 407.8M534.5 410.3L531.3 407.1M407.1 427.3L407.1 437.8M421.2 427.3L421.2 431.8M435.4 427.3L437.1 429.0M449.5 427.3L455.1 440.7M463.7 427.3L466.2 433.3M477.8 427.3L481.0 430.4M492.0 427.3L493.7 429.0M506.2 427.3L505.2 429.5M520.3 427.3L517.1 427.3M534.5 427.3L528.5 424.8M407.1 444.2L408.3 447.2M421.2 444.2L429.7 464.6M435.4 444.2L442.4 461.2M449.5 444.2L451.3 448.4M463.7 444.2L465.4 448.4M477.8 444.2L481.0 447.4M492.0 444.2L499.9 447.5M506.2 444.2L514.0 447.5M520.3 444.2L528.2 447.5M534.5 444.2L538.6 445.9M548.6 325.5L548.6 348.0M562.8 325.5L566.0 333.3M576.9 325.5L583.4 325.5M591.1 325.5L606.7 309.9M605.2 325.5L618.2 312.4M619.4 325.5L619.4 303.4M633.5 325.5L633.5 307.1M647.7 325.5L640.7 308.5M661.8 325.5L643.5 307.1M676.0 325.5L647.1 296.6M548.6 342.4L560.3 354.1M562.8 342.4L579.9 349.5M576.9 342.4L597.3 334.0M591.1 342.4L611.4 334.0M605.2 342.4L629.2 332.5M619.4 342.4L630.9 337.6M633.5 342.4L638.0 342.4M647.7 342.4L650.9 339.2M661.8 342.4L658.7 339.2M676.0 342.4L668.6 335.0M548.6 359.4L562.0 364.9M562.8 359.4L570.6 356.1M576.9 359.4L585.4 359.4M591.1 359.4L598.9 356.1M605.2 359.4L613.1 356.1M619.4 359.4L625.9 359.4M633.5 359.4L639.5 361.9M647.7 359.4L655.1 366.8M661.8 359.4L666.0 361.1M676.0 359.4L680.5 359.4M548.6 376.4L545.4 379.5M562.8 376.4L561.2 376.4M576.9 376.4L579.2 374.1M591.1 376.4L594.3 373.2M605.2 376.4L606.9 374.7M619.4 376.4L621.8 376.4M633.5 376.4L635.3 380.5M647.7 376.4L651.7 386.1M661.8 376.4L669.3 383.8M676.0 376.4L679.2 379.5M548.6 393.3L545.4 393.3M562.8 393.3L558.2 388.7M576.9 393.3L570.9 387.3M591.1 393.3L586.5 388.7M605.2 393.3L602.8 393.3M619.4 393.3L618.2 396.3M633.5 393.3L633.5 401.8M647.7 393.3L651.7 403.0M661.8 393.3L667.8 395.8M676.0 393.3L680.2 395.0M548.6 410.3L545.4 407.1M562.8 410.3L558.2 405.7M576.9 410.3L570.9 404.3M591.1 410.3L583.2 407.0M605.2 410.3L601.1 412.0M619.4 410.3L619.4 416.8M633.5 410.3L637.6 420.0M647.7 410.3L650.9 413.5M661.8 410.3L666.3 410.3M676.0 410.3L680.5 410.3M548.6 427.3L545.4 424.1M562.8 427.3L563.4 425.8M576.9 427.3L578.5 427.3M591.1 427.3L592.7 427.3M605.2 427.3L607.5 429.5M619.4 427.3L625.4 433.3M633.5 427.3L638.1 431.9M647.7 427.3L653.7 429.7M661.8 427.3L670.3 427.3M676.0 427.3L682.5 427.3M548.6 444.2L551.8 441.0M562.8 444.2L562.8 443.4M576.9 444.2L579.9 445.5M591.1 444.2L598.9 447.5M605.2 444.2L614.9 448.2M619.4 444.2L632.8 449.8M633.5 444.2L644.0 444.2M647.7 444.2L656.2 444.2M661.8 444.2L670.3 444.2M676.0 444.2L682.5 444.2M124.0 461.2L170.6 441.9M138.2 461.2L179.7 444.0M152.3 461.2L197.3 461.2M166.5 461.2L195.3 490.0M180.6 461.2L196.2 476.8M194.8 461.2L197.3 467.2M208.9 461.2L208.9 475.5M223.1 461.2L214.6 481.6M237.2 461.2L237.2 479.6M251.4 461.2L251.4 475.5M124.0 478.2L161.7 462.5M138.2 478.2L183.1 478.2M152.3 478.2L190.0 493.8M166.5 478.2L190.4 488.1M180.6 478.2L186.1 491.4M194.8 478.2L201.8 495.2M208.9 478.2L218.9 502.1M223.1 478.2L231.5 498.5M237.2 478.2L242.7 491.4M251.4 478.2L258.4 495.2M124.0 495.1L137.3 500.6M138.2 495.1L151.4 500.6M152.3 495.1L162.5 505.3M166.5 495.1L174.7 503.4M180.6 495.1L187.7 512.1M194.8 495.1L204.7 519.1M208.9 495.1L208.9 525.3M223.1 495.1L231.5 515.5M237.2 495.1L245.7 515.5M251.4 495.1L259.8 515.5M124.0 512.1L132.2 520.3M138.2 512.1L141.3 515.3M152.3 512.1L160.7 532.5M166.5 512.1L166.5 538.1M180.6 512.1L180.6 542.2M194.8 512.1L194.8 542.2M208.9 512.1L218.9 536.1M223.1 512.1L233.0 536.1M237.2 512.1L245.7 532.5M251.4 512.1L258.4 529.1M124.0 529.1L128.2 530.8M138.2 529.1L141.4 536.9M152.3 529.1L152.3 555.0M166.5 529.1L166.5 564.9M180.6 529.1L180.6 564.9M194.8 529.1L194.8 559.2M208.9 529.1L208.9 551.1M223.1 529.1L233.0 553.0M237.2 529.1L245.7 549.4M251.4 529.1L255.8 539.8M124.0 546.0L130.0 552.0M138.2 546.0L138.2 572.0M152.3 546.0L152.3 581.8M166.5 546.0L166.5 586.8M180.6 546.0L180.6 586.8M194.8 546.0L194.8 576.2M208.9 546.0L208.9 568.1M223.1 546.0L231.5 566.4M237.2 546.0L244.3 563.0M251.4 546.0L258.4 563.0M124.0 563.0L124.0 585.0M138.2 563.0L138.2 589.0M152.3 563.0L152.3 598.8M166.5 563.0L166.5 603.8M180.6 563.0L180.6 598.8M194.8 563.0L194.8 589.0M208.9 563.0L208.9 585.0M223.1 563.0L231.5 583.4M237.2 563.0L244.3 580.0M251.4 563.0L256.9 576.3M265.5 461.2L268.8 469.0M279.7 461.2L281.4 465.4M293.8 461.2L292.2 461.2M308.0 461.2L308.8 461.2M322.2 461.2L322.2 462.0M336.3 461.2L336.3 462.8M350.5 461.2L352.2 465.4M364.6 461.2L380.2 476.8M378.8 461.2L397.1 479.5M392.9 461.2L411.3 479.5M265.5 478.2L270.3 489.7M279.7 478.2L278.5 481.1M293.8 478.2L290.6 478.2M308.0 478.2L299.5 478.2M322.2 478.2L315.7 478.2M336.3 478.2L330.3 475.7M350.5 478.2L349.9 477.6M364.6 478.2L367.9 486.0M378.8 478.2L385.8 495.2M392.9 478.2L392.9 504.1M265.5 495.1L269.6 504.8M279.7 495.1L282.2 501.1M293.8 495.1L297.0 498.3M308.0 495.1L307.2 495.1M322.2 495.1L319.8 495.1M336.3 495.1L330.3 489.1M350.5 495.1L338.8 483.5M364.6 495.1L356.8 498.4M378.8 495.1L365.8 508.1M392.9 495.1L377.3 510.7M265.5 512.1L281.1 527.7M279.7 512.1L303.7 522.0M293.8 512.1L314.2 520.5M308.0 512.1L317.7 516.1M322.2 512.1L342.5 520.5M336.3 512.1L358.3 512.1M350.5 512.1L328.4 512.1M364.6 512.1L342.6 512.1M378.8 512.1L365.5 517.6M392.9 512.1L377.3 527.7M265.5 529.1L278.5 542.1M279.7 529.1L295.3 544.6M293.8 529.1L317.8 539.0M308.0 529.1L328.4 537.5M322.2 529.1L325.4 529.1M336.3 529.1L340.8 529.1M350.5 529.1L367.5 536.1M364.6 529.1L385.0 537.5M378.8 529.1L391.8 542.1M392.9 529.1L387.4 542.3M265.5 546.0L270.1 550.6M279.7 546.0L300.1 554.5M293.8 546.0L317.8 556.0M308.0 546.0L335.8 557.6M322.2 546.0L350.0 557.6M336.3 546.0L356.7 537.6M350.5 546.0L364.8 546.0M364.6 546.0L377.9 551.5M378.8 546.0L391.8 559.0M392.9 546.0L405.9 559.0M265.5 563.0L282.5 570.0M279.7 563.0L303.7 572.9M293.8 563.0L321.7 574.5M308.0 563.0L341.1 576.7M322.2 563.0L355.2 576.7M336.3 563.0L356.7 571.4M350.5 563.0L363.7 568.5M364.6 563.0L381.6 570.0M378.8 563.0L399.1 571.4M392.9 563.0L416.9 572.9M407.1 461.2L415.5 481.6M421.2 461.2L431.2 485.2M435.4 461.2L460.7 486.5M449.5 461.2L465.2 498.9M463.7 461.2L485.0 482.5M477.8 461.2L498.2 469.6M492.0 461.2L512.4 469.6M506.2 461.2L526.5 469.6M520.3 461.2L544.3 471.1M534.5 461.2L554.8 469.6M407.1 478.2L407.1 500.2M421.2 478.2L421.2 500.2M435.4 478.2L445.3 502.1M449.5 478.2L465.2 515.9M463.7 478.2L485.0 499.5M477.8 478.2L498.2 486.6M492.0 478.2L512.4 486.6M506.2 478.2L528.2 478.2M520.3 478.2L537.3 485.2M534.5 478.2L554.8 486.6M407.1 495.1L398.6 515.5M421.2 495.1L421.2 513.5M435.4 495.1L426.9 515.5M449.5 495.1L449.5 521.1M463.7 495.1L472.1 515.5M477.8 495.1L483.9 497.6M492.0 495.1L498.0 497.6M506.2 495.1L509.3 498.3M520.3 495.1L527.7 502.6M534.5 495.1L539.1 499.7M407.1 512.1L400.0 529.1M421.2 512.1L414.2 529.1M435.4 512.1L435.4 530.5M449.5 512.1L458.0 532.5M463.7 512.1L466.9 519.9M477.8 512.1L477.8 516.6M492.0 512.1L490.8 515.1M506.2 512.1L506.2 515.3M520.3 512.1L522.8 518.1M534.5 512.1L539.1 516.7M407.1 529.1L398.8 537.3M421.2 529.1L418.0 536.9M435.4 529.1L439.4 538.8M449.5 529.1L453.6 538.8M463.7 529.1L468.5 540.6M477.8 529.1L481.9 538.8M492.0 529.1L494.3 531.3M506.2 529.1L509.3 532.2M520.3 529.1L522.0 533.2M534.5 529.1L536.2 533.2M407.1 546.0L407.1 552.5M421.2 546.0L421.2 550.5M435.4 546.0L433.7 550.2M449.5 546.0L446.3 553.9M463.7 546.0L463.7 556.5M477.8 546.0L481.9 555.7M492.0 546.0L498.0 552.0M506.2 546.0L510.7 550.6M520.3 546.0L523.6 553.9M534.5 546.0L537.6 549.2M407.1 563.0L407.1 581.4M421.2 563.0L421.2 577.3M435.4 563.0L435.4 574.6M449.5 563.0L449.5 574.6M463.7 563.0L463.7 585.0M477.8 563.0L477.8 581.4M492.0 563.0L492.0 577.3M506.2 563.0L506.2 585.0M520.3 563.0L520.3 585.0M534.5 563.0L534.5 598.8M548.6 461.2L569.0 469.6M562.8 461.2L566.9 462.9M576.9 461.2L578.6 462.9M591.1 461.2L594.3 464.4M605.2 461.2L611.2 467.2M619.4 461.2L629.1 465.2M633.5 461.2L646.0 461.2M647.7 461.2L658.2 461.2M661.8 461.2L670.3 461.2M676.0 461.2L682.5 461.2M548.6 478.2L564.2 493.7M562.8 478.2L578.4 493.7M576.9 478.2L584.3 485.6M591.1 478.2L592.3 481.1M605.2 478.2L606.4 479.3M619.4 478.2L623.5 476.4M633.5 478.2L641.4 474.9M647.7 478.2L655.5 481.4M661.8 478.2L669.7 481.4M676.0 478.2L682.0 480.6M548.6 495.1L561.6 508.1M562.8 495.1L578.4 510.7M576.9 495.1L592.5 510.7M591.1 495.1L608.1 502.2M605.2 495.1L614.9 499.1M619.4 495.1L624.0 490.5M633.5 495.1L639.5 492.6M647.7 495.1L657.4 499.1M661.8 495.1L669.7 498.4M676.0 495.1L682.0 497.6M548.6 512.1L553.2 516.7M562.8 512.1L579.8 519.1M576.9 512.1L593.9 519.1M591.1 512.1L611.4 520.5M605.2 512.1L625.6 520.5M619.4 512.1L636.4 519.1M633.5 512.1L644.0 512.1M647.7 512.1L659.2 516.9M661.8 512.1L671.5 516.1M676.0 512.1L683.9 515.3M548.6 529.1L549.8 532.0M562.8 529.1L567.3 529.1M576.9 529.1L587.4 529.1M591.1 529.1L613.1 529.1M605.2 529.1L625.6 537.5M619.4 529.1L639.7 537.5M633.5 529.1L653.9 537.5M647.7 529.1L664.7 536.1M661.8 529.1L669.7 532.3M676.0 529.1L683.9 532.3M548.6 546.0L584.4 546.0M562.8 546.0L603.6 546.0M576.9 546.0L617.7 546.0M591.1 546.0L628.8 561.6M605.2 546.0L642.9 561.6M619.4 546.0L652.5 559.7M633.5 546.0L661.4 557.6M647.7 546.0L668.1 554.5M661.8 546.0L667.8 548.5M676.0 546.0L682.0 548.5M548.6 563.0L593.6 563.0M562.8 563.0L613.2 563.0M576.9 563.0L621.9 563.0M591.1 563.0L631.9 563.0M605.2 563.0L650.2 563.0M619.4 563.0L669.8 563.0M633.5 563.0L694.1 563.0M647.7 563.0L692.7 563.0M661.8 563.0L687.8 563.0M676.0 563.0L698.0 563.0" stroke="#000" stroke-width="1.2" fill="none"/><path d="M548.6 52.0L550.7 53.2L546.5 53.2ZM562.8 52.0L564.9 53.2L560.7 53.2ZM576.9 44.0L579.0 49.5L574.8 49.5ZM591.1 44.0L593.2 49.5L589.0 49.5ZM605.2 44.0L607.3 49.5L603.1 49.5ZM619.4 44.0L621.5 49.5L617.3 49.5ZM633.5 50.0L635.6 52.4L631.4 52.4ZM647.7 50.0L649.8 52.4L645.6 52.4ZM661.8 52.0L663.9 53.2L659.7 53.2ZM676.0 52.0L678.1 53.2L673.9 53.2ZM548.6 72.9L546.5 71.7L550.7 71.7ZM558.5 66.7L562.6 67.8L559.6 70.7ZM573.1 61.7L577.1 66.0L573.3 67.6ZM586.5 59.9L590.5 64.1L586.6 65.7ZM605.2 60.9L607.3 66.4L603.1 66.4ZM619.4 58.9L621.5 64.4L617.3 64.4ZM629.3 66.7L633.3 67.8L630.4 70.7ZM644.9 68.1L648.0 68.3L645.1 71.3ZM661.8 72.9L659.7 71.7L663.9 71.7ZM676.0 68.9L678.1 70.1L673.9 70.1ZM546.6 87.9L547.8 85.8L547.8 90.0ZM562.8 89.9L560.7 88.7L564.9 88.7ZM576.9 77.9L579.0 83.4L574.8 83.4ZM591.1 77.9L593.2 83.4L589.0 83.4ZM605.2 77.9L607.3 83.4L603.1 83.4ZM619.4 79.9L621.5 84.7L617.3 84.7ZM629.3 83.7L633.3 84.7L630.4 87.7ZM644.9 85.1L648.0 85.3L645.1 88.3ZM659.5 82.4L662.9 84.9L659.0 86.5ZM676.0 83.9L678.1 86.3L673.9 86.3ZM550.6 104.9L549.4 107.0L549.4 102.8ZM561.4 106.3L560.7 104.0L563.7 106.9ZM576.9 100.9L579.0 103.3L574.8 103.3ZM591.1 96.9L593.2 101.7L589.0 101.7ZM605.2 94.9L607.3 100.4L603.1 100.4ZM619.4 98.9L621.5 102.5L617.3 102.5ZM636.6 97.5L636.7 102.7L632.8 101.1ZM651.9 100.6L650.9 104.7L647.9 101.7ZM664.9 97.5L665.0 102.7L661.1 101.1ZM678.3 99.3L678.9 103.5L675.0 101.9ZM548.6 119.8L550.7 121.0L546.5 121.0ZM562.8 117.8L564.9 120.2L560.7 120.2ZM576.9 117.8L579.0 120.2L574.8 120.2ZM593.4 116.3L593.9 120.4L590.1 118.8ZM609.1 112.6L608.9 118.5L605.0 116.9ZM624.0 110.8L623.8 116.6L619.9 115.0ZM637.8 117.6L636.7 121.6L633.7 118.7ZM653.3 116.2L651.4 121.1L648.5 118.1ZM667.5 116.2L665.6 121.1L662.6 118.1ZM681.7 116.2L679.7 121.1L676.8 118.1ZM548.6 134.8L550.7 137.2L546.5 137.2ZM562.8 134.8L564.9 137.2L560.7 137.2ZM576.9 134.8L579.0 137.2L574.8 137.2ZM591.1 132.8L593.2 136.4L589.0 136.4ZM605.2 130.8L607.3 135.6L603.1 135.6ZM619.4 128.8L621.5 134.3L617.3 134.3ZM636.6 131.4L636.7 136.7L632.8 135.0ZM654.8 131.7L652.4 137.1L649.4 134.1ZM668.9 131.7L666.5 137.1L663.5 134.1ZM683.1 131.7L680.7 137.1L677.7 134.1ZM548.6 157.8L546.5 156.6L550.7 156.6ZM566.8 155.8L564.4 157.9L564.4 153.7ZM576.9 151.8L579.0 154.2L574.8 154.2ZM591.1 149.8L593.2 153.4L589.0 153.4ZM605.2 145.8L607.3 151.3L603.1 151.3ZM619.4 145.8L621.5 151.3L617.3 151.3ZM636.6 148.4L636.7 153.6L632.8 152.0ZM651.5 146.5L651.4 152.4L647.5 150.8ZM664.9 148.4L665.0 153.6L661.1 152.0ZM679.1 148.4L679.2 153.6L675.3 152.0ZM544.6 172.7L547.0 170.6L547.0 174.8ZM566.8 172.7L564.4 174.8L564.4 170.6ZM576.9 168.7L579.0 171.1L574.8 171.1ZM591.1 166.7L593.2 170.3L589.0 170.3ZM605.2 162.7L607.3 168.2L603.1 168.2ZM619.4 160.7L621.5 166.2L617.3 166.2ZM633.5 162.7L635.6 168.2L631.4 168.2ZM647.7 162.7L649.8 168.2L645.6 168.2ZM661.8 164.7L663.9 169.5L659.7 169.5ZM676.0 164.7L678.1 169.5L673.9 169.5ZM409.9 56.8L406.7 56.6L409.7 53.6ZM421.2 58.0L419.1 55.6L423.3 55.6ZM433.9 57.7L432.8 54.6L436.7 56.3ZM442.1 57.0L445.8 53.3L447.4 57.1ZM451.7 54.0L457.2 51.9L457.2 56.1ZM474.0 63.2L474.2 57.3L478.1 58.9ZM492.0 82.0L489.9 76.5L494.1 76.5ZM506.2 72.0L504.1 66.5L508.3 66.5ZM520.3 60.0L518.2 56.4L522.4 56.4ZM526.5 54.0L531.3 51.9L531.3 56.1ZM417.1 70.9L411.6 73.0L411.6 68.8ZM429.7 79.4L424.3 77.0L427.3 74.0ZM438.4 78.3L434.7 74.7L438.5 73.1ZM449.5 80.9L447.4 75.4L451.6 75.4ZM463.7 78.9L461.6 74.1L465.8 74.1ZM477.8 72.9L475.7 71.7L479.9 71.7ZM492.0 82.9L489.9 77.4L494.1 77.4ZM506.2 82.9L504.1 77.4L508.3 77.4ZM520.3 78.9L518.2 74.1L522.4 74.1ZM534.5 76.9L532.4 73.3L536.6 73.3ZM407.1 89.9L405.0 88.7L409.2 88.7ZM426.9 93.6L422.0 91.7L425.0 88.7ZM440.7 100.8L436.7 96.6L440.6 95.0ZM449.5 101.9L447.4 96.4L451.6 96.4ZM463.7 95.9L461.6 91.1L465.8 91.1ZM475.5 93.4L475.0 89.3L478.9 90.9ZM488.2 97.1L488.3 91.3L492.2 92.9ZM506.2 97.9L504.1 92.4L508.3 92.4ZM520.3 97.9L518.2 92.4L522.4 92.4ZM534.5 95.9L532.4 91.1L536.6 91.1ZM407.1 106.9L405.0 105.7L409.2 105.7ZM423.2 104.9L422.0 107.0L422.0 102.8ZM435.4 120.9L433.3 115.4L437.5 115.4ZM449.5 118.9L447.4 113.4L451.6 113.4ZM463.7 112.9L461.6 108.1L465.8 108.1ZM474.8 112.3L474.7 107.0L478.6 108.6ZM488.9 112.3L488.8 107.0L492.7 108.6ZM506.2 112.9L504.1 108.1L508.3 108.1ZM520.3 112.9L518.2 108.1L522.4 108.1ZM534.5 110.9L532.4 107.3L536.6 107.3ZM401.1 121.8L404.7 119.7L404.7 123.9ZM417.0 126.1L418.0 122.1L421.0 125.0ZM435.4 133.8L433.3 128.3L437.5 128.3ZM449.5 133.8L447.4 128.3L451.6 128.3ZM463.7 133.8L461.6 128.3L465.8 128.3ZM474.0 131.1L474.2 125.2L478.1 126.8ZM486.3 127.5L488.3 122.6L491.2 125.6ZM503.1 129.2L503.0 124.0L506.9 125.6ZM517.5 124.7L517.7 121.5L520.7 124.5ZM533.0 123.3L532.4 120.9L535.4 123.9ZM399.7 141.9L403.3 138.1L404.9 142.0ZM413.8 141.9L417.5 138.1L419.1 142.0ZM425.5 148.7L427.9 143.3L430.9 146.3ZM441.1 147.3L443.5 141.9L446.4 144.9ZM459.9 148.0L460.0 142.2L463.9 143.8ZM477.8 152.8L475.7 147.3L479.9 147.3ZM487.4 149.9L487.6 144.0L491.5 145.6ZM500.5 144.5L502.4 139.6L505.4 142.6ZM516.6 140.3L518.0 137.5L519.6 141.4ZM532.6 139.6L532.9 137.2L534.5 141.1ZM407.1 171.8L405.0 166.3L409.2 166.3ZM417.4 165.0L417.6 159.1L421.4 160.7ZM428.3 162.8L430.7 157.5L433.7 160.4ZM441.1 164.3L443.5 158.9L446.4 161.9ZM452.4 167.1L454.8 161.7L457.8 164.7ZM466.5 167.1L468.9 161.7L471.9 164.7ZM487.4 166.9L487.6 161.0L491.5 162.6ZM506.2 159.8L504.1 157.4L508.3 157.4ZM518.9 157.2L518.3 154.9L521.2 157.8ZM534.5 153.8L536.6 155.0L532.4 155.0ZM407.1 180.7L405.0 175.9L409.2 175.9ZM421.2 180.7L419.1 175.9L423.3 175.9ZM435.4 180.7L433.3 175.9L437.5 175.9ZM449.5 180.7L447.4 175.9L451.6 175.9ZM463.7 180.7L461.6 175.9L465.8 175.9ZM477.8 180.7L475.7 175.9L479.9 175.9ZM492.0 176.7L489.9 174.3L494.1 174.3ZM504.2 172.7L505.4 170.6L505.4 174.8ZM514.8 170.4L518.9 169.9L517.3 173.8ZM528.5 172.7L532.1 170.6L532.1 174.8ZM364.6 52.0L366.7 53.2L362.5 53.2ZM378.8 52.0L380.9 53.2L376.7 53.2ZM392.9 52.0L395.0 53.2L390.8 53.2ZM340.5 66.7L339.5 70.7L336.5 67.8ZM344.9 68.6L349.0 68.1L347.4 72.0ZM360.6 70.9L363.0 68.8L363.0 73.0ZM384.8 70.9L381.2 73.0L381.2 68.8ZM398.6 65.3L396.7 70.2L393.7 67.2ZM319.1 83.3L314.8 87.4L313.2 83.5ZM326.2 87.9L323.8 90.0L323.8 85.8ZM336.3 93.9L334.2 90.3L338.4 90.3ZM350.5 93.9L348.4 90.3L352.6 90.3ZM364.6 83.9L366.7 86.3L362.5 86.3ZM378.8 79.9L380.9 84.7L376.7 84.7ZM397.2 83.7L396.1 87.7L393.1 84.7ZM289.8 104.9L292.2 102.8L292.2 107.0ZM312.0 104.9L309.6 107.0L309.6 102.8ZM325.2 112.3L321.4 108.6L325.3 107.0ZM336.3 112.9L334.2 108.1L338.4 108.1ZM361.5 109.5L355.7 109.3L357.3 105.4ZM366.6 104.9L365.4 107.0L365.4 102.8ZM381.8 97.5L381.9 102.7L378.1 101.1ZM396.0 97.5L396.1 102.7L392.2 101.1ZM346.2 137.6L340.3 137.5L341.9 133.6ZM360.3 137.6L354.4 137.5L356.0 133.6ZM382.6 121.8L377.1 123.9L377.1 119.7ZM378.0 121.8L372.5 123.9L372.5 119.7ZM384.5 121.8L379.0 123.9L379.0 119.7ZM378.8 113.8L380.9 118.6L376.7 118.6ZM384.9 121.8L389.7 119.7L389.7 123.9ZM337.1 126.8L332.8 130.8L331.2 126.9ZM360.3 154.6L354.4 154.5L356.0 150.6ZM377.6 138.8L372.1 140.9L372.1 136.7ZM368.8 131.2L364.5 135.3L362.9 131.4ZM390.1 149.3L384.2 149.2L385.8 145.3ZM406.3 138.8L400.8 140.9L400.8 136.7ZM412.8 138.8L407.3 140.9L407.3 136.7ZM349.3 155.8L343.8 157.9L343.8 153.7ZM355.1 169.4L349.2 169.2L350.8 165.4ZM365.4 167.8L359.5 167.6L361.1 163.8ZM364.5 169.8L359.1 167.4L362.1 164.4ZM381.8 155.8L376.3 157.9L376.3 153.7ZM402.7 155.8L397.2 157.9L397.2 153.7ZM416.8 155.8L411.3 157.9L411.3 153.7ZM321.4 172.7L315.9 174.8L315.9 170.6ZM337.1 184.8L331.2 184.6L332.8 180.7ZM340.5 180.3L334.6 180.2L336.2 176.3ZM353.2 189.6L347.8 187.2L350.8 184.3ZM372.7 195.0L367.3 192.6L370.3 189.6ZM392.2 172.7L386.7 174.8L386.7 170.6ZM378.8 168.7L380.9 171.1L376.7 171.1ZM389.9 180.1L389.8 174.9L393.6 176.5ZM268.5 223.6L263.0 225.7L263.0 221.5ZM234.4 230.1L230.1 234.1L228.5 230.2ZM247.0 240.6L241.5 242.7L241.5 238.5ZM261.1 240.6L255.6 242.7L255.6 238.5ZM278.9 240.6L273.4 242.7L273.4 238.5ZM217.0 235.3L214.6 240.7L211.6 237.7ZM238.0 245.5L233.7 249.6L232.1 245.7ZM250.6 257.6L245.1 259.7L245.1 255.5ZM257.1 257.6L251.6 259.7L251.6 255.5ZM273.5 266.7L267.6 266.6L269.2 262.7ZM202.9 252.3L200.5 257.7L197.5 254.7ZM227.7 260.9L223.4 265.0L221.8 261.1ZM236.5 274.5L231.0 276.6L231.0 272.4ZM240.2 274.5L234.7 276.6L234.7 272.4ZM256.7 294.0L251.3 291.6L254.3 288.6ZM280.6 303.8L275.2 301.4L278.2 298.4ZM191.9 281.0L187.6 285.0L186.0 281.1ZM206.1 281.0L201.8 285.0L200.2 281.1ZM222.3 291.5L216.8 293.6L216.8 289.4ZM208.9 287.5L211.0 289.9L206.8 289.9ZM240.2 291.5L234.7 293.6L234.7 289.4ZM256.7 311.0L251.3 308.6L254.3 305.6ZM284.1 324.3L278.8 321.9L281.7 318.9ZM164.3 308.5L158.8 310.6L158.8 306.4ZM172.1 302.8L170.2 307.7L167.2 304.7ZM206.1 297.9L201.8 302.0L200.2 298.1ZM218.7 308.5L213.2 310.6L213.2 306.4ZM226.1 308.5L220.6 310.6L220.6 306.4ZM240.2 308.5L234.7 310.6L234.7 306.4ZM262.7 319.0L256.8 318.9L258.4 315.0ZM276.6 333.7L271.2 331.3L274.2 328.3ZM321.4 189.7L315.9 191.8L315.9 187.6ZM324.9 206.6L319.5 204.2L322.5 201.2ZM347.6 200.2L341.7 200.1L343.3 196.2ZM361.8 200.2L355.9 200.1L357.5 196.2ZM378.0 189.7L372.5 191.8L372.5 187.6ZM388.5 189.7L383.0 191.8L383.0 187.6ZM395.9 189.7L390.4 191.8L390.4 187.6ZM403.7 189.7L398.2 191.8L398.2 187.6ZM332.0 222.5L326.1 222.3L327.7 218.4ZM350.8 224.4L344.9 224.2L346.5 220.4ZM360.3 222.5L354.4 222.3L356.0 218.4ZM365.4 218.7L359.5 218.6L361.1 214.7ZM378.0 206.7L372.5 208.8L372.5 204.6ZM386.7 197.5L382.4 201.6L380.8 197.7ZM395.9 206.7L390.4 208.8L390.4 204.6ZM403.7 206.7L398.2 208.8L398.2 204.6ZM287.6 232.8L281.7 232.6L283.3 228.7ZM321.0 223.6L315.5 225.7L315.5 221.5ZM326.6 256.4L321.2 254.0L324.2 251.0ZM333.2 248.8L327.8 246.4L330.8 243.5ZM341.6 243.1L336.3 240.7L339.2 237.7ZM358.4 232.8L352.5 232.6L354.1 228.7ZM378.0 223.6L372.5 225.7L372.5 221.5ZM376.7 211.5L374.3 216.9L371.4 213.9ZM384.8 223.6L381.2 225.7L381.2 221.5ZM398.6 218.0L396.7 222.9L393.7 219.9ZM294.6 252.7L288.7 252.5L290.3 248.6ZM304.9 265.8L299.5 263.4L302.5 260.4ZM319.0 265.8L313.7 263.4L316.6 260.4ZM327.5 260.1L322.1 257.7L325.1 254.7ZM340.5 248.2L334.6 248.0L336.2 244.2ZM347.4 245.2L341.5 245.0L343.1 241.2ZM362.5 240.6L357.0 242.7L357.0 238.5ZM368.3 239.1L366.9 241.9L365.3 238.1ZM381.1 235.1L381.6 239.2L377.7 237.6ZM392.9 238.6L395.0 239.8L390.8 239.8ZM290.7 282.8L285.4 280.4L288.3 277.4ZM305.1 268.1L299.3 268.0L300.9 264.1ZM319.3 268.1L313.4 268.0L315.0 264.1ZM330.1 266.7L324.2 266.6L325.8 262.7ZM327.8 263.2L322.9 261.3L325.9 258.4ZM336.3 261.6L334.2 259.2L338.4 259.2ZM351.9 259.0L349.5 259.6L352.5 256.7ZM364.6 253.6L366.7 256.0L362.5 256.0ZM378.8 259.6L376.7 258.4L380.9 258.4ZM390.6 263.1L390.1 259.0L393.9 260.6ZM294.7 303.8L289.4 301.4L292.3 298.4ZM301.8 283.7L295.9 283.5L297.5 279.6ZM312.2 282.1L306.3 282.0L307.9 278.1ZM318.0 274.5L312.5 276.6L312.5 272.4ZM327.8 280.2L322.9 278.3L325.9 275.3ZM340.5 278.8L336.5 277.7L339.5 274.8ZM356.0 276.8L351.9 277.4L353.5 273.5ZM368.6 274.5L366.2 276.6L366.2 272.4ZM378.8 278.5L376.7 276.1L380.9 276.1ZM389.9 281.9L389.8 276.7L393.6 278.3ZM285.0 311.0L279.6 308.6L282.6 305.6ZM301.8 300.7L295.9 300.5L297.5 296.6ZM306.8 296.9L300.9 296.7L302.5 292.8ZM313.5 293.8L309.4 294.4L311.0 290.5ZM327.7 293.8L323.6 294.4L325.2 290.5ZM340.5 295.8L336.5 294.7L339.5 291.7ZM354.7 295.8L350.7 294.7L353.6 291.7ZM368.9 295.8L364.8 294.7L367.8 291.7ZM381.1 297.1L377.7 294.5L381.6 292.9ZM392.9 299.5L390.8 294.7L395.0 294.7ZM287.6 317.6L281.7 317.5L283.3 313.6ZM293.7 322.5L288.4 320.1L291.3 317.1ZM301.2 311.5L296.0 311.6L297.6 307.8ZM315.4 311.5L310.2 311.6L311.8 307.8ZM327.8 314.1L322.9 312.2L325.9 309.3ZM343.7 311.5L338.5 311.6L340.1 307.8ZM357.9 311.5L352.6 311.6L354.2 307.8ZM374.6 308.5L369.1 310.6L369.1 306.4ZM388.0 312.3L382.1 312.1L383.7 308.3ZM402.2 312.3L396.3 312.1L397.9 308.3ZM412.7 195.4L407.9 193.5L410.8 190.5ZM428.3 196.8L422.9 194.4L425.9 191.4ZM439.2 198.9L435.2 194.7L439.0 193.1ZM454.1 200.8L450.1 196.5L454.0 194.9ZM470.8 196.8L465.4 194.4L468.4 191.4ZM477.8 193.7L475.7 191.3L479.9 191.3ZM490.5 193.4L489.4 190.4L493.3 192.0ZM501.9 194.0L503.0 189.9L505.9 192.9ZM514.8 192.0L517.3 188.7L518.9 192.6ZM528.5 189.7L532.1 187.6L532.1 191.8ZM417.1 206.7L411.6 208.8L411.6 204.6ZM432.3 211.3L426.4 211.1L428.0 207.2ZM445.3 216.6L439.9 214.2L442.9 211.2ZM459.4 216.6L454.1 214.2L457.0 211.2ZM468.3 217.8L464.2 213.5L468.1 211.9ZM477.8 214.7L475.7 209.9L479.9 209.9ZM484.9 213.7L487.3 208.4L490.3 211.3ZM497.7 215.2L500.1 209.8L503.0 212.8ZM512.9 209.7L516.5 206.0L518.2 209.8ZM526.5 206.7L531.3 204.6L531.3 208.8ZM413.1 223.6L409.5 225.7L409.5 221.5ZM423.5 229.2L420.2 226.7L424.1 225.1ZM435.4 235.6L433.3 230.1L437.5 230.1ZM449.5 237.6L447.4 232.1L451.6 232.1ZM463.7 237.6L461.6 232.1L465.8 232.1ZM473.3 234.7L473.4 228.8L477.3 230.5ZM492.0 235.6L489.9 230.1L494.1 230.1ZM502.3 232.9L502.5 227.0L506.4 228.6ZM514.3 223.6L517.9 221.5L517.9 225.7ZM526.5 223.6L531.3 221.5L531.3 225.7ZM405.5 244.3L404.5 241.3L408.4 242.9ZM418.2 248.0L418.1 242.8L421.9 244.4ZM435.4 252.6L433.3 247.1L437.5 247.1ZM449.5 254.6L447.4 249.1L451.6 249.1ZM479.2 256.2L473.9 253.8L476.8 250.8ZM477.8 254.6L475.7 249.1L479.9 249.1ZM492.0 246.6L489.9 243.0L494.1 243.0ZM506.2 246.6L504.1 243.0L508.3 243.0ZM526.0 246.3L521.1 244.4L524.1 241.4ZM542.5 240.6L537.7 242.7L537.7 238.5ZM401.4 263.2L403.3 258.4L406.3 261.3ZM415.6 263.2L417.5 258.4L420.5 261.3ZM424.7 283.5L424.8 277.6L428.7 279.2ZM442.6 274.2L442.8 268.3L446.7 269.9ZM443.7 257.6L449.2 255.5L449.2 259.7ZM477.8 271.6L475.7 266.1L479.9 266.1ZM495.8 266.8L491.8 262.5L495.7 260.9ZM522.2 257.6L516.7 259.7L516.7 255.5ZM529.5 253.8L525.3 257.8L523.7 253.9ZM531.4 265.0L531.3 259.7L535.2 261.3ZM404.0 281.9L403.9 276.7L407.8 278.3ZM412.7 283.0L415.1 277.7L418.1 280.6ZM426.9 283.0L429.3 277.7L432.3 280.6ZM449.5 294.5L447.4 289.0L451.6 289.0ZM463.7 280.5L461.6 276.9L465.8 276.9ZM477.8 278.5L475.7 276.1L479.9 276.1ZM492.0 284.5L489.9 279.0L494.1 279.0ZM503.9 280.1L503.3 276.0L507.2 277.6ZM506.2 288.7L508.6 283.3L511.5 286.3ZM515.0 294.0L517.4 288.6L520.4 291.6ZM407.1 301.5L405.0 296.0L409.2 296.0ZM421.2 301.5L419.1 296.0L423.3 296.0ZM441.0 297.2L436.2 295.3L439.1 292.3ZM448.0 295.2L447.0 292.2L450.9 293.8ZM463.7 301.5L461.6 296.0L465.8 296.0ZM489.2 302.8L483.8 300.4L486.8 297.5ZM485.9 306.3L486.0 300.4L489.9 302.0ZM490.6 307.1L493.0 301.7L496.0 304.7ZM500.8 311.0L503.2 305.6L506.2 308.6ZM505.2 320.7L507.7 315.4L510.6 318.3ZM412.7 314.1L407.9 312.2L410.8 309.3ZM424.3 315.9L420.5 312.2L424.4 310.6ZM445.4 308.5L439.9 310.6L439.9 306.4ZM456.6 315.6L451.2 313.2L454.2 310.2ZM487.6 308.5L482.1 310.6L482.1 306.4ZM491.8 308.5L486.3 310.6L486.3 306.4ZM492.0 339.9L489.9 334.4L494.1 334.4ZM481.0 333.7L483.4 328.3L486.3 331.3ZM504.5 346.6L504.7 340.8L508.5 342.4ZM516.7 351.3L516.9 345.4L520.8 347.0ZM542.6 189.7L546.2 187.6L546.2 191.8ZM558.5 185.5L562.6 186.5L559.6 189.5ZM576.9 183.7L579.0 187.3L574.8 187.3ZM591.1 181.7L593.2 186.5L589.0 186.5ZM605.2 181.7L607.3 186.5L603.1 186.5ZM619.4 181.7L621.5 186.5L617.3 186.5ZM633.5 181.7L635.6 186.5L631.4 186.5ZM643.4 185.5L647.5 186.5L644.5 189.5ZM652.6 185.9L658.5 186.0L656.9 189.9ZM666.1 179.8L671.5 182.2L668.5 185.2ZM544.4 202.4L548.4 203.5L545.4 206.5ZM558.5 202.4L562.6 203.5L559.6 206.5ZM576.9 198.7L579.0 203.5L574.8 203.5ZM591.1 196.7L593.2 202.2L589.0 202.2ZM605.2 194.7L607.3 200.2L603.1 200.2ZM619.4 190.7L621.5 196.2L617.3 196.2ZM642.0 198.2L639.6 203.6L636.6 200.6ZM675.7 206.7L670.2 208.8L670.2 204.6ZM672.9 202.1L668.7 206.1L667.0 202.3ZM685.2 202.9L681.0 206.9L679.4 203.0ZM540.6 223.6L545.4 221.5L545.4 225.7ZM558.8 223.6L561.2 221.5L561.2 225.7ZM572.7 219.4L576.7 220.5L573.7 223.4ZM586.8 219.4L590.9 220.5L587.9 223.4ZM579.4 212.9L585.2 213.1L583.6 217.0ZM619.4 209.6L621.5 215.1L617.3 215.1ZM633.5 209.6L635.6 215.1L631.4 215.1ZM647.7 207.6L649.8 213.1L645.6 213.1ZM661.8 219.6L663.9 222.0L659.7 222.0ZM668.0 223.6L672.8 221.5L672.8 225.7ZM540.6 240.6L545.4 238.5L545.4 242.7ZM555.4 243.7L559.0 239.9L560.6 243.8ZM552.9 264.7L555.3 259.3L558.3 262.3ZM569.9 261.8L572.3 256.5L575.2 259.4ZM587.5 197.8L591.6 202.1L587.7 203.7ZM598.0 189.0L602.0 193.3L598.2 194.9ZM615.8 197.8L619.9 202.1L616.0 203.7ZM647.7 199.3L649.8 204.8L645.6 204.8ZM661.8 209.2L663.9 214.7L659.7 214.7ZM676.0 216.7L678.1 222.2L673.9 222.2ZM523.4 282.8L525.8 277.4L528.8 280.4ZM530.0 290.3L532.4 284.9L535.4 287.9ZM554.7 279.8L557.1 274.4L560.1 277.4ZM582.6 249.1L588.0 251.5L585.0 254.5ZM583.8 205.9L587.9 210.2L584.0 211.8ZM592.0 191.5L596.0 195.8L592.2 197.4ZM612.1 205.9L616.2 210.2L612.3 211.8ZM630.0 214.8L634.0 219.1L630.1 220.7ZM632.6 228.4L638.0 230.8L635.0 233.7ZM653.8 235.3L659.1 237.7L656.2 240.7ZM512.9 310.3L515.3 304.9L518.3 307.8ZM547.0 312.7L547.1 306.8L551.0 308.4ZM565.6 263.2L571.0 265.6L568.0 268.6ZM581.2 264.6L586.5 267.1L583.6 270.0ZM572.5 241.8L577.9 244.2L574.9 247.2ZM594.1 213.6L598.2 217.8L594.3 219.4ZM608.3 213.6L612.3 217.8L608.4 219.4ZM608.2 235.0L613.5 237.4L610.6 240.4ZM629.1 241.8L634.5 244.2L631.5 247.2ZM646.8 245.3L652.2 247.7L649.2 250.7ZM532.8 329.7L533.0 323.8L536.9 325.4ZM557.1 297.2L559.0 292.3L562.0 295.3ZM562.1 297.6L566.4 293.6L568.0 297.5ZM574.4 284.6L580.3 284.8L578.7 288.7ZM591.6 258.6L595.6 262.9L591.8 264.5ZM595.7 234.3L599.7 238.5L595.8 240.2ZM582.9 240.9L588.3 243.3L585.3 246.3ZM601.0 244.8L606.4 247.2L603.4 250.2ZM622.3 252.0L627.7 254.4L624.7 257.4ZM643.3 258.8L648.6 261.2L645.7 264.1ZM536.6 337.5L536.7 331.7L540.6 333.3ZM553.5 312.3L557.8 308.3L559.4 312.1ZM565.8 313.1L570.1 309.0L571.7 312.9ZM584.0 301.4L589.4 303.8L586.4 306.8ZM596.8 288.2L600.9 292.4L597.0 294.0ZM601.7 265.7L605.7 270.0L601.8 271.6ZM608.3 247.5L612.3 251.8L608.4 253.4ZM601.0 261.8L606.4 264.2L603.4 267.2ZM626.1 272.8L631.5 275.2L628.5 278.2ZM643.3 275.7L648.6 278.1L645.7 281.1ZM179.8 325.5L174.3 327.6L174.3 323.4ZM191.9 314.9L187.6 319.0L186.0 315.1ZM196.5 318.9L192.2 322.9L190.6 319.1ZM213.2 333.1L207.4 332.9L209.0 329.1ZM227.3 333.0L221.4 332.9L223.0 329.0ZM240.0 342.3L234.6 339.9L237.6 337.0ZM256.7 344.9L251.3 342.5L254.3 339.6ZM270.9 344.9L265.5 342.5L268.5 339.6ZM181.4 330.4L177.1 334.4L175.5 330.5ZM194.0 342.4L188.5 344.5L188.5 340.3ZM198.9 350.0L193.1 349.8L194.7 346.0ZM211.9 342.4L206.4 344.5L206.4 340.3ZM223.0 356.5L217.6 354.0L220.6 351.1ZM242.6 361.9L237.2 359.5L240.1 356.5ZM256.7 361.9L251.3 359.5L254.3 356.5ZM275.3 342.4L269.8 344.5L269.8 340.3ZM181.4 347.4L177.1 351.4L175.5 347.5ZM199.4 373.0L193.5 372.9L195.1 369.0ZM209.7 371.4L203.8 371.3L205.4 367.4ZM220.2 369.9L214.3 369.8L215.9 365.9ZM228.4 378.9L223.0 376.5L226.0 373.5ZM248.5 369.9L242.6 369.8L244.2 365.9ZM264.8 359.4L259.3 361.5L259.3 357.3ZM271.2 359.4L265.7 361.5L265.7 357.3ZM185.2 362.7L181.0 366.8L179.3 362.9ZM209.2 394.1L203.4 393.9L205.0 390.0ZM223.4 394.1L217.5 393.9L219.1 390.0ZM227.7 390.0L221.8 389.8L223.4 385.9ZM238.0 388.4L232.1 388.2L233.7 384.3ZM248.5 386.9L242.6 386.7L244.2 382.8ZM259.3 385.5L253.4 385.3L255.0 381.5ZM271.2 376.4L265.7 378.5L265.7 374.3ZM163.6 382.8L159.3 386.8L157.7 382.9ZM193.6 393.3L188.1 395.4L188.1 391.2ZM217.0 393.3L211.5 395.4L211.5 391.2ZM231.1 393.3L225.6 395.4L225.6 391.2ZM232.9 409.1L227.0 409.0L228.7 405.1ZM238.0 405.4L232.1 405.2L233.7 401.3ZM248.5 403.9L242.6 403.7L244.2 399.8ZM257.1 393.3L251.6 395.4L251.6 391.2ZM268.5 393.3L263.0 395.4L263.0 391.2ZM157.6 390.8L155.2 396.2L152.3 393.2ZM198.6 410.3L193.1 412.4L193.1 408.2ZM222.4 410.3L216.9 412.4L216.9 408.2ZM226.9 410.3L221.4 412.4L221.4 408.2ZM217.0 432.5L211.6 430.1L214.6 427.2ZM228.4 429.8L223.0 427.4L226.0 424.4ZM241.4 417.9L235.5 417.7L237.1 413.8ZM253.1 416.9L247.2 416.7L248.8 412.8ZM268.5 410.3L263.0 412.4L263.0 408.2ZM148.7 401.8L148.5 407.7L144.6 406.1ZM181.5 398.0L179.1 403.4L176.1 400.5ZM209.2 409.5L205.0 413.6L203.4 409.7ZM196.6 427.3L191.1 429.4L191.1 425.2ZM203.3 435.7L197.9 433.3L200.9 430.4ZM217.4 435.7L212.0 433.3L215.0 430.4ZM230.1 434.3L224.8 431.9L227.7 429.0ZM237.2 437.3L235.1 431.8L239.3 431.8ZM251.4 439.3L249.3 433.8L253.5 433.8ZM188.0 408.5L185.6 413.9L182.6 410.9ZM197.9 444.2L192.4 446.3L192.4 442.1ZM202.7 435.1L198.4 439.1L196.8 435.2ZM201.8 451.3L196.5 448.9L199.4 445.9ZM212.7 453.5L208.7 449.2L212.6 447.6ZM223.1 454.2L221.0 448.7L225.2 448.7ZM237.2 454.2L235.1 448.7L239.3 448.7ZM247.6 453.5L247.7 447.6L251.6 449.2ZM280.3 331.6L274.4 331.4L276.0 327.5ZM292.6 330.8L286.7 330.6L288.3 326.8ZM301.8 325.5L297.0 327.6L297.0 323.4ZM316.0 325.5L311.2 327.6L311.2 323.4ZM329.5 328.5L324.3 328.6L325.9 324.7ZM346.3 325.5L340.8 327.6L340.8 323.4ZM362.5 325.5L357.0 327.6L357.0 323.4ZM374.6 325.5L369.1 327.6L369.1 323.4ZM381.8 332.8L378.1 329.2L381.9 327.6ZM400.3 328.5L395.1 328.6L396.7 324.7ZM277.5 342.4L272.0 344.5L272.0 340.3ZM289.7 342.4L284.2 344.5L284.2 340.3ZM303.8 342.4L298.3 344.5L298.3 340.3ZM316.0 342.4L311.2 344.5L311.2 340.3ZM330.2 342.4L325.4 344.5L325.4 340.3ZM348.3 342.4L342.8 344.5L342.8 340.3ZM357.9 339.4L354.2 343.1L352.6 339.3ZM375.7 347.0L369.8 346.8L371.4 343.0ZM388.0 338.6L383.7 342.6L382.1 338.8ZM401.4 350.9L396.0 348.5L399.0 345.5ZM275.5 359.4L270.0 361.5L270.0 357.3ZM287.7 359.4L282.9 361.5L282.9 357.3ZM303.8 359.4L298.3 361.5L298.3 357.3ZM317.2 363.2L311.4 363.0L313.0 359.2ZM329.5 362.4L324.3 362.6L325.9 358.7ZM348.3 359.4L342.8 361.5L342.8 357.3ZM360.5 359.4L355.0 361.5L355.0 357.3ZM374.6 359.4L369.1 361.5L369.1 357.3ZM368.1 385.3L368.2 379.4L372.1 381.0ZM382.4 333.9L386.4 338.2L382.5 339.8ZM277.5 376.4L272.0 378.5L272.0 374.3ZM293.7 376.4L288.2 378.5L288.2 374.3ZM309.8 376.4L304.3 378.5L304.3 374.3ZM324.0 376.4L318.5 378.5L318.5 374.3ZM335.1 381.7L329.2 381.5L330.8 377.7ZM354.3 376.4L348.8 378.5L348.8 374.3ZM363.4 381.7L357.5 381.5L359.1 377.7ZM370.0 389.3L365.9 385.0L369.8 383.4ZM332.5 376.4L338.0 374.3L338.0 378.5ZM369.0 376.4L374.5 374.3L374.5 378.5ZM283.5 393.3L278.0 395.4L278.0 391.2ZM297.7 393.3L292.2 395.4L292.2 391.2ZM313.8 393.3L308.3 395.4L308.3 391.2ZM326.5 401.0L320.6 400.8L322.2 396.9ZM342.5 401.7L336.6 401.6L338.2 397.7ZM360.3 403.3L354.4 403.1L356.1 399.2ZM375.9 403.9L370.0 403.7L371.6 399.8ZM376.7 422.4L372.6 418.1L376.5 416.5ZM430.4 371.9L426.1 376.0L424.5 372.1ZM418.4 382.8L414.1 386.8L412.5 382.9ZM272.6 417.4L267.2 415.0L270.2 412.0ZM291.7 410.3L286.2 412.4L286.2 408.2ZM304.9 405.7L300.7 409.7L299.0 405.9ZM322.8 416.4L316.9 416.2L318.5 412.4ZM344.3 419.5L338.4 419.3L340.0 415.4ZM353.3 427.3L347.9 424.9L350.9 421.9ZM361.0 435.7L357.0 431.5L360.8 429.8ZM375.2 435.7L371.1 431.5L375.0 429.8ZM425.4 391.0L421.1 395.0L419.5 391.1ZM360.0 423.9L364.3 419.9L365.9 423.8ZM263.2 432.8L262.7 428.7L266.6 430.3ZM275.4 431.5L276.5 427.5L279.5 430.4ZM285.8 427.3L290.6 425.2L290.6 429.4ZM302.0 427.3L305.6 425.2L305.6 429.4ZM316.2 427.3L319.8 425.2L319.8 429.4ZM342.4 442.0L338.4 437.8L342.3 436.2ZM362.5 456.3L358.5 452.0L362.3 450.4ZM354.1 452.7L354.2 446.8L358.1 448.4ZM368.2 452.7L368.4 446.8L372.3 448.4ZM403.5 452.7L399.4 448.4L403.3 446.8ZM265.5 452.2L263.4 447.4L267.6 447.4ZM282.8 451.6L279.0 448.0L282.9 446.4ZM299.5 449.9L294.6 448.0L297.6 445.0ZM316.0 444.2L311.2 446.3L311.2 442.1ZM328.2 444.2L324.6 446.3L324.6 442.1ZM336.3 450.2L334.2 446.6L338.4 446.6ZM350.5 475.7L348.4 470.2L352.6 470.2ZM354.1 469.7L354.2 463.8L358.1 465.4ZM368.2 469.7L368.4 463.8L372.3 465.4ZM392.9 471.8L390.8 466.3L395.0 466.3ZM414.1 332.5L408.8 330.1L411.7 327.1ZM448.8 325.5L443.3 327.6L443.3 323.4ZM485.9 325.5L480.4 327.6L480.4 323.4ZM485.2 361.2L479.9 358.7L482.8 355.8ZM491.2 325.5L485.7 327.6L485.7 323.4ZM497.3 344.9L491.9 342.5L494.9 339.6ZM474.3 368.2L474.4 362.3L478.3 364.0ZM492.5 358.4L492.7 352.5L496.6 354.1ZM504.5 363.6L504.7 357.7L508.5 359.3ZM518.7 363.6L518.8 357.7L522.7 359.3ZM426.5 322.9L424.1 328.3L421.2 325.4ZM437.1 335.9L432.8 339.9L431.2 336.0ZM446.5 337.8L442.2 341.9L440.6 338.0ZM455.2 348.1L450.3 346.2L453.3 343.2ZM441.4 364.7L443.9 359.3L446.8 362.3ZM495.6 385.2L491.5 380.9L495.4 379.3ZM492.0 388.7L489.9 383.2L494.1 383.2ZM488.4 385.2L488.6 379.3L492.5 380.9ZM520.3 378.1L518.2 372.6L522.4 372.6ZM534.5 373.9L532.4 368.4L536.6 368.4ZM378.0 371.4L382.3 367.4L383.9 371.3ZM392.2 371.4L396.4 367.4L398.1 371.3ZM397.2 375.2L401.5 371.2L403.1 375.0ZM416.8 392.1L419.2 386.8L422.2 389.7ZM434.5 388.6L436.9 383.2L439.9 386.2ZM462.0 397.6L462.2 391.7L466.1 393.3ZM492.0 409.9L489.9 404.4L494.1 404.4ZM488.4 402.2L488.6 396.3L492.5 397.9ZM506.7 392.3L506.8 386.4L510.7 388.0ZM523.9 384.8L524.1 378.9L528.0 380.6ZM434.6 376.4L429.1 378.5L429.1 374.3ZM378.4 394.1L382.7 390.0L384.3 393.9ZM383.7 397.7L388.0 393.7L389.6 397.6ZM405.7 420.2L408.1 414.8L411.1 417.8ZM424.2 415.9L426.6 410.5L429.5 413.5ZM460.1 419.1L460.3 413.3L464.2 414.9ZM474.3 419.1L474.4 413.3L478.3 414.9ZM476.9 405.6L479.3 400.2L482.3 403.2ZM500.8 395.8L503.2 390.5L506.2 393.4ZM512.4 385.5L516.7 381.5L518.3 385.3ZM368.9 409.1L373.2 405.1L374.8 409.0ZM369.6 414.7L373.9 410.7L375.5 414.5ZM374.4 418.6L378.7 414.5L380.3 418.4ZM398.9 443.9L401.3 438.5L404.3 441.5ZM417.0 440.0L419.4 434.6L422.4 437.6ZM438.3 432.8L440.7 427.5L443.7 430.4ZM459.3 426.1L461.7 420.7L464.6 423.7ZM473.2 407.0L477.5 402.9L479.1 406.8ZM492.8 393.3L498.3 391.2L498.3 395.4ZM514.6 393.3L520.1 391.2L520.1 395.4ZM393.4 443.2L393.6 437.3L397.5 438.9ZM405.4 448.5L405.6 442.6L409.5 444.2ZM419.6 448.5L419.7 442.6L423.6 444.2ZM416.6 423.9L420.9 419.9L422.5 423.8ZM455.2 418.8L457.6 413.4L460.6 416.4ZM469.4 418.8L471.8 413.4L474.7 416.4ZM487.8 414.5L488.8 410.5L491.8 413.5ZM500.2 410.3L503.8 408.2L503.8 412.4ZM509.2 405.7L515.1 405.9L513.5 409.7ZM527.4 403.2L532.8 405.6L529.8 408.6ZM407.1 443.3L405.0 437.8L409.2 437.8ZM421.2 437.3L419.1 431.8L423.3 431.8ZM439.6 431.5L435.6 430.4L438.6 427.5ZM457.2 445.7L453.1 441.5L457.0 439.9ZM468.3 438.3L464.2 434.1L468.1 432.5ZM484.9 434.3L479.5 431.9L482.5 429.0ZM496.2 431.5L492.2 430.4L495.2 427.5ZM503.9 432.8L503.3 428.7L507.2 430.3ZM512.3 427.3L517.1 425.2L517.1 429.4ZM523.4 422.7L529.3 422.8L527.7 426.7ZM410.1 451.6L406.4 448.0L410.2 446.4ZM431.8 469.7L427.7 465.4L431.6 463.8ZM444.5 466.3L440.5 462.0L444.4 460.4ZM453.4 453.5L449.3 449.2L453.2 447.6ZM467.5 453.5L463.5 449.2L467.4 447.6ZM484.9 451.3L479.5 448.9L482.5 445.9ZM504.9 449.6L499.0 449.4L500.7 445.5ZM519.1 449.6L513.2 449.4L514.8 445.5ZM533.2 449.6L527.4 449.4L529.0 445.5ZM543.7 448.1L537.8 447.9L539.4 444.0ZM548.6 353.5L546.5 348.0L550.7 348.0ZM568.1 338.4L564.1 334.1L568.0 332.5ZM588.9 325.5L583.4 327.6L583.4 323.4ZM610.5 306.0L608.1 311.4L605.2 308.4ZM622.1 308.6L619.7 313.9L616.8 311.0ZM619.4 297.9L621.5 303.4L617.3 303.4ZM633.5 301.6L635.6 307.1L631.4 307.1ZM638.5 303.4L642.6 307.7L638.7 309.3ZM639.6 303.2L645.0 305.6L642.0 308.6ZM643.3 292.7L648.6 295.1L645.7 298.1ZM564.2 358.0L558.8 355.6L561.8 352.6ZM584.9 351.6L579.1 351.4L580.7 347.6ZM602.4 331.9L598.1 335.9L596.5 332.0ZM616.5 331.9L612.2 335.9L610.6 332.0ZM634.3 330.4L630.0 334.4L628.4 330.5ZM636.0 335.5L631.7 339.6L630.1 335.7ZM643.5 342.4L638.0 344.5L638.0 340.3ZM654.8 335.3L652.4 340.7L649.4 337.8ZM654.8 335.3L660.1 337.8L657.2 340.7ZM664.7 331.1L670.1 333.5L667.1 336.5ZM567.1 367.0L561.2 366.9L562.8 363.0ZM575.7 354.0L571.4 358.1L569.8 354.2ZM590.9 359.4L585.4 361.5L585.4 357.3ZM604.0 354.0L599.7 358.1L598.1 354.2ZM618.2 354.0L613.9 358.1L612.3 354.2ZM631.4 359.4L625.9 361.5L625.9 357.3ZM644.6 364.0L638.7 363.8L640.3 359.9ZM659.0 370.7L653.6 368.3L656.6 365.3ZM671.1 363.2L665.2 363.0L666.8 359.2ZM686.0 359.4L680.5 361.5L680.5 357.3ZM541.5 383.4L543.9 378.1L546.9 381.0ZM558.8 376.4L561.2 374.3L561.2 378.5ZM582.6 370.7L580.7 375.6L577.7 372.6ZM598.1 369.3L595.7 374.7L592.8 371.7ZM609.5 372.1L608.4 376.1L605.4 373.2ZM625.4 376.4L621.8 378.5L621.8 374.3ZM637.4 385.6L633.3 381.3L637.2 379.7ZM653.8 391.1L649.8 386.9L653.6 385.3ZM673.2 387.7L667.8 385.3L670.8 382.3ZM683.1 383.4L677.7 381.0L680.7 378.1ZM540.6 393.3L545.4 391.2L545.4 395.4ZM554.3 384.8L559.7 387.2L556.7 390.2ZM567.0 383.4L572.4 385.8L569.4 388.8ZM582.6 384.8L588.0 387.2L585.0 390.2ZM599.2 393.3L602.8 391.2L602.8 395.4ZM616.3 400.7L616.2 395.5L620.1 397.1ZM633.5 407.3L631.4 401.8L635.6 401.8ZM653.8 408.1L649.8 403.8L653.6 402.2ZM672.9 397.9L667.0 397.8L668.7 393.9ZM685.2 397.1L679.4 397.0L681.0 393.1ZM541.5 403.2L546.9 405.6L543.9 408.6ZM554.3 401.8L559.7 404.2L556.7 407.2ZM567.0 400.4L572.4 402.8L569.4 405.8ZM578.1 404.9L584.0 405.1L582.4 409.0ZM596.0 414.1L600.3 410.1L601.9 414.0ZM619.4 422.3L617.3 416.8L621.5 416.8ZM639.7 425.1L635.6 420.8L639.5 419.2ZM654.8 417.4L649.4 415.0L652.4 412.0ZM671.8 410.3L666.3 412.4L666.3 408.2ZM686.0 410.3L680.5 412.4L680.5 408.2ZM541.5 420.2L546.9 422.6L543.9 425.6ZM564.3 423.6L565.3 426.6L561.4 425.0ZM580.9 427.3L578.5 429.4L578.5 425.2ZM595.1 427.3L592.7 429.4L592.7 425.2ZM610.9 432.9L606.0 431.0L609.0 428.0ZM629.3 437.2L623.9 434.8L626.9 431.8ZM642.0 435.7L636.6 433.3L639.6 430.4ZM658.8 431.9L652.9 431.7L654.5 427.8ZM675.8 427.3L670.3 429.4L670.3 425.2ZM688.0 427.3L682.5 429.4L682.5 425.2ZM555.7 437.2L553.3 442.5L550.3 439.6ZM562.8 442.2L564.9 443.4L560.7 443.4ZM584.3 447.3L579.1 447.4L580.7 443.5ZM604.0 449.6L598.1 449.4L599.7 445.5ZM620.0 450.3L614.1 450.2L615.7 446.3ZM637.9 451.9L632.0 451.7L633.6 447.8ZM649.5 444.2L644.0 446.3L644.0 442.1ZM661.7 444.2L656.2 446.3L656.2 442.1ZM675.8 444.2L670.3 446.3L670.3 442.1ZM688.0 444.2L682.5 446.3L682.5 442.1ZM175.6 439.8L171.4 443.9L169.8 440.0ZM184.8 441.9L180.5 445.9L178.9 442.0ZM202.8 461.2L197.3 463.3L197.3 459.1ZM199.2 493.9L193.8 491.5L196.8 488.6ZM200.1 480.7L194.7 478.3L197.7 475.3ZM199.4 472.3L195.3 468.0L199.2 466.4ZM208.9 481.0L206.8 475.5L211.0 475.5ZM212.5 486.6L212.7 480.8L216.6 482.4ZM237.2 485.1L235.1 479.6L239.3 479.6ZM251.4 481.0L249.3 475.5L253.5 475.5ZM166.8 460.4L162.5 464.5L160.9 460.6ZM188.6 478.2L183.1 480.3L183.1 476.1ZM195.1 495.9L189.2 495.7L190.8 491.8ZM195.5 490.2L189.6 490.0L191.2 486.2ZM188.2 496.5L184.2 492.2L188.0 490.6ZM203.9 500.2L199.9 496.0L203.7 494.4ZM221.0 507.2L216.9 502.9L220.8 501.3ZM233.6 503.6L229.6 499.3L233.5 497.7ZM244.8 496.5L240.8 492.2L244.7 490.6ZM260.5 500.2L256.5 496.0L260.4 494.4ZM142.3 502.7L136.4 502.6L138.1 498.7ZM156.5 502.7L150.6 502.6L152.2 498.7ZM166.3 509.2L161.0 506.8L163.9 503.8ZM178.6 507.3L173.2 504.8L176.2 501.9ZM189.8 517.2L185.7 512.9L189.6 511.3ZM206.8 524.2L202.8 519.9L206.6 518.3ZM208.9 530.8L206.8 525.3L211.0 525.3ZM233.6 520.6L229.6 516.3L233.5 514.7ZM247.8 520.6L243.7 516.3L247.6 514.7ZM261.9 520.6L257.9 516.3L261.8 514.7ZM136.1 524.2L130.7 521.8L133.7 518.8ZM145.2 519.2L139.9 516.8L142.8 513.8ZM162.8 537.5L158.8 533.3L162.7 531.7ZM166.5 543.6L164.4 538.1L168.6 538.1ZM180.6 547.7L178.5 542.2L182.7 542.2ZM194.8 547.7L192.7 542.2L196.9 542.2ZM221.0 541.2L216.9 536.9L220.8 535.3ZM235.1 541.2L231.1 536.9L234.9 535.3ZM247.8 537.5L243.7 533.3L247.6 531.7ZM260.5 534.2L256.5 529.9L260.4 528.3ZM133.2 532.9L127.4 532.7L129.0 528.8ZM143.5 542.0L139.5 537.7L143.3 536.1ZM152.3 560.5L150.2 555.0L154.4 555.0ZM166.5 570.4L164.4 564.9L168.6 564.9ZM180.6 570.4L178.5 564.9L182.7 564.9ZM194.8 564.7L192.7 559.2L196.9 559.2ZM208.9 556.6L206.8 551.1L211.0 551.1ZM235.1 558.1L231.1 553.8L234.9 552.2ZM247.8 554.5L243.7 550.2L247.6 548.6ZM257.9 544.9L253.9 540.6L257.8 539.0ZM133.9 555.9L128.5 553.5L131.5 550.6ZM138.2 577.5L136.1 572.0L140.3 572.0ZM152.3 587.3L150.2 581.8L154.4 581.8ZM166.5 592.3L164.4 586.8L168.6 586.8ZM180.6 592.3L178.5 586.8L182.7 586.8ZM194.8 581.7L192.7 576.2L196.9 576.2ZM208.9 573.6L206.8 568.1L211.0 568.1ZM233.6 571.5L229.6 567.2L233.5 565.6ZM246.4 568.1L242.3 563.8L246.2 562.2ZM260.5 568.1L256.5 563.8L260.4 562.2ZM124.0 590.5L121.9 585.0L126.1 585.0ZM138.2 594.5L136.1 589.0L140.3 589.0ZM152.3 604.3L150.2 598.8L154.4 598.8ZM166.5 609.3L164.4 603.8L168.6 603.8ZM180.6 604.3L178.5 598.8L182.7 598.8ZM194.8 594.5L192.7 589.0L196.9 589.0ZM208.9 590.5L206.8 585.0L211.0 585.0ZM233.6 588.4L229.6 584.2L233.5 582.6ZM246.4 585.1L242.3 580.8L246.2 579.2ZM259.0 581.3L254.9 577.1L258.8 575.4ZM270.9 474.1L266.9 469.9L270.7 468.2ZM283.5 470.4L279.5 466.2L283.4 464.5ZM289.8 461.2L292.2 459.1L292.2 463.3ZM310.0 461.2L308.8 463.3L308.8 459.1ZM322.2 463.2L320.1 462.0L324.3 462.0ZM336.3 465.2L334.2 462.8L338.4 462.8ZM354.3 470.4L350.2 466.2L354.1 464.5ZM384.1 480.7L378.7 478.3L381.7 475.3ZM401.0 483.4L395.6 481.0L398.6 478.1ZM415.2 483.4L409.8 481.0L412.8 478.1ZM272.4 494.8L268.4 490.5L272.3 488.9ZM276.6 485.6L276.5 480.3L280.4 481.9ZM285.8 478.2L290.6 476.1L290.6 480.3ZM294.0 478.2L299.5 476.1L299.5 480.3ZM310.2 478.2L315.7 476.1L315.7 480.3ZM325.2 473.6L331.1 473.7L329.5 477.6ZM349.0 476.7L351.4 476.1L348.4 479.1ZM370.0 491.1L365.9 486.8L369.8 485.2ZM387.9 500.2L383.9 496.0L387.7 494.4ZM392.9 509.6L390.8 504.1L395.0 504.1ZM271.7 509.9L267.6 505.6L271.5 504.0ZM284.3 506.2L280.2 501.9L284.1 500.3ZM300.9 502.2L295.5 499.8L298.5 496.8ZM306.0 495.1L307.2 493.0L307.2 497.2ZM316.2 495.1L319.8 493.0L319.8 497.2ZM326.4 485.2L331.8 487.6L328.8 490.6ZM334.9 479.6L340.3 482.0L337.3 484.9ZM351.7 500.5L356.0 496.4L357.6 500.3ZM361.9 512.0L364.3 506.7L367.2 509.6ZM373.4 514.6L375.9 509.2L378.8 512.2ZM285.0 531.6L279.6 529.2L282.6 526.2ZM308.8 524.1L302.9 524.0L304.5 520.1ZM319.3 522.6L313.4 522.5L315.0 518.6ZM322.8 518.2L316.9 518.1L318.5 514.2ZM347.6 522.6L341.7 522.5L343.3 518.6ZM363.8 512.1L358.3 514.2L358.3 510.0ZM322.9 512.1L328.4 510.0L328.4 514.2ZM337.1 512.1L342.6 510.0L342.6 514.2ZM360.4 519.7L364.7 515.6L366.3 519.5ZM373.4 531.6L375.9 526.2L378.8 529.2ZM282.4 546.0L277.1 543.6L280.0 540.6ZM299.2 548.5L293.8 546.1L296.8 543.2ZM322.9 541.1L317.0 540.9L318.6 537.1ZM333.4 539.6L327.6 539.4L329.2 535.6ZM330.2 529.1L325.4 531.2L325.4 527.0ZM346.3 529.1L340.8 531.2L340.8 527.0ZM372.5 538.2L366.7 538.0L368.3 534.2ZM390.1 539.6L384.2 539.4L385.8 535.6ZM395.7 546.0L390.3 543.6L393.3 540.6ZM385.3 547.4L385.5 541.5L389.4 543.1ZM274.0 554.5L268.6 552.1L271.6 549.1ZM305.1 556.6L299.3 556.4L300.9 552.5ZM322.9 558.1L317.0 557.9L318.6 554.0ZM340.9 559.7L335.0 559.5L336.6 555.6ZM355.1 559.7L349.2 559.5L350.8 555.6ZM361.8 535.5L357.5 539.5L355.9 535.7ZM370.3 546.0L364.8 548.1L364.8 543.9ZM382.9 553.6L377.1 553.5L378.7 549.6ZM395.7 562.9L390.3 560.5L393.3 557.6ZM409.8 562.9L404.4 560.5L407.4 557.6ZM287.6 572.1L281.7 572.0L283.3 568.1ZM308.8 575.0L302.9 574.9L304.5 571.0ZM326.8 576.6L320.9 576.5L322.5 572.6ZM346.2 578.8L340.3 578.6L341.9 574.8ZM360.3 578.8L354.4 578.6L356.0 574.8ZM361.8 573.5L355.9 573.4L357.5 569.5ZM368.8 570.6L362.9 570.4L364.5 566.5ZM386.7 572.1L380.8 572.0L382.4 568.1ZM404.2 573.5L398.3 573.4L399.9 569.5ZM422.0 575.0L416.1 574.9L417.7 571.0ZM417.6 486.6L413.6 482.4L417.5 480.8ZM433.3 490.3L429.2 486.0L433.1 484.4ZM464.6 490.4L459.2 488.0L462.2 485.0ZM467.3 504.0L463.2 499.7L467.1 498.1ZM488.9 486.4L483.5 484.0L486.5 481.0ZM503.3 471.7L497.4 471.6L499.0 467.7ZM517.4 471.7L511.6 471.6L513.2 467.7ZM531.6 471.7L525.7 471.6L527.3 467.7ZM549.4 473.2L543.5 473.1L545.1 469.2ZM559.9 471.7L554.0 471.6L555.6 467.7ZM407.1 505.7L405.0 500.2L409.2 500.2ZM421.2 505.7L419.1 500.2L423.3 500.2ZM447.4 507.2L443.4 502.9L447.3 501.3ZM467.3 520.9L463.2 516.7L467.1 515.1ZM488.9 503.4L483.5 501.0L486.5 498.0ZM503.3 488.7L497.4 488.5L499.0 484.7ZM517.4 488.7L511.6 488.5L513.2 484.7ZM533.7 478.2L528.2 480.3L528.2 476.1ZM542.4 487.3L536.5 487.1L538.1 483.3ZM559.9 488.7L554.0 488.5L555.6 484.7ZM396.5 520.6L396.7 514.7L400.6 516.3ZM421.2 519.0L419.1 513.5L423.3 513.5ZM424.8 520.6L425.0 514.7L428.9 516.3ZM449.5 526.6L447.4 521.1L451.6 521.1ZM474.2 520.6L470.2 516.3L474.1 514.7ZM488.9 499.7L483.0 499.6L484.7 495.7ZM503.1 499.7L497.2 499.6L498.8 495.7ZM513.2 502.2L507.8 499.8L510.8 496.8ZM531.6 506.4L526.2 504.0L529.2 501.1ZM542.9 503.6L537.6 501.2L540.5 498.2ZM397.9 534.2L398.1 528.3L402.0 529.9ZM412.1 534.2L412.3 528.3L416.1 529.9ZM435.4 536.0L433.3 530.5L437.5 530.5ZM460.1 537.5L456.0 533.3L459.9 531.7ZM469.0 525.0L465.0 520.8L468.9 519.1ZM477.8 522.1L475.7 516.6L479.9 516.6ZM488.9 519.5L488.8 514.2L492.7 515.9ZM506.2 520.1L504.1 515.3L508.3 515.3ZM524.9 523.2L520.9 518.9L524.7 517.3ZM542.9 520.6L537.6 518.2L540.5 515.2ZM395.0 541.2L397.4 535.8L400.3 538.8ZM415.9 542.0L416.0 536.1L419.9 537.7ZM441.5 543.8L437.5 539.6L441.3 538.0ZM455.7 543.8L451.6 539.6L455.5 538.0ZM470.6 545.7L466.5 541.4L470.4 539.8ZM484.0 543.8L479.9 539.6L483.8 538.0ZM497.7 534.7L492.8 532.8L495.7 529.8ZM513.2 536.1L507.8 533.7L510.8 530.8ZM524.1 538.3L520.1 534.0L524.0 532.4ZM538.3 538.3L534.2 534.0L538.1 532.4ZM407.1 558.0L405.0 552.5L409.2 552.5ZM421.2 556.0L419.1 550.5L423.3 550.5ZM431.6 555.3L431.7 549.4L435.6 551.0ZM444.2 559.0L444.3 553.1L448.2 554.7ZM463.7 562.0L461.6 556.5L465.8 556.5ZM484.0 560.8L479.9 556.5L483.8 554.9ZM501.9 555.9L496.5 553.5L499.5 550.6ZM514.6 554.5L509.3 552.1L512.2 549.1ZM525.7 559.0L521.6 554.7L525.5 553.1ZM541.5 553.1L536.2 550.7L539.1 547.7ZM407.1 586.9L405.0 581.4L409.2 581.4ZM421.2 582.8L419.1 577.3L423.3 577.3ZM435.4 580.1L433.3 574.6L437.5 574.6ZM449.5 580.1L447.4 574.6L451.6 574.6ZM463.7 590.5L461.6 585.0L465.8 585.0ZM477.8 586.9L475.7 581.4L479.9 581.4ZM492.0 582.8L489.9 577.3L494.1 577.3ZM506.2 590.5L504.1 585.0L508.3 585.0ZM520.3 590.5L518.2 585.0L522.4 585.0ZM534.5 604.3L532.4 598.8L536.6 598.8ZM574.1 471.7L568.2 471.6L569.8 467.7ZM572.0 465.0L566.1 464.9L567.7 461.0ZM581.2 465.4L577.1 464.4L580.1 461.4ZM598.1 468.3L592.8 465.9L595.7 462.9ZM615.1 471.1L609.8 468.7L612.7 465.7ZM634.2 467.3L628.3 467.2L629.9 463.3ZM651.5 461.2L646.0 463.3L646.0 459.1ZM663.7 461.2L658.2 463.3L658.2 459.1ZM675.8 461.2L670.3 463.3L670.3 459.1ZM688.0 461.2L682.5 463.3L682.5 459.1ZM568.1 497.6L562.7 495.2L565.7 492.3ZM582.2 497.6L576.9 495.2L579.8 492.3ZM588.2 489.5L582.9 487.1L585.8 484.1ZM594.1 485.6L590.4 481.9L594.2 480.3ZM608.1 481.0L604.9 480.8L607.8 477.8ZM628.6 474.3L624.3 478.4L622.7 474.5ZM646.5 472.8L642.2 476.8L640.6 473.0ZM660.6 483.5L654.7 483.4L656.3 479.5ZM674.8 483.5L668.9 483.4L670.5 479.5ZM687.1 482.8L681.2 482.6L682.8 478.7ZM565.5 512.0L560.1 509.6L563.1 506.7ZM582.2 514.6L576.9 512.2L579.8 509.2ZM596.4 514.6L591.0 512.2L594.0 509.2ZM613.2 504.3L607.3 504.1L608.9 500.2ZM620.0 501.3L614.1 501.1L615.7 497.2ZM627.9 486.6L625.5 492.0L622.5 489.0ZM644.6 490.5L640.3 494.6L638.7 490.7ZM662.5 501.3L656.6 501.1L658.2 497.2ZM674.8 500.5L668.9 500.3L670.5 496.4ZM687.1 499.7L681.2 499.6L682.8 495.7ZM557.1 520.6L551.7 518.2L554.7 515.2ZM584.8 521.2L579.0 521.1L580.6 517.2ZM599.0 521.2L593.1 521.1L594.7 517.2ZM616.5 522.6L610.6 522.5L612.2 518.6ZM630.7 522.6L624.8 522.5L626.4 518.6ZM641.5 521.2L635.6 521.1L637.2 517.2ZM649.5 512.1L644.0 514.2L644.0 510.0ZM664.3 519.0L658.4 518.8L660.0 514.9ZM676.6 518.2L670.7 518.1L672.3 514.2ZM688.9 517.5L683.0 517.3L684.7 513.4ZM551.7 536.5L547.9 532.8L551.8 531.2ZM572.8 529.1L567.3 531.2L567.3 527.0ZM592.9 529.1L587.4 531.2L587.4 527.0ZM618.6 529.1L613.1 531.2L613.1 527.0ZM630.7 539.6L624.8 539.4L626.4 535.6ZM644.8 539.6L638.9 539.4L640.5 535.6ZM659.0 539.6L653.1 539.4L654.7 535.6ZM669.8 538.2L663.9 538.0L665.5 534.2ZM674.8 534.4L668.9 534.3L670.5 530.4ZM688.9 534.4L683.0 534.3L684.7 530.4ZM589.9 546.0L584.4 548.1L584.4 543.9ZM609.1 546.0L603.6 548.1L603.6 543.9ZM623.2 546.0L617.7 548.1L617.7 543.9ZM633.9 563.8L628.0 563.6L629.6 559.7ZM648.0 563.8L642.1 563.6L643.7 559.7ZM657.5 561.8L651.7 561.7L653.3 557.8ZM666.5 559.7L660.6 559.5L662.2 555.6ZM673.1 556.6L667.2 556.4L668.9 552.5ZM672.9 550.6L667.0 550.5L668.7 546.6ZM687.1 550.6L681.2 550.5L682.8 546.6ZM599.1 563.0L593.6 565.1L593.6 560.9ZM618.7 563.0L613.2 565.1L613.2 560.9ZM627.4 563.0L621.9 565.1L621.9 560.9ZM637.4 563.0L631.9 565.1L631.9 560.9ZM655.7 563.0L650.2 565.1L650.2 560.9ZM675.3 563.0L669.8 565.1L669.8 560.9ZM699.6 563.0L694.1 565.1L694.1 560.9ZM698.2 563.0L692.7 565.1L692.7 560.9ZM693.3 563.0L687.8 565.1L687.8 560.9ZM703.5 563.0L698.0 565.1L698.0 560.9Z" fill="#000" stroke="#000" stroke-width="0.5" stroke-linejoin="round"/></g><path d="M124.0 54 V563 M194.8 54 V563 M265.5 54 V563 M336.3 54 V563 M407.1 54 V563 M477.8 54 V563 M548.6 54 V563 M619.4 54 V563 M124 529.1 H676 M124 444.2 H676 M124 359.4 H676 M124 274.5 H676 M124 189.7 H676 M124 104.9 H676" stroke="#b4b4b4" stroke-width="1.3" stroke-dasharray="2 4.5" fill="none"/><rect x="124" y="54" width="552" height="509" fill="none" stroke="#000" stroke-width="2"/><path d="M124.0 563 V567 M194.8 563 V567 M265.5 563 V567 M336.3 563 V567 M407.1 563 V567 M477.8 563 V567 M548.6 563 V567 M619.4 563 V567 M120 529.1 H124 M120 444.2 H124 M120 359.4 H124 M120 274.5 H124 M120 189.7 H124 M120 104.9 H124" stroke="#000" stroke-width="1.5" fill="none"/><text x="112.2" y="578.8" class="tk" textLength="23.7" lengthAdjust="spacingAndGlyphs">28.5</text><text x="188.0" y="578.8" class="tk" textLength="13.5" lengthAdjust="spacingAndGlyphs">29</text><text x="253.7" y="578.8" class="tk" textLength="23.7" lengthAdjust="spacingAndGlyphs">29.5</text><text x="329.6" y="578.8" class="tk" textLength="13.5" lengthAdjust="spacingAndGlyphs">30</text><text x="395.2" y="578.8" class="tk" textLength="23.7" lengthAdjust="spacingAndGlyphs">30.5</text><text x="471.8" y="578.8" class="tk" textLength="12.0" lengthAdjust="spacingAndGlyphs">31</text><text x="537.4" y="578.8" class="tk" textLength="22.5" lengthAdjust="spacingAndGlyphs">31.5</text><text x="612.6" y="578.8" class="tk" textLength="13.5" lengthAdjust="spacingAndGlyphs">32</text><text x="103.1" y="534.4" class="tk" textLength="13.5" lengthAdjust="spacingAndGlyphs">43</text><text x="93.1" y="449.5" class="tk" textLength="23.5" lengthAdjust="spacingAndGlyphs">43.5</text><text x="103.1" y="364.7" class="tk" textLength="13.5" lengthAdjust="spacingAndGlyphs">44</text><text x="93.1" y="279.8" class="tk" textLength="23.5" lengthAdjust="spacingAndGlyphs">44.5</text><text x="103.1" y="195.0" class="tk" textLength="13.5" lengthAdjust="spacingAndGlyphs">45</text><text x="93.1" y="110.2" class="tk" textLength="23.5" lengthAdjust="spacingAndGlyphs">45.5</text><text x="19.5" y="42" class="ttl" textLength="81.0" lengthAdjust="spacingAndGlyphs">Current</text><text x="114.5" y="42" class="ttl" textLength="83.5" lengthAdjust="spacingAndGlyphs">velocity</text><text x="212.0" y="42" class="ttl" textLength="76.0" lengthAdjust="spacingAndGlyphs">(m/s).</text><text x="301.5" y="42" class="ttl" textLength="51.0" lengthAdjust="spacingAndGlyphs">Date</text><text x="366.5" y="42" class="ttl" textLength="136.5" lengthAdjust="spacingAndGlyphs">2026.02.16.</text><text x="517.0" y="42" class="ttl" textLength="52.5" lengthAdjust="spacingAndGlyphs">Time</text><text x="583.0" y="42" class="ttl" textLength="139.5" lengthAdjust="spacingAndGlyphs">00(h):00(m)</text><text x="737.5" y="42" class="ttl" textLength="44.0" lengthAdjust="spacingAndGlyphs">GMT</text><text x="323" y="606.3" class="ax" textLength="87.5" lengthAdjust="spacingAndGlyphs">Longitude</text><text x="421.8" y="606.3" class="ax" textLength="54" lengthAdjust="spacingAndGlyphs">(East)</text><g transform="translate(82.5 0) rotate(-90)"><text x="-382.6" y="0" class="ax" textLength="71.5" lengthAdjust="spacingAndGlyphs">Latitude</text><text x="-291.8" y="0" class="ax" textLength="58" lengthAdjust="spacingAndGlyphs">(North)</text></g><defs><linearGradient id="cbg" x1="0" y1="1" x2="0" y2="0"><stop offset="0.0000" stop-color="#1438ff"/><stop offset="0.1984" stop-color="#1438ff"/><stop offset="0.2105" stop-color="#1048ff"/><stop offset="0.2308" stop-color="#0058ff"/><stop offset="0.2490" stop-color="#0070ff"/><stop offset="0.2672" stop-color="#0088ff"/><stop offset="0.2976" stop-color="#0098ff"/><stop offset="0.3219" stop-color="#00b0ff"/><stop offset="0.3462" stop-color="#00c8ff"/><stop offset="0.3704" stop-color="#00e0ff"/><stop offset="0.3947" stop-color="#00f0f0"/><stop offset="0.4231" stop-color="#30f0d0"/><stop offset="0.4514" stop-color="#50f0b0"/><stop offset="0.4798" stop-color="#70f090"/><stop offset="0.5061" stop-color="#90f870"/><stop offset="0.5324" stop-color="#a0f870"/><stop offset="0.5567" stop-color="#b8f850"/><stop offset="0.5810" stop-color="#d0ff30"/><stop offset="0.6053" stop-color="#e8ff10"/><stop offset="0.6235" stop-color="#ffff00"/><stop offset="0.6356" stop-color="#ffe800"/><stop offset="0.6538" stop-color="#ffd000"/><stop offset="0.6802" stop-color="#ffb800"/><stop offset="0.7045" stop-color="#ffa000"/><stop offset="0.7287" stop-color="#ff8800"/><stop offset="0.7530" stop-color="#ff7000"/><stop offset="0.7753" stop-color="#ff6800"/><stop offset="0.7935" stop-color="#ff5800"/><stop offset="0.8158" stop-color="#ff4800"/><stop offset="0.8340" stop-color="#ff3000"/><stop offset="0.8462" stop-color="#ff1800"/><stop offset="0.8644" stop-color="#ff0000"/><stop offset="0.8887" stop-color="#e00000"/><stop offset="0.9130" stop-color="#c80000"/><stop offset="0.9332" stop-color="#b00000"/><stop offset="0.9534" stop-color="#980000"/><stop offset="0.9838" stop-color="#800000"/><stop offset="1.0000" stop-color="#800000"/></linearGradient></defs><rect x="709" y="62" width="14" height="494" fill="url(#cbg)"/><text x="734.6" y="73.1" class="cbl" textLength="29" lengthAdjust="spacingAndGlyphs">0.55</text><text x="734.6" y="189.1" class="cbl" textLength="29" lengthAdjust="spacingAndGlyphs">0.42</text><text x="734.6" y="311.1" class="cbl" textLength="29" lengthAdjust="spacingAndGlyphs">0.28</text><text x="734.6" y="433.7" class="cbl" textLength="29" lengthAdjust="spacingAndGlyphs">0.14</text><text x="734.6" y="555.5" class="cbl" textLength="29" lengthAdjust="spacingAndGlyphs">0.00</text><text x="145.5" y="109.3" class="zl" textLength="13" lengthAdjust="spacingAndGlyphs">Z</text><text x="175" y="109.3" class="zl" textLength="15" lengthAdjust="spacingAndGlyphs">=</text><text x="205.5" y="109.3" class="zl" textLength="36" lengthAdjust="spacingAndGlyphs">2.5</text><text x="255" y="109.3" class="zl" textLength="20" lengthAdjust="spacingAndGlyphs">m</text></svg></body></html>
